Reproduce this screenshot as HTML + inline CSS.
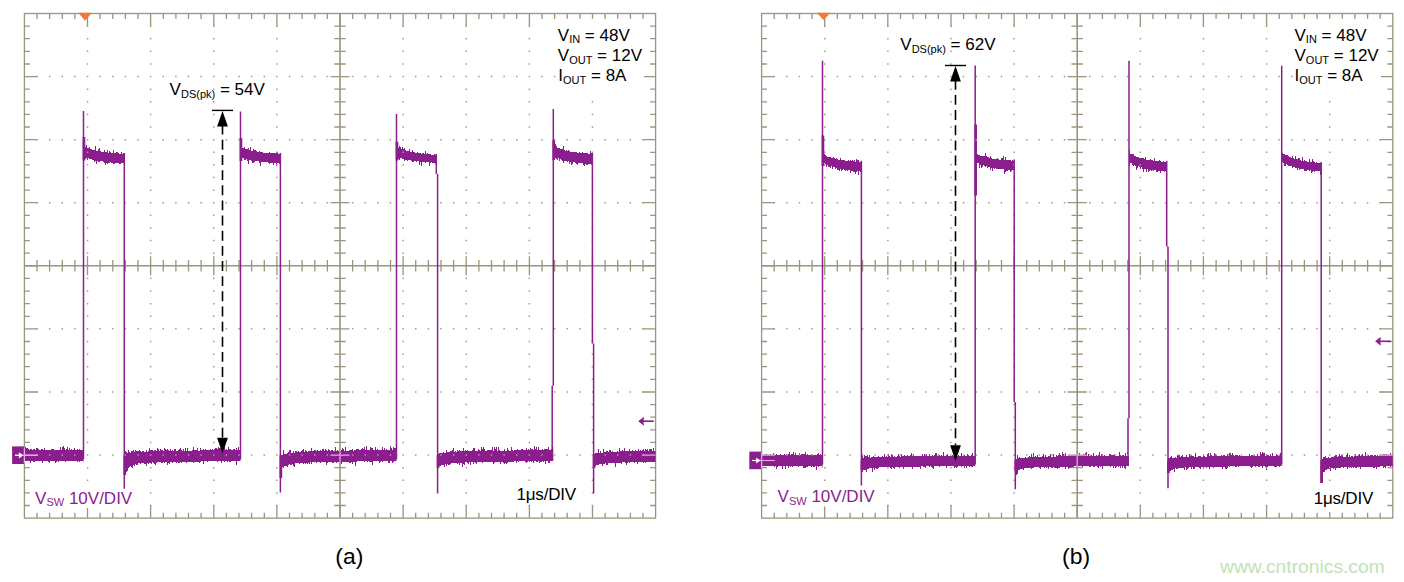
<!DOCTYPE html>
<html><head><meta charset="utf-8"><style>
html,body{margin:0;padding:0;background:#fff;}
svg{display:block;font-family:"Liberation Sans",sans-serif;}
</style></head><body>
<svg width="1404" height="582" viewBox="0 0 1404 582">
<rect x="24.4" y="13.5" width="631.2" height="504.6" fill="none" stroke="#9a957c" stroke-width="1.3"/>
<path d="M37.0 13.5v5.4M37.0 518.1v-5.4M49.6 13.5v5.4M49.6 518.1v-5.4M62.3 13.5v5.4M62.3 518.1v-5.4M74.9 13.5v5.4M74.9 518.1v-5.4M87.5 13.5v13.2M87.5 518.1v-13.2M100.1 13.5v5.4M100.1 518.1v-5.4M112.8 13.5v5.4M112.8 518.1v-5.4M125.4 13.5v5.4M125.4 518.1v-5.4M138.0 13.5v5.4M138.0 518.1v-5.4M150.6 13.5v13.2M150.6 518.1v-13.2M163.3 13.5v5.4M163.3 518.1v-5.4M175.9 13.5v5.4M175.9 518.1v-5.4M188.5 13.5v5.4M188.5 518.1v-5.4M201.1 13.5v5.4M201.1 518.1v-5.4M213.8 13.5v13.2M213.8 518.1v-13.2M226.4 13.5v5.4M226.4 518.1v-5.4M239.0 13.5v5.4M239.0 518.1v-5.4M251.6 13.5v5.4M251.6 518.1v-5.4M264.3 13.5v5.4M264.3 518.1v-5.4M276.9 13.5v13.2M276.9 518.1v-13.2M289.5 13.5v5.4M289.5 518.1v-5.4M302.1 13.5v5.4M302.1 518.1v-5.4M314.8 13.5v5.4M314.8 518.1v-5.4M327.4 13.5v5.4M327.4 518.1v-5.4M340.0 13.5v13.2M340.0 518.1v-13.2M352.6 13.5v5.4M352.6 518.1v-5.4M365.2 13.5v5.4M365.2 518.1v-5.4M377.9 13.5v5.4M377.9 518.1v-5.4M390.5 13.5v5.4M390.5 518.1v-5.4M403.1 13.5v13.2M403.1 518.1v-13.2M415.7 13.5v5.4M415.7 518.1v-5.4M428.4 13.5v5.4M428.4 518.1v-5.4M441.0 13.5v5.4M441.0 518.1v-5.4M453.6 13.5v5.4M453.6 518.1v-5.4M466.2 13.5v13.2M466.2 518.1v-13.2M478.9 13.5v5.4M478.9 518.1v-5.4M491.5 13.5v5.4M491.5 518.1v-5.4M504.1 13.5v5.4M504.1 518.1v-5.4M516.7 13.5v5.4M516.7 518.1v-5.4M529.4 13.5v13.2M529.4 518.1v-13.2M542.0 13.5v5.4M542.0 518.1v-5.4M554.6 13.5v5.4M554.6 518.1v-5.4M567.2 13.5v5.4M567.2 518.1v-5.4M579.9 13.5v5.4M579.9 518.1v-5.4M592.5 13.5v13.2M592.5 518.1v-13.2M605.1 13.5v5.4M605.1 518.1v-5.4M617.7 13.5v5.4M617.7 518.1v-5.4M630.4 13.5v5.4M630.4 518.1v-5.4M643.0 13.5v5.4M643.0 518.1v-5.4M24.4 26.1h5.4M655.6 26.1h-5.4M24.4 38.7h5.4M655.6 38.7h-5.4M24.4 51.3h5.4M655.6 51.3h-5.4M24.4 64.0h5.4M655.6 64.0h-5.4M24.4 76.6h13.2M655.6 76.6h-13.2M24.4 89.2h5.4M655.6 89.2h-5.4M24.4 101.8h5.4M655.6 101.8h-5.4M24.4 114.4h5.4M655.6 114.4h-5.4M24.4 127.0h5.4M655.6 127.0h-5.4M24.4 139.7h13.2M655.6 139.7h-13.2M24.4 152.3h5.4M655.6 152.3h-5.4M24.4 164.9h5.4M655.6 164.9h-5.4M24.4 177.5h5.4M655.6 177.5h-5.4M24.4 190.1h5.4M655.6 190.1h-5.4M24.4 202.7h13.2M655.6 202.7h-13.2M24.4 215.4h5.4M655.6 215.4h-5.4M24.4 228.0h5.4M655.6 228.0h-5.4M24.4 240.6h5.4M655.6 240.6h-5.4M24.4 253.2h5.4M655.6 253.2h-5.4M24.4 265.8h13.2M655.6 265.8h-13.2M24.4 278.4h5.4M655.6 278.4h-5.4M24.4 291.1h5.4M655.6 291.1h-5.4M24.4 303.7h5.4M655.6 303.7h-5.4M24.4 316.3h5.4M655.6 316.3h-5.4M24.4 328.9h13.2M655.6 328.9h-13.2M24.4 341.5h5.4M655.6 341.5h-5.4M24.4 354.1h5.4M655.6 354.1h-5.4M24.4 366.7h5.4M655.6 366.7h-5.4M24.4 379.4h5.4M655.6 379.4h-5.4M24.4 392.0h13.2M655.6 392.0h-13.2M24.4 404.6h5.4M655.6 404.6h-5.4M24.4 417.2h5.4M655.6 417.2h-5.4M24.4 429.8h5.4M655.6 429.8h-5.4M24.4 442.4h5.4M655.6 442.4h-5.4M24.4 455.1h13.2M655.6 455.1h-13.2M24.4 467.7h5.4M655.6 467.7h-5.4M24.4 480.3h5.4M655.6 480.3h-5.4M24.4 492.9h5.4M655.6 492.9h-5.4M24.4 505.5h5.4M655.6 505.5h-5.4M37.0 260.1v11.4M49.6 260.1v11.4M62.3 260.1v11.4M74.9 260.1v11.4M87.5 256.3v19.0M100.1 260.1v11.4M112.8 260.1v11.4M125.4 260.1v11.4M138.0 260.1v11.4M150.6 256.3v19.0M163.3 260.1v11.4M175.9 260.1v11.4M188.5 260.1v11.4M201.1 260.1v11.4M213.8 256.3v19.0M226.4 260.1v11.4M239.0 260.1v11.4M251.6 260.1v11.4M264.3 260.1v11.4M276.9 256.3v19.0M289.5 260.1v11.4M302.1 260.1v11.4M314.8 260.1v11.4M327.4 260.1v11.4M352.6 260.1v11.4M365.2 260.1v11.4M377.9 260.1v11.4M390.5 260.1v11.4M403.1 256.3v19.0M415.7 260.1v11.4M428.4 260.1v11.4M441.0 260.1v11.4M453.6 260.1v11.4M466.2 256.3v19.0M478.9 260.1v11.4M491.5 260.1v11.4M504.1 260.1v11.4M516.7 260.1v11.4M529.4 256.3v19.0M542.0 260.1v11.4M554.6 260.1v11.4M567.2 260.1v11.4M579.9 260.1v11.4M592.5 256.3v19.0M605.1 260.1v11.4M617.7 260.1v11.4M630.4 260.1v11.4M643.0 260.1v11.4M334.3 26.1h11.4M334.3 38.7h11.4M334.3 51.3h11.4M334.3 64.0h11.4M330.5 76.6h19.0M334.3 89.2h11.4M334.3 101.8h11.4M334.3 114.4h11.4M334.3 127.0h11.4M330.5 139.7h19.0M334.3 152.3h11.4M334.3 164.9h11.4M334.3 177.5h11.4M334.3 190.1h11.4M330.5 202.7h19.0M334.3 215.4h11.4M334.3 228.0h11.4M334.3 240.6h11.4M334.3 253.2h11.4M334.3 278.4h11.4M334.3 291.1h11.4M334.3 303.7h11.4M334.3 316.3h11.4M330.5 328.9h19.0M334.3 341.5h11.4M334.3 354.1h11.4M334.3 366.7h11.4M334.3 379.4h11.4M330.5 392.0h19.0M334.3 404.6h11.4M334.3 417.2h11.4M334.3 429.8h11.4M334.3 442.4h11.4M330.5 455.1h19.0M334.3 467.7h11.4M334.3 480.3h11.4M334.3 492.9h11.4M334.3 505.5h11.4" stroke="#9a957c" stroke-width="1.3" fill="none"/>
<path d="M340.0 13.5V518.1M24.4 265.8H655.6" stroke="#9a957c" stroke-width="1.6" fill="none"/>
<path d="M86.8 25.4h1.5v1.5h-1.5zM86.8 38.0h1.5v1.5h-1.5zM86.8 50.6h1.5v1.5h-1.5zM86.8 63.2h1.5v1.5h-1.5zM86.8 75.8h1.5v1.5h-1.5zM86.8 88.4h1.5v1.5h-1.5zM86.8 101.1h1.5v1.5h-1.5zM86.8 113.7h1.5v1.5h-1.5zM86.8 126.3h1.5v1.5h-1.5zM86.8 138.9h1.5v1.5h-1.5zM86.8 151.5h1.5v1.5h-1.5zM86.8 164.1h1.5v1.5h-1.5zM86.8 176.8h1.5v1.5h-1.5zM86.8 189.4h1.5v1.5h-1.5zM86.8 202.0h1.5v1.5h-1.5zM86.8 214.6h1.5v1.5h-1.5zM86.8 227.2h1.5v1.5h-1.5zM86.8 239.8h1.5v1.5h-1.5zM86.8 252.5h1.5v1.5h-1.5zM86.8 277.7h1.5v1.5h-1.5zM86.8 290.3h1.5v1.5h-1.5zM86.8 302.9h1.5v1.5h-1.5zM86.8 315.5h1.5v1.5h-1.5zM86.8 328.1h1.5v1.5h-1.5zM86.8 340.8h1.5v1.5h-1.5zM86.8 353.4h1.5v1.5h-1.5zM86.8 366.0h1.5v1.5h-1.5zM86.8 378.6h1.5v1.5h-1.5zM86.8 391.2h1.5v1.5h-1.5zM86.8 403.8h1.5v1.5h-1.5zM86.8 416.5h1.5v1.5h-1.5zM86.8 429.1h1.5v1.5h-1.5zM86.8 441.7h1.5v1.5h-1.5zM86.8 454.3h1.5v1.5h-1.5zM86.8 466.9h1.5v1.5h-1.5zM86.8 479.5h1.5v1.5h-1.5zM86.8 492.2h1.5v1.5h-1.5zM86.8 504.8h1.5v1.5h-1.5zM149.9 25.4h1.5v1.5h-1.5zM149.9 38.0h1.5v1.5h-1.5zM149.9 50.6h1.5v1.5h-1.5zM149.9 63.2h1.5v1.5h-1.5zM149.9 75.8h1.5v1.5h-1.5zM149.9 88.4h1.5v1.5h-1.5zM149.9 101.1h1.5v1.5h-1.5zM149.9 113.7h1.5v1.5h-1.5zM149.9 126.3h1.5v1.5h-1.5zM149.9 138.9h1.5v1.5h-1.5zM149.9 151.5h1.5v1.5h-1.5zM149.9 164.1h1.5v1.5h-1.5zM149.9 176.8h1.5v1.5h-1.5zM149.9 189.4h1.5v1.5h-1.5zM149.9 202.0h1.5v1.5h-1.5zM149.9 214.6h1.5v1.5h-1.5zM149.9 227.2h1.5v1.5h-1.5zM149.9 239.8h1.5v1.5h-1.5zM149.9 252.5h1.5v1.5h-1.5zM149.9 277.7h1.5v1.5h-1.5zM149.9 290.3h1.5v1.5h-1.5zM149.9 302.9h1.5v1.5h-1.5zM149.9 315.5h1.5v1.5h-1.5zM149.9 328.1h1.5v1.5h-1.5zM149.9 340.8h1.5v1.5h-1.5zM149.9 353.4h1.5v1.5h-1.5zM149.9 366.0h1.5v1.5h-1.5zM149.9 378.6h1.5v1.5h-1.5zM149.9 391.2h1.5v1.5h-1.5zM149.9 403.8h1.5v1.5h-1.5zM149.9 416.5h1.5v1.5h-1.5zM149.9 429.1h1.5v1.5h-1.5zM149.9 441.7h1.5v1.5h-1.5zM149.9 454.3h1.5v1.5h-1.5zM149.9 466.9h1.5v1.5h-1.5zM149.9 479.5h1.5v1.5h-1.5zM149.9 492.2h1.5v1.5h-1.5zM149.9 504.8h1.5v1.5h-1.5zM213.0 25.4h1.5v1.5h-1.5zM213.0 38.0h1.5v1.5h-1.5zM213.0 50.6h1.5v1.5h-1.5zM213.0 63.2h1.5v1.5h-1.5zM213.0 75.8h1.5v1.5h-1.5zM213.0 88.4h1.5v1.5h-1.5zM213.0 101.1h1.5v1.5h-1.5zM213.0 113.7h1.5v1.5h-1.5zM213.0 126.3h1.5v1.5h-1.5zM213.0 138.9h1.5v1.5h-1.5zM213.0 151.5h1.5v1.5h-1.5zM213.0 164.1h1.5v1.5h-1.5zM213.0 176.8h1.5v1.5h-1.5zM213.0 189.4h1.5v1.5h-1.5zM213.0 202.0h1.5v1.5h-1.5zM213.0 214.6h1.5v1.5h-1.5zM213.0 227.2h1.5v1.5h-1.5zM213.0 239.8h1.5v1.5h-1.5zM213.0 252.5h1.5v1.5h-1.5zM213.0 277.7h1.5v1.5h-1.5zM213.0 290.3h1.5v1.5h-1.5zM213.0 302.9h1.5v1.5h-1.5zM213.0 315.5h1.5v1.5h-1.5zM213.0 328.1h1.5v1.5h-1.5zM213.0 340.8h1.5v1.5h-1.5zM213.0 353.4h1.5v1.5h-1.5zM213.0 366.0h1.5v1.5h-1.5zM213.0 378.6h1.5v1.5h-1.5zM213.0 391.2h1.5v1.5h-1.5zM213.0 403.8h1.5v1.5h-1.5zM213.0 416.5h1.5v1.5h-1.5zM213.0 429.1h1.5v1.5h-1.5zM213.0 441.7h1.5v1.5h-1.5zM213.0 454.3h1.5v1.5h-1.5zM213.0 466.9h1.5v1.5h-1.5zM213.0 479.5h1.5v1.5h-1.5zM213.0 492.2h1.5v1.5h-1.5zM213.0 504.8h1.5v1.5h-1.5zM276.1 25.4h1.5v1.5h-1.5zM276.1 38.0h1.5v1.5h-1.5zM276.1 50.6h1.5v1.5h-1.5zM276.1 63.2h1.5v1.5h-1.5zM276.1 75.8h1.5v1.5h-1.5zM276.1 88.4h1.5v1.5h-1.5zM276.1 101.1h1.5v1.5h-1.5zM276.1 113.7h1.5v1.5h-1.5zM276.1 126.3h1.5v1.5h-1.5zM276.1 138.9h1.5v1.5h-1.5zM276.1 151.5h1.5v1.5h-1.5zM276.1 164.1h1.5v1.5h-1.5zM276.1 176.8h1.5v1.5h-1.5zM276.1 189.4h1.5v1.5h-1.5zM276.1 202.0h1.5v1.5h-1.5zM276.1 214.6h1.5v1.5h-1.5zM276.1 227.2h1.5v1.5h-1.5zM276.1 239.8h1.5v1.5h-1.5zM276.1 252.5h1.5v1.5h-1.5zM276.1 277.7h1.5v1.5h-1.5zM276.1 290.3h1.5v1.5h-1.5zM276.1 302.9h1.5v1.5h-1.5zM276.1 315.5h1.5v1.5h-1.5zM276.1 328.1h1.5v1.5h-1.5zM276.1 340.8h1.5v1.5h-1.5zM276.1 353.4h1.5v1.5h-1.5zM276.1 366.0h1.5v1.5h-1.5zM276.1 378.6h1.5v1.5h-1.5zM276.1 391.2h1.5v1.5h-1.5zM276.1 403.8h1.5v1.5h-1.5zM276.1 416.5h1.5v1.5h-1.5zM276.1 429.1h1.5v1.5h-1.5zM276.1 441.7h1.5v1.5h-1.5zM276.1 454.3h1.5v1.5h-1.5zM276.1 466.9h1.5v1.5h-1.5zM276.1 479.5h1.5v1.5h-1.5zM276.1 492.2h1.5v1.5h-1.5zM276.1 504.8h1.5v1.5h-1.5zM402.4 25.4h1.5v1.5h-1.5zM402.4 38.0h1.5v1.5h-1.5zM402.4 50.6h1.5v1.5h-1.5zM402.4 63.2h1.5v1.5h-1.5zM402.4 75.8h1.5v1.5h-1.5zM402.4 88.4h1.5v1.5h-1.5zM402.4 101.1h1.5v1.5h-1.5zM402.4 113.7h1.5v1.5h-1.5zM402.4 126.3h1.5v1.5h-1.5zM402.4 138.9h1.5v1.5h-1.5zM402.4 151.5h1.5v1.5h-1.5zM402.4 164.1h1.5v1.5h-1.5zM402.4 176.8h1.5v1.5h-1.5zM402.4 189.4h1.5v1.5h-1.5zM402.4 202.0h1.5v1.5h-1.5zM402.4 214.6h1.5v1.5h-1.5zM402.4 227.2h1.5v1.5h-1.5zM402.4 239.8h1.5v1.5h-1.5zM402.4 252.5h1.5v1.5h-1.5zM402.4 277.7h1.5v1.5h-1.5zM402.4 290.3h1.5v1.5h-1.5zM402.4 302.9h1.5v1.5h-1.5zM402.4 315.5h1.5v1.5h-1.5zM402.4 328.1h1.5v1.5h-1.5zM402.4 340.8h1.5v1.5h-1.5zM402.4 353.4h1.5v1.5h-1.5zM402.4 366.0h1.5v1.5h-1.5zM402.4 378.6h1.5v1.5h-1.5zM402.4 391.2h1.5v1.5h-1.5zM402.4 403.8h1.5v1.5h-1.5zM402.4 416.5h1.5v1.5h-1.5zM402.4 429.1h1.5v1.5h-1.5zM402.4 441.7h1.5v1.5h-1.5zM402.4 454.3h1.5v1.5h-1.5zM402.4 466.9h1.5v1.5h-1.5zM402.4 479.5h1.5v1.5h-1.5zM402.4 492.2h1.5v1.5h-1.5zM402.4 504.8h1.5v1.5h-1.5zM465.5 25.4h1.5v1.5h-1.5zM465.5 38.0h1.5v1.5h-1.5zM465.5 50.6h1.5v1.5h-1.5zM465.5 63.2h1.5v1.5h-1.5zM465.5 75.8h1.5v1.5h-1.5zM465.5 88.4h1.5v1.5h-1.5zM465.5 101.1h1.5v1.5h-1.5zM465.5 113.7h1.5v1.5h-1.5zM465.5 126.3h1.5v1.5h-1.5zM465.5 138.9h1.5v1.5h-1.5zM465.5 151.5h1.5v1.5h-1.5zM465.5 164.1h1.5v1.5h-1.5zM465.5 176.8h1.5v1.5h-1.5zM465.5 189.4h1.5v1.5h-1.5zM465.5 202.0h1.5v1.5h-1.5zM465.5 214.6h1.5v1.5h-1.5zM465.5 227.2h1.5v1.5h-1.5zM465.5 239.8h1.5v1.5h-1.5zM465.5 252.5h1.5v1.5h-1.5zM465.5 277.7h1.5v1.5h-1.5zM465.5 290.3h1.5v1.5h-1.5zM465.5 302.9h1.5v1.5h-1.5zM465.5 315.5h1.5v1.5h-1.5zM465.5 328.1h1.5v1.5h-1.5zM465.5 340.8h1.5v1.5h-1.5zM465.5 353.4h1.5v1.5h-1.5zM465.5 366.0h1.5v1.5h-1.5zM465.5 378.6h1.5v1.5h-1.5zM465.5 391.2h1.5v1.5h-1.5zM465.5 403.8h1.5v1.5h-1.5zM465.5 416.5h1.5v1.5h-1.5zM465.5 429.1h1.5v1.5h-1.5zM465.5 441.7h1.5v1.5h-1.5zM465.5 454.3h1.5v1.5h-1.5zM465.5 466.9h1.5v1.5h-1.5zM465.5 479.5h1.5v1.5h-1.5zM465.5 492.2h1.5v1.5h-1.5zM465.5 504.8h1.5v1.5h-1.5zM528.6 25.4h1.5v1.5h-1.5zM528.6 38.0h1.5v1.5h-1.5zM528.6 50.6h1.5v1.5h-1.5zM528.6 63.2h1.5v1.5h-1.5zM528.6 75.8h1.5v1.5h-1.5zM528.6 88.4h1.5v1.5h-1.5zM528.6 101.1h1.5v1.5h-1.5zM528.6 113.7h1.5v1.5h-1.5zM528.6 126.3h1.5v1.5h-1.5zM528.6 138.9h1.5v1.5h-1.5zM528.6 151.5h1.5v1.5h-1.5zM528.6 164.1h1.5v1.5h-1.5zM528.6 176.8h1.5v1.5h-1.5zM528.6 189.4h1.5v1.5h-1.5zM528.6 202.0h1.5v1.5h-1.5zM528.6 214.6h1.5v1.5h-1.5zM528.6 227.2h1.5v1.5h-1.5zM528.6 239.8h1.5v1.5h-1.5zM528.6 252.5h1.5v1.5h-1.5zM528.6 277.7h1.5v1.5h-1.5zM528.6 290.3h1.5v1.5h-1.5zM528.6 302.9h1.5v1.5h-1.5zM528.6 315.5h1.5v1.5h-1.5zM528.6 328.1h1.5v1.5h-1.5zM528.6 340.8h1.5v1.5h-1.5zM528.6 353.4h1.5v1.5h-1.5zM528.6 366.0h1.5v1.5h-1.5zM528.6 378.6h1.5v1.5h-1.5zM528.6 391.2h1.5v1.5h-1.5zM528.6 403.8h1.5v1.5h-1.5zM528.6 416.5h1.5v1.5h-1.5zM528.6 429.1h1.5v1.5h-1.5zM528.6 441.7h1.5v1.5h-1.5zM528.6 454.3h1.5v1.5h-1.5zM528.6 466.9h1.5v1.5h-1.5zM528.6 479.5h1.5v1.5h-1.5zM528.6 492.2h1.5v1.5h-1.5zM528.6 504.8h1.5v1.5h-1.5zM591.7 25.4h1.5v1.5h-1.5zM591.7 38.0h1.5v1.5h-1.5zM591.7 50.6h1.5v1.5h-1.5zM591.7 63.2h1.5v1.5h-1.5zM591.7 75.8h1.5v1.5h-1.5zM591.7 88.4h1.5v1.5h-1.5zM591.7 101.1h1.5v1.5h-1.5zM591.7 113.7h1.5v1.5h-1.5zM591.7 126.3h1.5v1.5h-1.5zM591.7 138.9h1.5v1.5h-1.5zM591.7 151.5h1.5v1.5h-1.5zM591.7 164.1h1.5v1.5h-1.5zM591.7 176.8h1.5v1.5h-1.5zM591.7 189.4h1.5v1.5h-1.5zM591.7 202.0h1.5v1.5h-1.5zM591.7 214.6h1.5v1.5h-1.5zM591.7 227.2h1.5v1.5h-1.5zM591.7 239.8h1.5v1.5h-1.5zM591.7 252.5h1.5v1.5h-1.5zM591.7 277.7h1.5v1.5h-1.5zM591.7 290.3h1.5v1.5h-1.5zM591.7 302.9h1.5v1.5h-1.5zM591.7 315.5h1.5v1.5h-1.5zM591.7 328.1h1.5v1.5h-1.5zM591.7 340.8h1.5v1.5h-1.5zM591.7 353.4h1.5v1.5h-1.5zM591.7 366.0h1.5v1.5h-1.5zM591.7 378.6h1.5v1.5h-1.5zM591.7 391.2h1.5v1.5h-1.5zM591.7 403.8h1.5v1.5h-1.5zM591.7 416.5h1.5v1.5h-1.5zM591.7 429.1h1.5v1.5h-1.5zM591.7 441.7h1.5v1.5h-1.5zM591.7 454.3h1.5v1.5h-1.5zM591.7 466.9h1.5v1.5h-1.5zM591.7 479.5h1.5v1.5h-1.5zM591.7 492.2h1.5v1.5h-1.5zM591.7 504.8h1.5v1.5h-1.5zM36.3 75.8h1.5v1.5h-1.5zM48.9 75.8h1.5v1.5h-1.5zM61.5 75.8h1.5v1.5h-1.5zM74.1 75.8h1.5v1.5h-1.5zM99.4 75.8h1.5v1.5h-1.5zM112.0 75.8h1.5v1.5h-1.5zM124.6 75.8h1.5v1.5h-1.5zM137.3 75.8h1.5v1.5h-1.5zM162.5 75.8h1.5v1.5h-1.5zM175.1 75.8h1.5v1.5h-1.5zM187.8 75.8h1.5v1.5h-1.5zM200.4 75.8h1.5v1.5h-1.5zM225.6 75.8h1.5v1.5h-1.5zM238.3 75.8h1.5v1.5h-1.5zM250.9 75.8h1.5v1.5h-1.5zM263.5 75.8h1.5v1.5h-1.5zM288.8 75.8h1.5v1.5h-1.5zM301.4 75.8h1.5v1.5h-1.5zM314.0 75.8h1.5v1.5h-1.5zM326.6 75.8h1.5v1.5h-1.5zM351.9 75.8h1.5v1.5h-1.5zM364.5 75.8h1.5v1.5h-1.5zM377.1 75.8h1.5v1.5h-1.5zM389.7 75.8h1.5v1.5h-1.5zM415.0 75.8h1.5v1.5h-1.5zM427.6 75.8h1.5v1.5h-1.5zM440.2 75.8h1.5v1.5h-1.5zM452.9 75.8h1.5v1.5h-1.5zM478.1 75.8h1.5v1.5h-1.5zM490.7 75.8h1.5v1.5h-1.5zM503.4 75.8h1.5v1.5h-1.5zM516.0 75.8h1.5v1.5h-1.5zM541.2 75.8h1.5v1.5h-1.5zM553.9 75.8h1.5v1.5h-1.5zM566.5 75.8h1.5v1.5h-1.5zM579.1 75.8h1.5v1.5h-1.5zM604.4 75.8h1.5v1.5h-1.5zM617.0 75.8h1.5v1.5h-1.5zM629.6 75.8h1.5v1.5h-1.5zM642.2 75.8h1.5v1.5h-1.5zM36.3 138.9h1.5v1.5h-1.5zM48.9 138.9h1.5v1.5h-1.5zM61.5 138.9h1.5v1.5h-1.5zM74.1 138.9h1.5v1.5h-1.5zM99.4 138.9h1.5v1.5h-1.5zM112.0 138.9h1.5v1.5h-1.5zM124.6 138.9h1.5v1.5h-1.5zM137.3 138.9h1.5v1.5h-1.5zM162.5 138.9h1.5v1.5h-1.5zM175.1 138.9h1.5v1.5h-1.5zM187.8 138.9h1.5v1.5h-1.5zM200.4 138.9h1.5v1.5h-1.5zM225.6 138.9h1.5v1.5h-1.5zM238.3 138.9h1.5v1.5h-1.5zM250.9 138.9h1.5v1.5h-1.5zM263.5 138.9h1.5v1.5h-1.5zM288.8 138.9h1.5v1.5h-1.5zM301.4 138.9h1.5v1.5h-1.5zM314.0 138.9h1.5v1.5h-1.5zM326.6 138.9h1.5v1.5h-1.5zM351.9 138.9h1.5v1.5h-1.5zM364.5 138.9h1.5v1.5h-1.5zM377.1 138.9h1.5v1.5h-1.5zM389.7 138.9h1.5v1.5h-1.5zM415.0 138.9h1.5v1.5h-1.5zM427.6 138.9h1.5v1.5h-1.5zM440.2 138.9h1.5v1.5h-1.5zM452.9 138.9h1.5v1.5h-1.5zM478.1 138.9h1.5v1.5h-1.5zM490.7 138.9h1.5v1.5h-1.5zM503.4 138.9h1.5v1.5h-1.5zM516.0 138.9h1.5v1.5h-1.5zM541.2 138.9h1.5v1.5h-1.5zM553.9 138.9h1.5v1.5h-1.5zM566.5 138.9h1.5v1.5h-1.5zM579.1 138.9h1.5v1.5h-1.5zM604.4 138.9h1.5v1.5h-1.5zM617.0 138.9h1.5v1.5h-1.5zM629.6 138.9h1.5v1.5h-1.5zM642.2 138.9h1.5v1.5h-1.5zM36.3 202.0h1.5v1.5h-1.5zM48.9 202.0h1.5v1.5h-1.5zM61.5 202.0h1.5v1.5h-1.5zM74.1 202.0h1.5v1.5h-1.5zM99.4 202.0h1.5v1.5h-1.5zM112.0 202.0h1.5v1.5h-1.5zM124.6 202.0h1.5v1.5h-1.5zM137.3 202.0h1.5v1.5h-1.5zM162.5 202.0h1.5v1.5h-1.5zM175.1 202.0h1.5v1.5h-1.5zM187.8 202.0h1.5v1.5h-1.5zM200.4 202.0h1.5v1.5h-1.5zM225.6 202.0h1.5v1.5h-1.5zM238.3 202.0h1.5v1.5h-1.5zM250.9 202.0h1.5v1.5h-1.5zM263.5 202.0h1.5v1.5h-1.5zM288.8 202.0h1.5v1.5h-1.5zM301.4 202.0h1.5v1.5h-1.5zM314.0 202.0h1.5v1.5h-1.5zM326.6 202.0h1.5v1.5h-1.5zM351.9 202.0h1.5v1.5h-1.5zM364.5 202.0h1.5v1.5h-1.5zM377.1 202.0h1.5v1.5h-1.5zM389.7 202.0h1.5v1.5h-1.5zM415.0 202.0h1.5v1.5h-1.5zM427.6 202.0h1.5v1.5h-1.5zM440.2 202.0h1.5v1.5h-1.5zM452.9 202.0h1.5v1.5h-1.5zM478.1 202.0h1.5v1.5h-1.5zM490.7 202.0h1.5v1.5h-1.5zM503.4 202.0h1.5v1.5h-1.5zM516.0 202.0h1.5v1.5h-1.5zM541.2 202.0h1.5v1.5h-1.5zM553.9 202.0h1.5v1.5h-1.5zM566.5 202.0h1.5v1.5h-1.5zM579.1 202.0h1.5v1.5h-1.5zM604.4 202.0h1.5v1.5h-1.5zM617.0 202.0h1.5v1.5h-1.5zM629.6 202.0h1.5v1.5h-1.5zM642.2 202.0h1.5v1.5h-1.5zM36.3 328.1h1.5v1.5h-1.5zM48.9 328.1h1.5v1.5h-1.5zM61.5 328.1h1.5v1.5h-1.5zM74.1 328.1h1.5v1.5h-1.5zM99.4 328.1h1.5v1.5h-1.5zM112.0 328.1h1.5v1.5h-1.5zM124.6 328.1h1.5v1.5h-1.5zM137.3 328.1h1.5v1.5h-1.5zM162.5 328.1h1.5v1.5h-1.5zM175.1 328.1h1.5v1.5h-1.5zM187.8 328.1h1.5v1.5h-1.5zM200.4 328.1h1.5v1.5h-1.5zM225.6 328.1h1.5v1.5h-1.5zM238.3 328.1h1.5v1.5h-1.5zM250.9 328.1h1.5v1.5h-1.5zM263.5 328.1h1.5v1.5h-1.5zM288.8 328.1h1.5v1.5h-1.5zM301.4 328.1h1.5v1.5h-1.5zM314.0 328.1h1.5v1.5h-1.5zM326.6 328.1h1.5v1.5h-1.5zM351.9 328.1h1.5v1.5h-1.5zM364.5 328.1h1.5v1.5h-1.5zM377.1 328.1h1.5v1.5h-1.5zM389.7 328.1h1.5v1.5h-1.5zM415.0 328.1h1.5v1.5h-1.5zM427.6 328.1h1.5v1.5h-1.5zM440.2 328.1h1.5v1.5h-1.5zM452.9 328.1h1.5v1.5h-1.5zM478.1 328.1h1.5v1.5h-1.5zM490.7 328.1h1.5v1.5h-1.5zM503.4 328.1h1.5v1.5h-1.5zM516.0 328.1h1.5v1.5h-1.5zM541.2 328.1h1.5v1.5h-1.5zM553.9 328.1h1.5v1.5h-1.5zM566.5 328.1h1.5v1.5h-1.5zM579.1 328.1h1.5v1.5h-1.5zM604.4 328.1h1.5v1.5h-1.5zM617.0 328.1h1.5v1.5h-1.5zM629.6 328.1h1.5v1.5h-1.5zM642.2 328.1h1.5v1.5h-1.5zM36.3 391.2h1.5v1.5h-1.5zM48.9 391.2h1.5v1.5h-1.5zM61.5 391.2h1.5v1.5h-1.5zM74.1 391.2h1.5v1.5h-1.5zM99.4 391.2h1.5v1.5h-1.5zM112.0 391.2h1.5v1.5h-1.5zM124.6 391.2h1.5v1.5h-1.5zM137.3 391.2h1.5v1.5h-1.5zM162.5 391.2h1.5v1.5h-1.5zM175.1 391.2h1.5v1.5h-1.5zM187.8 391.2h1.5v1.5h-1.5zM200.4 391.2h1.5v1.5h-1.5zM225.6 391.2h1.5v1.5h-1.5zM238.3 391.2h1.5v1.5h-1.5zM250.9 391.2h1.5v1.5h-1.5zM263.5 391.2h1.5v1.5h-1.5zM288.8 391.2h1.5v1.5h-1.5zM301.4 391.2h1.5v1.5h-1.5zM314.0 391.2h1.5v1.5h-1.5zM326.6 391.2h1.5v1.5h-1.5zM351.9 391.2h1.5v1.5h-1.5zM364.5 391.2h1.5v1.5h-1.5zM377.1 391.2h1.5v1.5h-1.5zM389.7 391.2h1.5v1.5h-1.5zM415.0 391.2h1.5v1.5h-1.5zM427.6 391.2h1.5v1.5h-1.5zM440.2 391.2h1.5v1.5h-1.5zM452.9 391.2h1.5v1.5h-1.5zM478.1 391.2h1.5v1.5h-1.5zM490.7 391.2h1.5v1.5h-1.5zM503.4 391.2h1.5v1.5h-1.5zM516.0 391.2h1.5v1.5h-1.5zM541.2 391.2h1.5v1.5h-1.5zM553.9 391.2h1.5v1.5h-1.5zM566.5 391.2h1.5v1.5h-1.5zM579.1 391.2h1.5v1.5h-1.5zM604.4 391.2h1.5v1.5h-1.5zM617.0 391.2h1.5v1.5h-1.5zM629.6 391.2h1.5v1.5h-1.5zM642.2 391.2h1.5v1.5h-1.5zM36.3 454.3h1.5v1.5h-1.5zM48.9 454.3h1.5v1.5h-1.5zM61.5 454.3h1.5v1.5h-1.5zM74.1 454.3h1.5v1.5h-1.5zM99.4 454.3h1.5v1.5h-1.5zM112.0 454.3h1.5v1.5h-1.5zM124.6 454.3h1.5v1.5h-1.5zM137.3 454.3h1.5v1.5h-1.5zM162.5 454.3h1.5v1.5h-1.5zM175.1 454.3h1.5v1.5h-1.5zM187.8 454.3h1.5v1.5h-1.5zM200.4 454.3h1.5v1.5h-1.5zM225.6 454.3h1.5v1.5h-1.5zM238.3 454.3h1.5v1.5h-1.5zM250.9 454.3h1.5v1.5h-1.5zM263.5 454.3h1.5v1.5h-1.5zM288.8 454.3h1.5v1.5h-1.5zM301.4 454.3h1.5v1.5h-1.5zM314.0 454.3h1.5v1.5h-1.5zM326.6 454.3h1.5v1.5h-1.5zM351.9 454.3h1.5v1.5h-1.5zM364.5 454.3h1.5v1.5h-1.5zM377.1 454.3h1.5v1.5h-1.5zM389.7 454.3h1.5v1.5h-1.5zM415.0 454.3h1.5v1.5h-1.5zM427.6 454.3h1.5v1.5h-1.5zM440.2 454.3h1.5v1.5h-1.5zM452.9 454.3h1.5v1.5h-1.5zM478.1 454.3h1.5v1.5h-1.5zM490.7 454.3h1.5v1.5h-1.5zM503.4 454.3h1.5v1.5h-1.5zM516.0 454.3h1.5v1.5h-1.5zM541.2 454.3h1.5v1.5h-1.5zM553.9 454.3h1.5v1.5h-1.5zM566.5 454.3h1.5v1.5h-1.5zM579.1 454.3h1.5v1.5h-1.5zM604.4 454.3h1.5v1.5h-1.5zM617.0 454.3h1.5v1.5h-1.5zM629.6 454.3h1.5v1.5h-1.5zM642.2 454.3h1.5v1.5h-1.5z" fill="#a39e80"/>
<rect x="761.6" y="13.5" width="631.2" height="504.6" fill="none" stroke="#9a957c" stroke-width="1.3"/>
<path d="M774.2 13.5v5.4M774.2 518.1v-5.4M786.8 13.5v5.4M786.8 518.1v-5.4M799.5 13.5v5.4M799.5 518.1v-5.4M812.1 13.5v5.4M812.1 518.1v-5.4M824.7 13.5v13.2M824.7 518.1v-13.2M837.3 13.5v5.4M837.3 518.1v-5.4M850.0 13.5v5.4M850.0 518.1v-5.4M862.6 13.5v5.4M862.6 518.1v-5.4M875.2 13.5v5.4M875.2 518.1v-5.4M887.8 13.5v13.2M887.8 518.1v-13.2M900.5 13.5v5.4M900.5 518.1v-5.4M913.1 13.5v5.4M913.1 518.1v-5.4M925.7 13.5v5.4M925.7 518.1v-5.4M938.3 13.5v5.4M938.3 518.1v-5.4M951.0 13.5v13.2M951.0 518.1v-13.2M963.6 13.5v5.4M963.6 518.1v-5.4M976.2 13.5v5.4M976.2 518.1v-5.4M988.8 13.5v5.4M988.8 518.1v-5.4M1001.5 13.5v5.4M1001.5 518.1v-5.4M1014.1 13.5v13.2M1014.1 518.1v-13.2M1026.7 13.5v5.4M1026.7 518.1v-5.4M1039.3 13.5v5.4M1039.3 518.1v-5.4M1052.0 13.5v5.4M1052.0 518.1v-5.4M1064.6 13.5v5.4M1064.6 518.1v-5.4M1077.2 13.5v13.2M1077.2 518.1v-13.2M1089.8 13.5v5.4M1089.8 518.1v-5.4M1102.4 13.5v5.4M1102.4 518.1v-5.4M1115.1 13.5v5.4M1115.1 518.1v-5.4M1127.7 13.5v5.4M1127.7 518.1v-5.4M1140.3 13.5v13.2M1140.3 518.1v-13.2M1152.9 13.5v5.4M1152.9 518.1v-5.4M1165.6 13.5v5.4M1165.6 518.1v-5.4M1178.2 13.5v5.4M1178.2 518.1v-5.4M1190.8 13.5v5.4M1190.8 518.1v-5.4M1203.4 13.5v13.2M1203.4 518.1v-13.2M1216.1 13.5v5.4M1216.1 518.1v-5.4M1228.7 13.5v5.4M1228.7 518.1v-5.4M1241.3 13.5v5.4M1241.3 518.1v-5.4M1253.9 13.5v5.4M1253.9 518.1v-5.4M1266.6 13.5v13.2M1266.6 518.1v-13.2M1279.2 13.5v5.4M1279.2 518.1v-5.4M1291.8 13.5v5.4M1291.8 518.1v-5.4M1304.4 13.5v5.4M1304.4 518.1v-5.4M1317.1 13.5v5.4M1317.1 518.1v-5.4M1329.7 13.5v13.2M1329.7 518.1v-13.2M1342.3 13.5v5.4M1342.3 518.1v-5.4M1354.9 13.5v5.4M1354.9 518.1v-5.4M1367.6 13.5v5.4M1367.6 518.1v-5.4M1380.2 13.5v5.4M1380.2 518.1v-5.4M761.6 26.1h5.4M1392.8 26.1h-5.4M761.6 38.7h5.4M1392.8 38.7h-5.4M761.6 51.3h5.4M1392.8 51.3h-5.4M761.6 64.0h5.4M1392.8 64.0h-5.4M761.6 76.6h13.2M1392.8 76.6h-13.2M761.6 89.2h5.4M1392.8 89.2h-5.4M761.6 101.8h5.4M1392.8 101.8h-5.4M761.6 114.4h5.4M1392.8 114.4h-5.4M761.6 127.0h5.4M1392.8 127.0h-5.4M761.6 139.7h13.2M1392.8 139.7h-13.2M761.6 152.3h5.4M1392.8 152.3h-5.4M761.6 164.9h5.4M1392.8 164.9h-5.4M761.6 177.5h5.4M1392.8 177.5h-5.4M761.6 190.1h5.4M1392.8 190.1h-5.4M761.6 202.7h13.2M1392.8 202.7h-13.2M761.6 215.4h5.4M1392.8 215.4h-5.4M761.6 228.0h5.4M1392.8 228.0h-5.4M761.6 240.6h5.4M1392.8 240.6h-5.4M761.6 253.2h5.4M1392.8 253.2h-5.4M761.6 265.8h13.2M1392.8 265.8h-13.2M761.6 278.4h5.4M1392.8 278.4h-5.4M761.6 291.1h5.4M1392.8 291.1h-5.4M761.6 303.7h5.4M1392.8 303.7h-5.4M761.6 316.3h5.4M1392.8 316.3h-5.4M761.6 328.9h13.2M1392.8 328.9h-13.2M761.6 341.5h5.4M1392.8 341.5h-5.4M761.6 354.1h5.4M1392.8 354.1h-5.4M761.6 366.7h5.4M1392.8 366.7h-5.4M761.6 379.4h5.4M1392.8 379.4h-5.4M761.6 392.0h13.2M1392.8 392.0h-13.2M761.6 404.6h5.4M1392.8 404.6h-5.4M761.6 417.2h5.4M1392.8 417.2h-5.4M761.6 429.8h5.4M1392.8 429.8h-5.4M761.6 442.4h5.4M1392.8 442.4h-5.4M761.6 455.1h13.2M1392.8 455.1h-13.2M761.6 467.7h5.4M1392.8 467.7h-5.4M761.6 480.3h5.4M1392.8 480.3h-5.4M761.6 492.9h5.4M1392.8 492.9h-5.4M761.6 505.5h5.4M1392.8 505.5h-5.4M774.2 260.1v11.4M786.8 260.1v11.4M799.5 260.1v11.4M812.1 260.1v11.4M824.7 256.3v19.0M837.3 260.1v11.4M850.0 260.1v11.4M862.6 260.1v11.4M875.2 260.1v11.4M887.8 256.3v19.0M900.5 260.1v11.4M913.1 260.1v11.4M925.7 260.1v11.4M938.3 260.1v11.4M951.0 256.3v19.0M963.6 260.1v11.4M976.2 260.1v11.4M988.8 260.1v11.4M1001.5 260.1v11.4M1014.1 256.3v19.0M1026.7 260.1v11.4M1039.3 260.1v11.4M1052.0 260.1v11.4M1064.6 260.1v11.4M1089.8 260.1v11.4M1102.4 260.1v11.4M1115.1 260.1v11.4M1127.7 260.1v11.4M1140.3 256.3v19.0M1152.9 260.1v11.4M1165.6 260.1v11.4M1178.2 260.1v11.4M1190.8 260.1v11.4M1203.4 256.3v19.0M1216.1 260.1v11.4M1228.7 260.1v11.4M1241.3 260.1v11.4M1253.9 260.1v11.4M1266.6 256.3v19.0M1279.2 260.1v11.4M1291.8 260.1v11.4M1304.4 260.1v11.4M1317.1 260.1v11.4M1329.7 256.3v19.0M1342.3 260.1v11.4M1354.9 260.1v11.4M1367.6 260.1v11.4M1380.2 260.1v11.4M1071.5 26.1h11.4M1071.5 38.7h11.4M1071.5 51.3h11.4M1071.5 64.0h11.4M1067.7 76.6h19.0M1071.5 89.2h11.4M1071.5 101.8h11.4M1071.5 114.4h11.4M1071.5 127.0h11.4M1067.7 139.7h19.0M1071.5 152.3h11.4M1071.5 164.9h11.4M1071.5 177.5h11.4M1071.5 190.1h11.4M1067.7 202.7h19.0M1071.5 215.4h11.4M1071.5 228.0h11.4M1071.5 240.6h11.4M1071.5 253.2h11.4M1071.5 278.4h11.4M1071.5 291.1h11.4M1071.5 303.7h11.4M1071.5 316.3h11.4M1067.7 328.9h19.0M1071.5 341.5h11.4M1071.5 354.1h11.4M1071.5 366.7h11.4M1071.5 379.4h11.4M1067.7 392.0h19.0M1071.5 404.6h11.4M1071.5 417.2h11.4M1071.5 429.8h11.4M1071.5 442.4h11.4M1067.7 455.1h19.0M1071.5 467.7h11.4M1071.5 480.3h11.4M1071.5 492.9h11.4M1071.5 505.5h11.4" stroke="#9a957c" stroke-width="1.3" fill="none"/>
<path d="M1077.2 13.5V518.1M761.6 265.8H1392.8" stroke="#9a957c" stroke-width="1.6" fill="none"/>
<path d="M824.0 25.4h1.5v1.5h-1.5zM824.0 38.0h1.5v1.5h-1.5zM824.0 50.6h1.5v1.5h-1.5zM824.0 63.2h1.5v1.5h-1.5zM824.0 75.8h1.5v1.5h-1.5zM824.0 88.4h1.5v1.5h-1.5zM824.0 101.1h1.5v1.5h-1.5zM824.0 113.7h1.5v1.5h-1.5zM824.0 126.3h1.5v1.5h-1.5zM824.0 138.9h1.5v1.5h-1.5zM824.0 151.5h1.5v1.5h-1.5zM824.0 164.1h1.5v1.5h-1.5zM824.0 176.8h1.5v1.5h-1.5zM824.0 189.4h1.5v1.5h-1.5zM824.0 202.0h1.5v1.5h-1.5zM824.0 214.6h1.5v1.5h-1.5zM824.0 227.2h1.5v1.5h-1.5zM824.0 239.8h1.5v1.5h-1.5zM824.0 252.5h1.5v1.5h-1.5zM824.0 277.7h1.5v1.5h-1.5zM824.0 290.3h1.5v1.5h-1.5zM824.0 302.9h1.5v1.5h-1.5zM824.0 315.5h1.5v1.5h-1.5zM824.0 328.1h1.5v1.5h-1.5zM824.0 340.8h1.5v1.5h-1.5zM824.0 353.4h1.5v1.5h-1.5zM824.0 366.0h1.5v1.5h-1.5zM824.0 378.6h1.5v1.5h-1.5zM824.0 391.2h1.5v1.5h-1.5zM824.0 403.8h1.5v1.5h-1.5zM824.0 416.5h1.5v1.5h-1.5zM824.0 429.1h1.5v1.5h-1.5zM824.0 441.7h1.5v1.5h-1.5zM824.0 454.3h1.5v1.5h-1.5zM824.0 466.9h1.5v1.5h-1.5zM824.0 479.5h1.5v1.5h-1.5zM824.0 492.2h1.5v1.5h-1.5zM824.0 504.8h1.5v1.5h-1.5zM887.1 25.4h1.5v1.5h-1.5zM887.1 38.0h1.5v1.5h-1.5zM887.1 50.6h1.5v1.5h-1.5zM887.1 63.2h1.5v1.5h-1.5zM887.1 75.8h1.5v1.5h-1.5zM887.1 88.4h1.5v1.5h-1.5zM887.1 101.1h1.5v1.5h-1.5zM887.1 113.7h1.5v1.5h-1.5zM887.1 126.3h1.5v1.5h-1.5zM887.1 138.9h1.5v1.5h-1.5zM887.1 151.5h1.5v1.5h-1.5zM887.1 164.1h1.5v1.5h-1.5zM887.1 176.8h1.5v1.5h-1.5zM887.1 189.4h1.5v1.5h-1.5zM887.1 202.0h1.5v1.5h-1.5zM887.1 214.6h1.5v1.5h-1.5zM887.1 227.2h1.5v1.5h-1.5zM887.1 239.8h1.5v1.5h-1.5zM887.1 252.5h1.5v1.5h-1.5zM887.1 277.7h1.5v1.5h-1.5zM887.1 290.3h1.5v1.5h-1.5zM887.1 302.9h1.5v1.5h-1.5zM887.1 315.5h1.5v1.5h-1.5zM887.1 328.1h1.5v1.5h-1.5zM887.1 340.8h1.5v1.5h-1.5zM887.1 353.4h1.5v1.5h-1.5zM887.1 366.0h1.5v1.5h-1.5zM887.1 378.6h1.5v1.5h-1.5zM887.1 391.2h1.5v1.5h-1.5zM887.1 403.8h1.5v1.5h-1.5zM887.1 416.5h1.5v1.5h-1.5zM887.1 429.1h1.5v1.5h-1.5zM887.1 441.7h1.5v1.5h-1.5zM887.1 454.3h1.5v1.5h-1.5zM887.1 466.9h1.5v1.5h-1.5zM887.1 479.5h1.5v1.5h-1.5zM887.1 492.2h1.5v1.5h-1.5zM887.1 504.8h1.5v1.5h-1.5zM950.2 25.4h1.5v1.5h-1.5zM950.2 38.0h1.5v1.5h-1.5zM950.2 50.6h1.5v1.5h-1.5zM950.2 63.2h1.5v1.5h-1.5zM950.2 75.8h1.5v1.5h-1.5zM950.2 88.4h1.5v1.5h-1.5zM950.2 101.1h1.5v1.5h-1.5zM950.2 113.7h1.5v1.5h-1.5zM950.2 126.3h1.5v1.5h-1.5zM950.2 138.9h1.5v1.5h-1.5zM950.2 151.5h1.5v1.5h-1.5zM950.2 164.1h1.5v1.5h-1.5zM950.2 176.8h1.5v1.5h-1.5zM950.2 189.4h1.5v1.5h-1.5zM950.2 202.0h1.5v1.5h-1.5zM950.2 214.6h1.5v1.5h-1.5zM950.2 227.2h1.5v1.5h-1.5zM950.2 239.8h1.5v1.5h-1.5zM950.2 252.5h1.5v1.5h-1.5zM950.2 277.7h1.5v1.5h-1.5zM950.2 290.3h1.5v1.5h-1.5zM950.2 302.9h1.5v1.5h-1.5zM950.2 315.5h1.5v1.5h-1.5zM950.2 328.1h1.5v1.5h-1.5zM950.2 340.8h1.5v1.5h-1.5zM950.2 353.4h1.5v1.5h-1.5zM950.2 366.0h1.5v1.5h-1.5zM950.2 378.6h1.5v1.5h-1.5zM950.2 391.2h1.5v1.5h-1.5zM950.2 403.8h1.5v1.5h-1.5zM950.2 416.5h1.5v1.5h-1.5zM950.2 429.1h1.5v1.5h-1.5zM950.2 441.7h1.5v1.5h-1.5zM950.2 454.3h1.5v1.5h-1.5zM950.2 466.9h1.5v1.5h-1.5zM950.2 479.5h1.5v1.5h-1.5zM950.2 492.2h1.5v1.5h-1.5zM950.2 504.8h1.5v1.5h-1.5zM1013.3 25.4h1.5v1.5h-1.5zM1013.3 38.0h1.5v1.5h-1.5zM1013.3 50.6h1.5v1.5h-1.5zM1013.3 63.2h1.5v1.5h-1.5zM1013.3 75.8h1.5v1.5h-1.5zM1013.3 88.4h1.5v1.5h-1.5zM1013.3 101.1h1.5v1.5h-1.5zM1013.3 113.7h1.5v1.5h-1.5zM1013.3 126.3h1.5v1.5h-1.5zM1013.3 138.9h1.5v1.5h-1.5zM1013.3 151.5h1.5v1.5h-1.5zM1013.3 164.1h1.5v1.5h-1.5zM1013.3 176.8h1.5v1.5h-1.5zM1013.3 189.4h1.5v1.5h-1.5zM1013.3 202.0h1.5v1.5h-1.5zM1013.3 214.6h1.5v1.5h-1.5zM1013.3 227.2h1.5v1.5h-1.5zM1013.3 239.8h1.5v1.5h-1.5zM1013.3 252.5h1.5v1.5h-1.5zM1013.3 277.7h1.5v1.5h-1.5zM1013.3 290.3h1.5v1.5h-1.5zM1013.3 302.9h1.5v1.5h-1.5zM1013.3 315.5h1.5v1.5h-1.5zM1013.3 328.1h1.5v1.5h-1.5zM1013.3 340.8h1.5v1.5h-1.5zM1013.3 353.4h1.5v1.5h-1.5zM1013.3 366.0h1.5v1.5h-1.5zM1013.3 378.6h1.5v1.5h-1.5zM1013.3 391.2h1.5v1.5h-1.5zM1013.3 403.8h1.5v1.5h-1.5zM1013.3 416.5h1.5v1.5h-1.5zM1013.3 429.1h1.5v1.5h-1.5zM1013.3 441.7h1.5v1.5h-1.5zM1013.3 454.3h1.5v1.5h-1.5zM1013.3 466.9h1.5v1.5h-1.5zM1013.3 479.5h1.5v1.5h-1.5zM1013.3 492.2h1.5v1.5h-1.5zM1013.3 504.8h1.5v1.5h-1.5zM1139.6 25.4h1.5v1.5h-1.5zM1139.6 38.0h1.5v1.5h-1.5zM1139.6 50.6h1.5v1.5h-1.5zM1139.6 63.2h1.5v1.5h-1.5zM1139.6 75.8h1.5v1.5h-1.5zM1139.6 88.4h1.5v1.5h-1.5zM1139.6 101.1h1.5v1.5h-1.5zM1139.6 113.7h1.5v1.5h-1.5zM1139.6 126.3h1.5v1.5h-1.5zM1139.6 138.9h1.5v1.5h-1.5zM1139.6 151.5h1.5v1.5h-1.5zM1139.6 164.1h1.5v1.5h-1.5zM1139.6 176.8h1.5v1.5h-1.5zM1139.6 189.4h1.5v1.5h-1.5zM1139.6 202.0h1.5v1.5h-1.5zM1139.6 214.6h1.5v1.5h-1.5zM1139.6 227.2h1.5v1.5h-1.5zM1139.6 239.8h1.5v1.5h-1.5zM1139.6 252.5h1.5v1.5h-1.5zM1139.6 277.7h1.5v1.5h-1.5zM1139.6 290.3h1.5v1.5h-1.5zM1139.6 302.9h1.5v1.5h-1.5zM1139.6 315.5h1.5v1.5h-1.5zM1139.6 328.1h1.5v1.5h-1.5zM1139.6 340.8h1.5v1.5h-1.5zM1139.6 353.4h1.5v1.5h-1.5zM1139.6 366.0h1.5v1.5h-1.5zM1139.6 378.6h1.5v1.5h-1.5zM1139.6 391.2h1.5v1.5h-1.5zM1139.6 403.8h1.5v1.5h-1.5zM1139.6 416.5h1.5v1.5h-1.5zM1139.6 429.1h1.5v1.5h-1.5zM1139.6 441.7h1.5v1.5h-1.5zM1139.6 454.3h1.5v1.5h-1.5zM1139.6 466.9h1.5v1.5h-1.5zM1139.6 479.5h1.5v1.5h-1.5zM1139.6 492.2h1.5v1.5h-1.5zM1139.6 504.8h1.5v1.5h-1.5zM1202.7 25.4h1.5v1.5h-1.5zM1202.7 38.0h1.5v1.5h-1.5zM1202.7 50.6h1.5v1.5h-1.5zM1202.7 63.2h1.5v1.5h-1.5zM1202.7 75.8h1.5v1.5h-1.5zM1202.7 88.4h1.5v1.5h-1.5zM1202.7 101.1h1.5v1.5h-1.5zM1202.7 113.7h1.5v1.5h-1.5zM1202.7 126.3h1.5v1.5h-1.5zM1202.7 138.9h1.5v1.5h-1.5zM1202.7 151.5h1.5v1.5h-1.5zM1202.7 164.1h1.5v1.5h-1.5zM1202.7 176.8h1.5v1.5h-1.5zM1202.7 189.4h1.5v1.5h-1.5zM1202.7 202.0h1.5v1.5h-1.5zM1202.7 214.6h1.5v1.5h-1.5zM1202.7 227.2h1.5v1.5h-1.5zM1202.7 239.8h1.5v1.5h-1.5zM1202.7 252.5h1.5v1.5h-1.5zM1202.7 277.7h1.5v1.5h-1.5zM1202.7 290.3h1.5v1.5h-1.5zM1202.7 302.9h1.5v1.5h-1.5zM1202.7 315.5h1.5v1.5h-1.5zM1202.7 328.1h1.5v1.5h-1.5zM1202.7 340.8h1.5v1.5h-1.5zM1202.7 353.4h1.5v1.5h-1.5zM1202.7 366.0h1.5v1.5h-1.5zM1202.7 378.6h1.5v1.5h-1.5zM1202.7 391.2h1.5v1.5h-1.5zM1202.7 403.8h1.5v1.5h-1.5zM1202.7 416.5h1.5v1.5h-1.5zM1202.7 429.1h1.5v1.5h-1.5zM1202.7 441.7h1.5v1.5h-1.5zM1202.7 454.3h1.5v1.5h-1.5zM1202.7 466.9h1.5v1.5h-1.5zM1202.7 479.5h1.5v1.5h-1.5zM1202.7 492.2h1.5v1.5h-1.5zM1202.7 504.8h1.5v1.5h-1.5zM1265.8 25.4h1.5v1.5h-1.5zM1265.8 38.0h1.5v1.5h-1.5zM1265.8 50.6h1.5v1.5h-1.5zM1265.8 63.2h1.5v1.5h-1.5zM1265.8 75.8h1.5v1.5h-1.5zM1265.8 88.4h1.5v1.5h-1.5zM1265.8 101.1h1.5v1.5h-1.5zM1265.8 113.7h1.5v1.5h-1.5zM1265.8 126.3h1.5v1.5h-1.5zM1265.8 138.9h1.5v1.5h-1.5zM1265.8 151.5h1.5v1.5h-1.5zM1265.8 164.1h1.5v1.5h-1.5zM1265.8 176.8h1.5v1.5h-1.5zM1265.8 189.4h1.5v1.5h-1.5zM1265.8 202.0h1.5v1.5h-1.5zM1265.8 214.6h1.5v1.5h-1.5zM1265.8 227.2h1.5v1.5h-1.5zM1265.8 239.8h1.5v1.5h-1.5zM1265.8 252.5h1.5v1.5h-1.5zM1265.8 277.7h1.5v1.5h-1.5zM1265.8 290.3h1.5v1.5h-1.5zM1265.8 302.9h1.5v1.5h-1.5zM1265.8 315.5h1.5v1.5h-1.5zM1265.8 328.1h1.5v1.5h-1.5zM1265.8 340.8h1.5v1.5h-1.5zM1265.8 353.4h1.5v1.5h-1.5zM1265.8 366.0h1.5v1.5h-1.5zM1265.8 378.6h1.5v1.5h-1.5zM1265.8 391.2h1.5v1.5h-1.5zM1265.8 403.8h1.5v1.5h-1.5zM1265.8 416.5h1.5v1.5h-1.5zM1265.8 429.1h1.5v1.5h-1.5zM1265.8 441.7h1.5v1.5h-1.5zM1265.8 454.3h1.5v1.5h-1.5zM1265.8 466.9h1.5v1.5h-1.5zM1265.8 479.5h1.5v1.5h-1.5zM1265.8 492.2h1.5v1.5h-1.5zM1265.8 504.8h1.5v1.5h-1.5zM1328.9 25.4h1.5v1.5h-1.5zM1328.9 38.0h1.5v1.5h-1.5zM1328.9 50.6h1.5v1.5h-1.5zM1328.9 63.2h1.5v1.5h-1.5zM1328.9 75.8h1.5v1.5h-1.5zM1328.9 88.4h1.5v1.5h-1.5zM1328.9 101.1h1.5v1.5h-1.5zM1328.9 113.7h1.5v1.5h-1.5zM1328.9 126.3h1.5v1.5h-1.5zM1328.9 138.9h1.5v1.5h-1.5zM1328.9 151.5h1.5v1.5h-1.5zM1328.9 164.1h1.5v1.5h-1.5zM1328.9 176.8h1.5v1.5h-1.5zM1328.9 189.4h1.5v1.5h-1.5zM1328.9 202.0h1.5v1.5h-1.5zM1328.9 214.6h1.5v1.5h-1.5zM1328.9 227.2h1.5v1.5h-1.5zM1328.9 239.8h1.5v1.5h-1.5zM1328.9 252.5h1.5v1.5h-1.5zM1328.9 277.7h1.5v1.5h-1.5zM1328.9 290.3h1.5v1.5h-1.5zM1328.9 302.9h1.5v1.5h-1.5zM1328.9 315.5h1.5v1.5h-1.5zM1328.9 328.1h1.5v1.5h-1.5zM1328.9 340.8h1.5v1.5h-1.5zM1328.9 353.4h1.5v1.5h-1.5zM1328.9 366.0h1.5v1.5h-1.5zM1328.9 378.6h1.5v1.5h-1.5zM1328.9 391.2h1.5v1.5h-1.5zM1328.9 403.8h1.5v1.5h-1.5zM1328.9 416.5h1.5v1.5h-1.5zM1328.9 429.1h1.5v1.5h-1.5zM1328.9 441.7h1.5v1.5h-1.5zM1328.9 454.3h1.5v1.5h-1.5zM1328.9 466.9h1.5v1.5h-1.5zM1328.9 479.5h1.5v1.5h-1.5zM1328.9 492.2h1.5v1.5h-1.5zM1328.9 504.8h1.5v1.5h-1.5zM773.5 75.8h1.5v1.5h-1.5zM786.1 75.8h1.5v1.5h-1.5zM798.7 75.8h1.5v1.5h-1.5zM811.3 75.8h1.5v1.5h-1.5zM836.6 75.8h1.5v1.5h-1.5zM849.2 75.8h1.5v1.5h-1.5zM861.8 75.8h1.5v1.5h-1.5zM874.5 75.8h1.5v1.5h-1.5zM899.7 75.8h1.5v1.5h-1.5zM912.3 75.8h1.5v1.5h-1.5zM925.0 75.8h1.5v1.5h-1.5zM937.6 75.8h1.5v1.5h-1.5zM962.8 75.8h1.5v1.5h-1.5zM975.5 75.8h1.5v1.5h-1.5zM988.1 75.8h1.5v1.5h-1.5zM1000.7 75.8h1.5v1.5h-1.5zM1026.0 75.8h1.5v1.5h-1.5zM1038.6 75.8h1.5v1.5h-1.5zM1051.2 75.8h1.5v1.5h-1.5zM1063.8 75.8h1.5v1.5h-1.5zM1089.1 75.8h1.5v1.5h-1.5zM1101.7 75.8h1.5v1.5h-1.5zM1114.3 75.8h1.5v1.5h-1.5zM1126.9 75.8h1.5v1.5h-1.5zM1152.2 75.8h1.5v1.5h-1.5zM1164.8 75.8h1.5v1.5h-1.5zM1177.4 75.8h1.5v1.5h-1.5zM1190.1 75.8h1.5v1.5h-1.5zM1215.3 75.8h1.5v1.5h-1.5zM1227.9 75.8h1.5v1.5h-1.5zM1240.6 75.8h1.5v1.5h-1.5zM1253.2 75.8h1.5v1.5h-1.5zM1278.4 75.8h1.5v1.5h-1.5zM1291.1 75.8h1.5v1.5h-1.5zM1303.7 75.8h1.5v1.5h-1.5zM1316.3 75.8h1.5v1.5h-1.5zM1341.6 75.8h1.5v1.5h-1.5zM1354.2 75.8h1.5v1.5h-1.5zM1366.8 75.8h1.5v1.5h-1.5zM1379.4 75.8h1.5v1.5h-1.5zM773.5 138.9h1.5v1.5h-1.5zM786.1 138.9h1.5v1.5h-1.5zM798.7 138.9h1.5v1.5h-1.5zM811.3 138.9h1.5v1.5h-1.5zM836.6 138.9h1.5v1.5h-1.5zM849.2 138.9h1.5v1.5h-1.5zM861.8 138.9h1.5v1.5h-1.5zM874.5 138.9h1.5v1.5h-1.5zM899.7 138.9h1.5v1.5h-1.5zM912.3 138.9h1.5v1.5h-1.5zM925.0 138.9h1.5v1.5h-1.5zM937.6 138.9h1.5v1.5h-1.5zM962.8 138.9h1.5v1.5h-1.5zM975.5 138.9h1.5v1.5h-1.5zM988.1 138.9h1.5v1.5h-1.5zM1000.7 138.9h1.5v1.5h-1.5zM1026.0 138.9h1.5v1.5h-1.5zM1038.6 138.9h1.5v1.5h-1.5zM1051.2 138.9h1.5v1.5h-1.5zM1063.8 138.9h1.5v1.5h-1.5zM1089.1 138.9h1.5v1.5h-1.5zM1101.7 138.9h1.5v1.5h-1.5zM1114.3 138.9h1.5v1.5h-1.5zM1126.9 138.9h1.5v1.5h-1.5zM1152.2 138.9h1.5v1.5h-1.5zM1164.8 138.9h1.5v1.5h-1.5zM1177.4 138.9h1.5v1.5h-1.5zM1190.1 138.9h1.5v1.5h-1.5zM1215.3 138.9h1.5v1.5h-1.5zM1227.9 138.9h1.5v1.5h-1.5zM1240.6 138.9h1.5v1.5h-1.5zM1253.2 138.9h1.5v1.5h-1.5zM1278.4 138.9h1.5v1.5h-1.5zM1291.1 138.9h1.5v1.5h-1.5zM1303.7 138.9h1.5v1.5h-1.5zM1316.3 138.9h1.5v1.5h-1.5zM1341.6 138.9h1.5v1.5h-1.5zM1354.2 138.9h1.5v1.5h-1.5zM1366.8 138.9h1.5v1.5h-1.5zM1379.4 138.9h1.5v1.5h-1.5zM773.5 202.0h1.5v1.5h-1.5zM786.1 202.0h1.5v1.5h-1.5zM798.7 202.0h1.5v1.5h-1.5zM811.3 202.0h1.5v1.5h-1.5zM836.6 202.0h1.5v1.5h-1.5zM849.2 202.0h1.5v1.5h-1.5zM861.8 202.0h1.5v1.5h-1.5zM874.5 202.0h1.5v1.5h-1.5zM899.7 202.0h1.5v1.5h-1.5zM912.3 202.0h1.5v1.5h-1.5zM925.0 202.0h1.5v1.5h-1.5zM937.6 202.0h1.5v1.5h-1.5zM962.8 202.0h1.5v1.5h-1.5zM975.5 202.0h1.5v1.5h-1.5zM988.1 202.0h1.5v1.5h-1.5zM1000.7 202.0h1.5v1.5h-1.5zM1026.0 202.0h1.5v1.5h-1.5zM1038.6 202.0h1.5v1.5h-1.5zM1051.2 202.0h1.5v1.5h-1.5zM1063.8 202.0h1.5v1.5h-1.5zM1089.1 202.0h1.5v1.5h-1.5zM1101.7 202.0h1.5v1.5h-1.5zM1114.3 202.0h1.5v1.5h-1.5zM1126.9 202.0h1.5v1.5h-1.5zM1152.2 202.0h1.5v1.5h-1.5zM1164.8 202.0h1.5v1.5h-1.5zM1177.4 202.0h1.5v1.5h-1.5zM1190.1 202.0h1.5v1.5h-1.5zM1215.3 202.0h1.5v1.5h-1.5zM1227.9 202.0h1.5v1.5h-1.5zM1240.6 202.0h1.5v1.5h-1.5zM1253.2 202.0h1.5v1.5h-1.5zM1278.4 202.0h1.5v1.5h-1.5zM1291.1 202.0h1.5v1.5h-1.5zM1303.7 202.0h1.5v1.5h-1.5zM1316.3 202.0h1.5v1.5h-1.5zM1341.6 202.0h1.5v1.5h-1.5zM1354.2 202.0h1.5v1.5h-1.5zM1366.8 202.0h1.5v1.5h-1.5zM1379.4 202.0h1.5v1.5h-1.5zM773.5 328.1h1.5v1.5h-1.5zM786.1 328.1h1.5v1.5h-1.5zM798.7 328.1h1.5v1.5h-1.5zM811.3 328.1h1.5v1.5h-1.5zM836.6 328.1h1.5v1.5h-1.5zM849.2 328.1h1.5v1.5h-1.5zM861.8 328.1h1.5v1.5h-1.5zM874.5 328.1h1.5v1.5h-1.5zM899.7 328.1h1.5v1.5h-1.5zM912.3 328.1h1.5v1.5h-1.5zM925.0 328.1h1.5v1.5h-1.5zM937.6 328.1h1.5v1.5h-1.5zM962.8 328.1h1.5v1.5h-1.5zM975.5 328.1h1.5v1.5h-1.5zM988.1 328.1h1.5v1.5h-1.5zM1000.7 328.1h1.5v1.5h-1.5zM1026.0 328.1h1.5v1.5h-1.5zM1038.6 328.1h1.5v1.5h-1.5zM1051.2 328.1h1.5v1.5h-1.5zM1063.8 328.1h1.5v1.5h-1.5zM1089.1 328.1h1.5v1.5h-1.5zM1101.7 328.1h1.5v1.5h-1.5zM1114.3 328.1h1.5v1.5h-1.5zM1126.9 328.1h1.5v1.5h-1.5zM1152.2 328.1h1.5v1.5h-1.5zM1164.8 328.1h1.5v1.5h-1.5zM1177.4 328.1h1.5v1.5h-1.5zM1190.1 328.1h1.5v1.5h-1.5zM1215.3 328.1h1.5v1.5h-1.5zM1227.9 328.1h1.5v1.5h-1.5zM1240.6 328.1h1.5v1.5h-1.5zM1253.2 328.1h1.5v1.5h-1.5zM1278.4 328.1h1.5v1.5h-1.5zM1291.1 328.1h1.5v1.5h-1.5zM1303.7 328.1h1.5v1.5h-1.5zM1316.3 328.1h1.5v1.5h-1.5zM1341.6 328.1h1.5v1.5h-1.5zM1354.2 328.1h1.5v1.5h-1.5zM1366.8 328.1h1.5v1.5h-1.5zM1379.4 328.1h1.5v1.5h-1.5zM773.5 391.2h1.5v1.5h-1.5zM786.1 391.2h1.5v1.5h-1.5zM798.7 391.2h1.5v1.5h-1.5zM811.3 391.2h1.5v1.5h-1.5zM836.6 391.2h1.5v1.5h-1.5zM849.2 391.2h1.5v1.5h-1.5zM861.8 391.2h1.5v1.5h-1.5zM874.5 391.2h1.5v1.5h-1.5zM899.7 391.2h1.5v1.5h-1.5zM912.3 391.2h1.5v1.5h-1.5zM925.0 391.2h1.5v1.5h-1.5zM937.6 391.2h1.5v1.5h-1.5zM962.8 391.2h1.5v1.5h-1.5zM975.5 391.2h1.5v1.5h-1.5zM988.1 391.2h1.5v1.5h-1.5zM1000.7 391.2h1.5v1.5h-1.5zM1026.0 391.2h1.5v1.5h-1.5zM1038.6 391.2h1.5v1.5h-1.5zM1051.2 391.2h1.5v1.5h-1.5zM1063.8 391.2h1.5v1.5h-1.5zM1089.1 391.2h1.5v1.5h-1.5zM1101.7 391.2h1.5v1.5h-1.5zM1114.3 391.2h1.5v1.5h-1.5zM1126.9 391.2h1.5v1.5h-1.5zM1152.2 391.2h1.5v1.5h-1.5zM1164.8 391.2h1.5v1.5h-1.5zM1177.4 391.2h1.5v1.5h-1.5zM1190.1 391.2h1.5v1.5h-1.5zM1215.3 391.2h1.5v1.5h-1.5zM1227.9 391.2h1.5v1.5h-1.5zM1240.6 391.2h1.5v1.5h-1.5zM1253.2 391.2h1.5v1.5h-1.5zM1278.4 391.2h1.5v1.5h-1.5zM1291.1 391.2h1.5v1.5h-1.5zM1303.7 391.2h1.5v1.5h-1.5zM1316.3 391.2h1.5v1.5h-1.5zM1341.6 391.2h1.5v1.5h-1.5zM1354.2 391.2h1.5v1.5h-1.5zM1366.8 391.2h1.5v1.5h-1.5zM1379.4 391.2h1.5v1.5h-1.5zM773.5 454.3h1.5v1.5h-1.5zM786.1 454.3h1.5v1.5h-1.5zM798.7 454.3h1.5v1.5h-1.5zM811.3 454.3h1.5v1.5h-1.5zM836.6 454.3h1.5v1.5h-1.5zM849.2 454.3h1.5v1.5h-1.5zM861.8 454.3h1.5v1.5h-1.5zM874.5 454.3h1.5v1.5h-1.5zM899.7 454.3h1.5v1.5h-1.5zM912.3 454.3h1.5v1.5h-1.5zM925.0 454.3h1.5v1.5h-1.5zM937.6 454.3h1.5v1.5h-1.5zM962.8 454.3h1.5v1.5h-1.5zM975.5 454.3h1.5v1.5h-1.5zM988.1 454.3h1.5v1.5h-1.5zM1000.7 454.3h1.5v1.5h-1.5zM1026.0 454.3h1.5v1.5h-1.5zM1038.6 454.3h1.5v1.5h-1.5zM1051.2 454.3h1.5v1.5h-1.5zM1063.8 454.3h1.5v1.5h-1.5zM1089.1 454.3h1.5v1.5h-1.5zM1101.7 454.3h1.5v1.5h-1.5zM1114.3 454.3h1.5v1.5h-1.5zM1126.9 454.3h1.5v1.5h-1.5zM1152.2 454.3h1.5v1.5h-1.5zM1164.8 454.3h1.5v1.5h-1.5zM1177.4 454.3h1.5v1.5h-1.5zM1190.1 454.3h1.5v1.5h-1.5zM1215.3 454.3h1.5v1.5h-1.5zM1227.9 454.3h1.5v1.5h-1.5zM1240.6 454.3h1.5v1.5h-1.5zM1253.2 454.3h1.5v1.5h-1.5zM1278.4 454.3h1.5v1.5h-1.5zM1291.1 454.3h1.5v1.5h-1.5zM1303.7 454.3h1.5v1.5h-1.5zM1316.3 454.3h1.5v1.5h-1.5zM1341.6 454.3h1.5v1.5h-1.5zM1354.2 454.3h1.5v1.5h-1.5zM1366.8 454.3h1.5v1.5h-1.5zM1379.4 454.3h1.5v1.5h-1.5z" fill="#a39e80"/>
<defs><clipPath id="ca"><path d="M24.4 450.0V450H25.0V447H26.0V448H27.0V448H28.0V449H29.0V450H30.0V449H31.0V449H32.0V450H33.0V449H34.0V449H35.0V450H36.0V448H37.0V448H38.0V449H39.0V450H40.0V450H41.0V449H42.0V449H43.0V450H44.0V448H45.0V450H46.0V450H47.0V450H48.0V450H49.0V450H50.0V450H51.0V449H52.0V449H53.0V449H54.0V450H55.0V450H56.0V450H57.0V450H58.0V450H59.0V450H60.0V447H61.0V450H62.0V447H63.0V446H64.0V448H65.0V450H66.0V449H67.0V447H68.0V450H69.0V448H70.0V450H71.0V449H72.0V450H73.0V450H74.0V448H75.0V450H76.0V450H77.0V449H78.0V450H79.0V449H80.0V450H81.0V450H82.0V450H83.0V450H83.5V462H83.0V461H82.0V461H81.0V461H80.0V462H79.0V461H78.0V462H77.0V461H76.0V461H75.0V461H74.0V461H73.0V461H72.0V461H71.0V461H70.0V461H69.0V461H68.0V461H67.0V461H66.0V462H65.0V461H64.0V461H63.0V461H62.0V461H61.0V461H60.0V461H59.0V462H58.0V461H57.0V462H56.0V463H55.0V461H54.0V461H53.0V461H52.0V461H51.0V461H50.0V463H49.0V462H48.0V461H47.0V461H46.0V461H45.0V461H44.0V461H43.0V463H42.0V461H41.0V461H40.0V461H39.0V461H38.0V461H37.0V461H36.0V461H35.0V462H34.0V462H33.0V461H32.0V461H31.0V463H30.0V461H29.0V461H28.0V461H27.0V461H26.0V461H25.0V461H24.4ZM82.6 136.9h2.7V160.5h-2.7zM83.5 146.0V146H84.0V145H85.0V147H86.0V145H87.0V148H88.0V148H89.0V147H90.0V149H91.0V149H92.0V150H93.0V150H94.0V150H95.0V146H96.0V151H97.0V151H98.0V149H99.0V148H100.0V151H101.0V152H102.0V152H103.0V152H104.0V150H105.0V152H106.0V152H107.0V150H108.0V153H109.0V151H110.0V152H111.0V153H112.0V153H113.0V150H114.0V153H115.0V153H116.0V152H117.0V152H118.0V153H119.0V154H120.0V154H121.0V152H122.0V154H123.0V153H124.0V154H124.3V165H124.0V163H123.0V163H122.0V163H121.0V164H120.0V164H119.0V163H118.0V163H117.0V163H116.0V163H115.0V164H114.0V164H113.0V163H112.0V163H111.0V162H110.0V163H109.0V163H108.0V164H107.0V163H106.0V165H105.0V163H104.0V162H103.0V161H102.0V161H101.0V161H100.0V162H99.0V162H98.0V161H97.0V164H96.0V161H95.0V162H94.0V160H93.0V160H92.0V159H91.0V159H90.0V159H89.0V158H88.0V160H87.0V158H86.0V159H85.0V157H84.0V157H83.5ZM123.4 455.3h2.7V475.0h-2.7zM124.3 452.0V452H125.0V451H126.0V452H127.0V453H128.0V450H129.0V452H130.0V453H131.0V451H132.0V451H133.0V450H134.0V452H135.0V450H136.0V451H137.0V451H138.0V451H139.0V450H140.0V451H141.0V452H142.0V451H143.0V451H144.0V452H145.0V452H146.0V450H147.0V452H148.0V451H149.0V448H150.0V450H151.0V450H152.0V450H153.0V451H154.0V450H155.0V450H156.0V451H157.0V448H158.0V449H159.0V451H160.0V449H161.0V450H162.0V450H163.0V451H164.0V448H165.0V449H166.0V450H167.0V449H168.0V450H169.0V451H170.0V449H171.0V451H172.0V450H173.0V451H174.0V449H175.0V449H176.0V451H177.0V451H178.0V450H179.0V449H180.0V448H181.0V450H182.0V451H183.0V449H184.0V451H185.0V448H186.0V451H187.0V448H188.0V451H189.0V451H190.0V451H191.0V451H192.0V450H193.0V447H194.0V450H195.0V450H196.0V450H197.0V448H198.0V451H199.0V451H200.0V448H201.0V450H202.0V450H203.0V449H204.0V450H205.0V449H206.0V450H207.0V450H208.0V450H209.0V450H210.0V449H211.0V450H212.0V449H213.0V450H214.0V449H215.0V448H216.0V448H217.0V449H218.0V447H219.0V448H220.0V448H221.0V450H222.0V450H223.0V450H224.0V446H225.0V450H226.0V449H227.0V450H228.0V447H229.0V449H230.0V449H231.0V450H232.0V450H233.0V449H234.0V449H235.0V450H236.0V448H237.0V450H238.0V447H239.0V450H240.0V450H240.5V461H240.0V461H239.0V461H238.0V461H237.0V465H236.0V461H235.0V461H234.0V461H233.0V461H232.0V461H231.0V462H230.0V462H229.0V461H228.0V462H227.0V461H226.0V461H225.0V462H224.0V461H223.0V461H222.0V463H221.0V461H220.0V461H219.0V461H218.0V462H217.0V461H216.0V461H215.0V461H214.0V461H213.0V461H212.0V461H211.0V461H210.0V461H209.0V461H208.0V462H207.0V461H206.0V461H205.0V461H204.0V464H203.0V461H202.0V461H201.0V462H200.0V463H199.0V462H198.0V462H197.0V462H196.0V462H195.0V462H194.0V463H193.0V462H192.0V462H191.0V462H190.0V462H189.0V462H188.0V462H187.0V463H186.0V462H185.0V462H184.0V462H183.0V462H182.0V463H181.0V462H180.0V463H179.0V463H178.0V462H177.0V463H176.0V462H175.0V462H174.0V462H173.0V463H172.0V462H171.0V462H170.0V464H169.0V463H168.0V465H167.0V462H166.0V462H165.0V463H164.0V462H163.0V463H162.0V463H161.0V462H160.0V462H159.0V462H158.0V462H157.0V463H156.0V465H155.0V464H154.0V463H153.0V462H152.0V464H151.0V463H150.0V463H149.0V464H148.0V463H147.0V466H146.0V464H145.0V464H144.0V463H143.0V463H142.0V463H141.0V464H140.0V463H139.0V463H138.0V465H137.0V465H136.0V464H135.0V466H134.0V465H133.0V468H132.0V467H131.0V466H130.0V467H129.0V468H128.0V471H127.0V472H126.0V474H125.0V476H124.3ZM239.6 138.0h2.7V161.0h-2.7zM240.5 147.0V147H241.0V147H242.0V148H243.0V148H244.0V147H245.0V149H246.0V149H247.0V149H248.0V148H249.0V150H250.0V147H251.0V151H252.0V151H253.0V149H254.0V150H255.0V150H256.0V151H257.0V152H258.0V152H259.0V151H260.0V152H261.0V152H262.0V152H263.0V153H264.0V153H265.0V153H266.0V153H267.0V153H268.0V153H269.0V152H270.0V153H271.0V153H272.0V153H273.0V153H274.0V153H275.0V153H276.0V153H277.0V152H278.0V154H279.0V154H280.0V154H280.4V166H280.0V164H279.0V163H278.0V163H277.0V166H276.0V163H275.0V163H274.0V165H273.0V163H272.0V163H271.0V163H270.0V164H269.0V163H268.0V162H267.0V162H266.0V162H265.0V162H264.0V162H263.0V162H262.0V162H261.0V166H260.0V163H259.0V161H258.0V161H257.0V161H256.0V161H255.0V162H254.0V163H253.0V163H252.0V161H251.0V160H250.0V160H249.0V164H248.0V161H247.0V159H246.0V160H245.0V160H244.0V158H243.0V158H242.0V158H241.0V157H240.5ZM279.5 455.3h2.7V478.0h-2.7zM280.4 455.0V455H281.0V455H282.0V455H283.0V450H284.0V454H285.0V454H286.0V454H287.0V453H288.0V452H289.0V450H290.0V450H291.0V453H292.0V453H293.0V451H294.0V453H295.0V451H296.0V451H297.0V452H298.0V451H299.0V452H300.0V452H301.0V451H302.0V450H303.0V449H304.0V452H305.0V450H306.0V451H307.0V452H308.0V451H309.0V451H310.0V451H311.0V448H312.0V451H313.0V451H314.0V450H315.0V450H316.0V451H317.0V450H318.0V451H319.0V451H320.0V450H321.0V451H322.0V449H323.0V449H324.0V451H325.0V449H326.0V450H327.0V451H328.0V449H329.0V450H330.0V451H331.0V450H332.0V450H333.0V451H334.0V451H335.0V447H336.0V451H337.0V450H338.0V451H339.0V450H340.0V451H341.0V450H342.0V448H343.0V449H344.0V451H345.0V447H346.0V451H347.0V451H348.0V451H349.0V450H350.0V450H351.0V450H352.0V449H353.0V451H354.0V450H355.0V450H356.0V449H357.0V449H358.0V449H359.0V450H360.0V450H361.0V449H362.0V448H363.0V449H364.0V447H365.0V450H366.0V446H367.0V450H368.0V450H369.0V450H370.0V447H371.0V448H372.0V448H373.0V450H374.0V450H375.0V447H376.0V450H377.0V449H378.0V450H379.0V450H380.0V450H381.0V450H382.0V447H383.0V450H384.0V448H385.0V450H386.0V449H387.0V450H388.0V450H389.0V450H390.0V446H391.0V448H392.0V450H393.0V447H394.0V448H395.0V448H396.0V450H396.5V461H396.0V461H395.0V461H394.0V462H393.0V463H392.0V461H391.0V461H390.0V463H389.0V463H388.0V461H387.0V461H386.0V461H385.0V461H384.0V461H383.0V462H382.0V461H381.0V462H380.0V463H379.0V461H378.0V461H377.0V461H376.0V461H375.0V461H374.0V461H373.0V465H372.0V462H371.0V462H370.0V462H369.0V461H368.0V462H367.0V461H366.0V461H365.0V462H364.0V461H363.0V461H362.0V461H361.0V461H360.0V461H359.0V461H358.0V461H357.0V462H356.0V466H355.0V462H354.0V462H353.0V464H352.0V462H351.0V463H350.0V463H349.0V462H348.0V462H347.0V462H346.0V462H345.0V462H344.0V462H343.0V462H342.0V464H341.0V463H340.0V462H339.0V462H338.0V462H337.0V463H336.0V462H335.0V462H334.0V463H333.0V463H332.0V462H331.0V462H330.0V462H329.0V462H328.0V463H327.0V465H326.0V462H325.0V462H324.0V462H323.0V462H322.0V462H321.0V463H320.0V462H319.0V462H318.0V462H317.0V463H316.0V462H315.0V462H314.0V462H313.0V462H312.0V464H311.0V462H310.0V464H309.0V463H308.0V464H307.0V463H306.0V464H305.0V463H304.0V464H303.0V463H302.0V463H301.0V463H300.0V464H299.0V463H298.0V463H297.0V463H296.0V463H295.0V467H294.0V466H293.0V464H292.0V465H291.0V465H290.0V464H289.0V465H288.0V467H287.0V466H286.0V466H285.0V466H284.0V468H283.0V467H282.0V468H281.0V469H280.4ZM395.6 141.8h2.7V160.6h-2.7zM396.5 146.0V146H397.0V146H398.0V148H399.0V146H400.0V147H401.0V149H402.0V147H403.0V149H404.0V148H405.0V150H406.0V151H407.0V151H408.0V151H409.0V149H410.0V152H411.0V152H412.0V150H413.0V152H414.0V152H415.0V153H416.0V153H417.0V152H418.0V153H419.0V153H420.0V153H421.0V154H422.0V153H423.0V153H424.0V154H425.0V151H426.0V154H427.0V153H428.0V154H429.0V154H430.0V154H431.0V155H432.0V155H433.0V155H434.0V154H435.0V155H436.0V155H436.3V167H436.0V164H435.0V163H434.0V163H433.0V163H432.0V162H431.0V163H430.0V166H429.0V162H428.0V162H427.0V162H426.0V163H425.0V162H424.0V162H423.0V162H422.0V166H421.0V162H420.0V165H419.0V161H418.0V161H417.0V162H416.0V161H415.0V161H414.0V162H413.0V162H412.0V161H411.0V160H410.0V160H409.0V160H408.0V161H407.0V160H406.0V160H405.0V161H404.0V159H403.0V159H402.0V158H401.0V158H400.0V160H399.0V159H398.0V158H397.0V161H396.5ZM436.7 455.3h2.7V468.0h-2.7zM437.6 454.0V454H438.0V454H439.0V453H440.0V453H441.0V453H442.0V453H443.0V452H444.0V453H445.0V453H446.0V450H447.0V452H448.0V452H449.0V452H450.0V451H451.0V451H452.0V450H453.0V448H454.0V452H455.0V451H456.0V452H457.0V450H458.0V451H459.0V450H460.0V451H461.0V451H462.0V451H463.0V448H464.0V451H465.0V450H466.0V451H467.0V450H468.0V451H469.0V451H470.0V451H471.0V451H472.0V450H473.0V448H474.0V448H475.0V451H476.0V451H477.0V451H478.0V449H479.0V450H480.0V451H481.0V447H482.0V449H483.0V447H484.0V449H485.0V451H486.0V451H487.0V450H488.0V450H489.0V450H490.0V450H491.0V450H492.0V447H493.0V451H494.0V447H495.0V449H496.0V447H497.0V451H498.0V447H499.0V450H500.0V451H501.0V451H502.0V451H503.0V451H504.0V449H505.0V451H506.0V451H507.0V448H508.0V450H509.0V451H510.0V451H511.0V447H512.0V450H513.0V451H514.0V450H515.0V450H516.0V450H517.0V449H518.0V450H519.0V450H520.0V450H521.0V449H522.0V449H523.0V450H524.0V450H525.0V450H526.0V448H527.0V450H528.0V449H529.0V450H530.0V448H531.0V449H532.0V449H533.0V450H534.0V446H535.0V449H536.0V447H537.0V450H538.0V447H539.0V450H540.0V450H541.0V450H542.0V449H543.0V450H544.0V449H545.0V449H546.0V449H547.0V449H548.0V447H549.0V450H550.0V450H551.0V449H552.0V449H553.0V447H553.3V461H553.0V461H552.0V461H551.0V461H550.0V463H549.0V463H548.0V461H547.0V461H546.0V464H545.0V461H544.0V462H543.0V461H542.0V462H541.0V462H540.0V463H539.0V461H538.0V462H537.0V462H536.0V461H535.0V461H534.0V463H533.0V461H532.0V462H531.0V461H530.0V462H529.0V461H528.0V462H527.0V463H526.0V462H525.0V461H524.0V461H523.0V461H522.0V461H521.0V461H520.0V461H519.0V462H518.0V461H517.0V463H516.0V461H515.0V461H514.0V462H513.0V462H512.0V462H511.0V462H510.0V462H509.0V462H508.0V463H507.0V464H506.0V463H505.0V464H504.0V463H503.0V462H502.0V462H501.0V464H500.0V462H499.0V462H498.0V462H497.0V462H496.0V462H495.0V463H494.0V464H493.0V462H492.0V462H491.0V462H490.0V462H489.0V462H488.0V462H487.0V462H486.0V462H485.0V462H484.0V462H483.0V463H482.0V462H481.0V462H480.0V462H479.0V462H478.0V462H477.0V464H476.0V463H475.0V462H474.0V464H473.0V462H472.0V462H471.0V465H470.0V462H469.0V464H468.0V463H467.0V462H466.0V462H465.0V465H464.0V464H463.0V467H462.0V463H461.0V463H460.0V465H459.0V463H458.0V464H457.0V463H456.0V463H455.0V463H454.0V463H453.0V463H452.0V463H451.0V464H450.0V465H449.0V465H448.0V464H447.0V466H446.0V464H445.0V467H444.0V465H443.0V465H442.0V465H441.0V466H440.0V466H439.0V467H438.0V468H437.6ZM552.4 140.0h2.7V160.0h-2.7zM553.3 146.0V146H554.0V147H555.0V144H556.0V146H557.0V148H558.0V148H559.0V148H560.0V149H561.0V149H562.0V149H563.0V146H564.0V150H565.0V151H566.0V150H567.0V151H568.0V150H569.0V151H570.0V152H571.0V152H572.0V152H573.0V152H574.0V152H575.0V152H576.0V152H577.0V153H578.0V153H579.0V152H580.0V153H581.0V153H582.0V152H583.0V153H584.0V153H585.0V153H586.0V153H587.0V153H588.0V154H589.0V154H590.0V151H591.0V153H592.0V154H592.4V165H592.0V165H591.0V164H590.0V164H589.0V164H588.0V165H587.0V165H586.0V164H585.0V166H584.0V165H583.0V163H582.0V163H581.0V163H580.0V163H579.0V163H578.0V165H577.0V164H576.0V163H575.0V162H574.0V162H573.0V164H572.0V165H571.0V162H570.0V164H569.0V161H568.0V162H567.0V161H566.0V161H565.0V161H564.0V163H563.0V161H562.0V160H561.0V159H560.0V161H559.0V158H558.0V160H557.0V159H556.0V158H555.0V159H554.0V156H553.3ZM592.7 455.3h2.7V468.0h-2.7zM593.6 453.0V453H594.0V454H595.0V453H596.0V453H597.0V453H598.0V449H599.0V453H600.0V451H601.0V453H602.0V453H603.0V449H604.0V452H605.0V452H606.0V451H607.0V451H608.0V452H609.0V450H610.0V450H611.0V452H612.0V451H613.0V452H614.0V452H615.0V452H616.0V452H617.0V451H618.0V452H619.0V448H620.0V451H621.0V451H622.0V450H623.0V451H624.0V448H625.0V451H626.0V451H627.0V451H628.0V451H629.0V449H630.0V451H631.0V451H632.0V450H633.0V451H634.0V451H635.0V450H636.0V451H637.0V451H638.0V449H639.0V451H640.0V450H641.0V451H642.0V450H643.0V449H644.0V451H645.0V449H646.0V450H647.0V449H648.0V451H649.0V449H650.0V449H651.0V449H652.0V451H653.0V448H654.0V451H655.0V451H655.6V462H655.0V462H654.0V462H653.0V462H652.0V462H651.0V462H650.0V462H649.0V462H648.0V462H647.0V462H646.0V463H645.0V462H644.0V463H643.0V462H642.0V462H641.0V462H640.0V462H639.0V462H638.0V464H637.0V462H636.0V462H635.0V463H634.0V462H633.0V462H632.0V462H631.0V462H630.0V463H629.0V462H628.0V463H627.0V465H626.0V463H625.0V462H624.0V462H623.0V462H622.0V464H621.0V463H620.0V463H619.0V463H618.0V463H617.0V463H616.0V467H615.0V463H614.0V463H613.0V463H612.0V463H611.0V463H610.0V463H609.0V463H608.0V465H607.0V465H606.0V463H605.0V464H604.0V464H603.0V466H602.0V464H601.0V464H600.0V464H599.0V465H598.0V465H597.0V465H596.0V466H595.0V468H594.0V470H593.6Z"/></clipPath><clipPath id="cb"><path d="M761.6 455.0V455H762.0V455H763.0V455H764.0V455H765.0V454H766.0V454H767.0V455H768.0V455H769.0V455H770.0V454H771.0V455H772.0V455H773.0V453H774.0V455H775.0V455H776.0V454H777.0V455H778.0V455H779.0V455H780.0V454H781.0V455H782.0V455H783.0V455H784.0V454H785.0V455H786.0V454H787.0V455H788.0V454H789.0V452H790.0V455H791.0V454H792.0V454H793.0V452H794.0V455H795.0V453H796.0V455H797.0V455H798.0V455H799.0V453H800.0V455H801.0V454H802.0V454H803.0V454H804.0V454H805.0V452H806.0V455H807.0V454H808.0V455H809.0V455H810.0V455H811.0V454H812.0V455H813.0V455H814.0V455H815.0V455H816.0V455H817.0V454H818.0V453H819.0V455H820.0V454H821.0V455H822.0V454H822.5V468H822.0V466H821.0V466H820.0V466H819.0V467H818.0V466H817.0V470H816.0V466H815.0V467H814.0V467H813.0V466H812.0V467H811.0V466H810.0V466H809.0V466H808.0V467H807.0V467H806.0V468H805.0V468H804.0V468H803.0V466H802.0V466H801.0V466H800.0V466H799.0V467H798.0V466H797.0V466H796.0V466H795.0V466H794.0V466H793.0V467H792.0V466H791.0V467H790.0V466H789.0V468H788.0V466H787.0V466H786.0V469H785.0V466H784.0V466H783.0V469H782.0V466H781.0V466H780.0V466H779.0V466H778.0V467H777.0V469H776.0V466H775.0V467H774.0V466H773.0V466H772.0V466H771.0V466H770.0V466H769.0V466H768.0V466H767.0V466H766.0V466H765.0V466H764.0V466H763.0V466H762.0V467H761.6ZM821.6 135.4h2.7V166.0h-2.7zM822.5 152.0V152H823.0V155H824.0V154H825.0V155H826.0V156H827.0V157H828.0V157H829.0V157H830.0V157H831.0V158H832.0V158H833.0V157H834.0V158H835.0V159H836.0V158H837.0V159H838.0V160H839.0V160H840.0V158H841.0V160H842.0V160H843.0V160H844.0V160H845.0V161H846.0V161H847.0V161H848.0V160H849.0V161H850.0V160H851.0V161H852.0V160H853.0V161H854.0V160H855.0V162H856.0V159H857.0V160H858.0V160H859.0V162H860.0V162H861.0V162H861.4V171H861.0V172H860.0V171H859.0V175H858.0V171H857.0V172H856.0V174H855.0V172H854.0V172H853.0V171H852.0V171H851.0V173H850.0V170H849.0V170H848.0V171H847.0V170H846.0V171H845.0V170H844.0V169H843.0V170H842.0V171H841.0V169H840.0V171H839.0V170H838.0V170H837.0V168H836.0V169H835.0V167H834.0V167H833.0V169H832.0V166H831.0V168H830.0V167H829.0V167H828.0V165H827.0V167H826.0V164H825.0V163H824.0V162H823.0V162H822.5ZM860.5 460.6h2.7V470.0h-2.7zM861.4 458.0V458H862.0V455H863.0V458H864.0V455H865.0V456H866.0V456H867.0V455H868.0V457H869.0V455H870.0V458H871.0V457H872.0V457H873.0V456H874.0V457H875.0V457H876.0V457H877.0V457H878.0V456H879.0V457H880.0V457H881.0V457H882.0V456H883.0V457H884.0V454H885.0V457H886.0V456H887.0V457H888.0V454H889.0V456H890.0V457H891.0V454H892.0V455H893.0V457H894.0V456H895.0V457H896.0V457H897.0V456H898.0V454H899.0V456H900.0V457H901.0V454H902.0V456H903.0V456H904.0V455H905.0V456H906.0V456H907.0V455H908.0V456H909.0V456H910.0V455H911.0V453H912.0V456H913.0V454H914.0V456H915.0V456H916.0V456H917.0V456H918.0V456H919.0V456H920.0V456H921.0V456H922.0V454H923.0V456H924.0V454H925.0V455H926.0V454H927.0V456H928.0V456H929.0V454H930.0V456H931.0V456H932.0V455H933.0V456H934.0V455H935.0V453H936.0V453H937.0V456H938.0V455H939.0V455H940.0V456H941.0V455H942.0V456H943.0V452H944.0V456H945.0V456H946.0V455H947.0V454H948.0V456H949.0V456H950.0V456H951.0V456H952.0V455H953.0V456H954.0V456H955.0V453H956.0V456H957.0V456H958.0V455H959.0V456H960.0V456H961.0V453H962.0V456H963.0V456H964.0V455H965.0V456H966.0V456H967.0V454H968.0V455H969.0V456H970.0V456H971.0V455H972.0V453H973.0V456H974.0V456H975.0V456H975.2V467H975.0V466H974.0V466H973.0V467H972.0V467H971.0V466H970.0V467H969.0V466H968.0V466H967.0V468H966.0V466H965.0V468H964.0V466H963.0V466H962.0V467H961.0V466H960.0V466H959.0V466H958.0V467H957.0V468H956.0V467H955.0V468H954.0V466H953.0V466H952.0V466H951.0V466H950.0V466H949.0V466H948.0V466H947.0V468H946.0V466H945.0V466H944.0V466H943.0V466H942.0V466H941.0V466H940.0V467H939.0V466H938.0V466H937.0V466H936.0V466H935.0V466H934.0V469H933.0V468H932.0V467H931.0V466H930.0V467H929.0V466H928.0V466H927.0V466H926.0V468H925.0V467H924.0V467H923.0V466H922.0V466H921.0V469H920.0V467H919.0V467H918.0V467H917.0V467H916.0V467H915.0V467H914.0V467H913.0V469H912.0V467H911.0V467H910.0V467H909.0V467H908.0V467H907.0V467H906.0V467H905.0V467H904.0V469H903.0V467H902.0V467H901.0V467H900.0V468H899.0V467H898.0V467H897.0V467H896.0V467H895.0V469H894.0V468H893.0V467H892.0V469H891.0V468H890.0V467H889.0V467H888.0V467H887.0V467H886.0V467H885.0V467H884.0V467H883.0V467H882.0V467H881.0V467H880.0V467H879.0V468H878.0V469H877.0V469H876.0V468H875.0V470H874.0V468H873.0V472H872.0V468H871.0V468H870.0V468H869.0V469H868.0V469H867.0V472H866.0V470H865.0V470H864.0V470H863.0V472H862.0V471H861.4ZM974.3 124.6h2.7V195.5h-2.7zM975.2 154.0V154H976.0V154H977.0V154H978.0V155H979.0V155H980.0V156H981.0V156H982.0V156H983.0V156H984.0V156H985.0V153H986.0V156H987.0V157H988.0V157H989.0V158H990.0V156H991.0V158H992.0V159H993.0V159H994.0V159H995.0V159H996.0V159H997.0V158H998.0V159H999.0V160H1000.0V160H1001.0V158H1002.0V158H1003.0V156H1004.0V160H1005.0V157H1006.0V160H1007.0V160H1008.0V160H1009.0V160H1010.0V160H1011.0V161H1012.0V160H1013.0V161H1014.0V161H1014.2V171H1014.0V170H1013.0V170H1012.0V171H1011.0V172H1010.0V170H1009.0V170H1008.0V171H1007.0V171H1006.0V172H1005.0V174H1004.0V169H1003.0V169H1002.0V169H1001.0V169H1000.0V169H999.0V169H998.0V169H997.0V169H996.0V168H995.0V169H994.0V168H993.0V171H992.0V168H991.0V170H990.0V167H989.0V167H988.0V168H987.0V166H986.0V167H985.0V166H984.0V165H983.0V167H982.0V168H981.0V165H980.0V168H979.0V163H978.0V163H977.0V163H976.0V162H975.2ZM1014.4 460.6h2.7V471.0h-2.7zM1015.3 459.0V459H1016.0V459H1017.0V455H1018.0V458H1019.0V457H1020.0V458H1021.0V458H1022.0V458H1023.0V458H1024.0V458H1025.0V457H1026.0V458H1027.0V458H1028.0V457H1029.0V456H1030.0V457H1031.0V454H1032.0V457H1033.0V453H1034.0V457H1035.0V456H1036.0V457H1037.0V455H1038.0V457H1039.0V457H1040.0V457H1041.0V457H1042.0V456H1043.0V454H1044.0V457H1045.0V455H1046.0V457H1047.0V457H1048.0V456H1049.0V456H1050.0V454H1051.0V457H1052.0V457H1053.0V454H1054.0V457H1055.0V457H1056.0V455H1057.0V456H1058.0V455H1059.0V453H1060.0V455H1061.0V456H1062.0V452H1063.0V454H1064.0V456H1065.0V453H1066.0V456H1067.0V456H1068.0V455H1069.0V456H1070.0V456H1071.0V456H1072.0V456H1073.0V456H1074.0V456H1075.0V455H1076.0V456H1077.0V454H1078.0V455H1079.0V453H1080.0V456H1081.0V456H1082.0V456H1083.0V454H1084.0V456H1085.0V453H1086.0V452H1087.0V456H1088.0V454H1089.0V456H1090.0V456H1091.0V455H1092.0V456H1093.0V453H1094.0V456H1095.0V456H1096.0V455H1097.0V456H1098.0V455H1099.0V452H1100.0V456H1101.0V454H1102.0V454H1103.0V456H1104.0V455H1105.0V456H1106.0V456H1107.0V456H1108.0V456H1109.0V454H1110.0V454H1111.0V455H1112.0V455H1113.0V455H1114.0V454H1115.0V456H1116.0V456H1117.0V456H1118.0V456H1119.0V452H1120.0V455H1121.0V456H1122.0V455H1123.0V455H1124.0V456H1125.0V453H1126.0V456H1127.0V452H1128.0V456H1129.0V466H1128.0V466H1127.0V466H1126.0V469H1125.0V468H1124.0V466H1123.0V468H1122.0V466H1121.0V468H1120.0V466H1119.0V467H1118.0V466H1117.0V467H1116.0V468H1115.0V466H1114.0V468H1113.0V466H1112.0V466H1111.0V467H1110.0V466H1109.0V466H1108.0V466H1107.0V466H1106.0V466H1105.0V466H1104.0V466H1103.0V469H1102.0V466H1101.0V467H1100.0V466H1099.0V468H1098.0V467H1097.0V466H1096.0V466H1095.0V467H1094.0V467H1093.0V466H1092.0V466H1091.0V467H1090.0V467H1089.0V466H1088.0V466H1087.0V466H1086.0V466H1085.0V466H1084.0V466H1083.0V468H1082.0V466H1081.0V466H1080.0V466H1079.0V466H1078.0V466H1077.0V466H1076.0V466H1075.0V466H1074.0V467H1073.0V467H1072.0V468H1071.0V468H1070.0V468H1069.0V469H1068.0V467H1067.0V467H1066.0V469H1065.0V467H1064.0V467H1063.0V467H1062.0V467H1061.0V467H1060.0V468H1059.0V468H1058.0V469H1057.0V468H1056.0V468H1055.0V468H1054.0V467H1053.0V468H1052.0V468H1051.0V467H1050.0V467H1049.0V469H1048.0V467H1047.0V468H1046.0V467H1045.0V468H1044.0V467H1043.0V467H1042.0V467H1041.0V469H1040.0V468H1039.0V467H1038.0V467H1037.0V467H1036.0V467H1035.0V467H1034.0V468H1033.0V468H1032.0V469H1031.0V468H1030.0V468H1029.0V468H1028.0V468H1027.0V468H1026.0V468H1025.0V468H1024.0V470H1023.0V469H1022.0V469H1021.0V469H1020.0V470H1019.0V470H1018.0V474H1017.0V475H1016.0V474H1015.3ZM1129.0 150.0V150H1130.0V154H1131.0V154H1132.0V154H1133.0V154H1134.0V156H1135.0V156H1136.0V157H1137.0V157H1138.0V157H1139.0V158H1140.0V158H1141.0V158H1142.0V158H1143.0V158H1144.0V159H1145.0V157H1146.0V160H1147.0V160H1148.0V160H1149.0V160H1150.0V159H1151.0V160H1152.0V160H1153.0V161H1154.0V158H1155.0V161H1156.0V161H1157.0V161H1158.0V161H1159.0V160H1160.0V161H1161.0V162H1162.0V162H1163.0V161H1164.0V162H1165.0V162H1166.0V162H1166.7V173H1166.0V171H1165.0V172H1164.0V171H1163.0V171H1162.0V171H1161.0V173H1160.0V171H1159.0V171H1158.0V172H1157.0V172H1156.0V170H1155.0V170H1154.0V171H1153.0V170H1152.0V171H1151.0V170H1150.0V171H1149.0V172H1148.0V169H1147.0V172H1146.0V169H1145.0V169H1144.0V172H1143.0V169H1142.0V167H1141.0V169H1140.0V167H1139.0V166H1138.0V168H1137.0V170H1136.0V166H1135.0V165H1134.0V166H1133.0V165H1132.0V163H1131.0V163H1130.0V166H1129.0ZM1167.1 460.6h2.7V473.0h-2.7zM1168.0 458.0V458H1169.0V458H1170.0V457H1171.0V456H1172.0V458H1173.0V458H1174.0V458H1175.0V457H1176.0V458H1177.0V455H1178.0V455H1179.0V455H1180.0V457H1181.0V456H1182.0V455H1183.0V457H1184.0V457H1185.0V457H1186.0V455H1187.0V457H1188.0V457H1189.0V454H1190.0V456H1191.0V455H1192.0V456H1193.0V456H1194.0V457H1195.0V453H1196.0V457H1197.0V457H1198.0V456H1199.0V456H1200.0V456H1201.0V457H1202.0V457H1203.0V455H1204.0V456H1205.0V457H1206.0V457H1207.0V454H1208.0V453H1209.0V456H1210.0V453H1211.0V455H1212.0V456H1213.0V456H1214.0V453H1215.0V454H1216.0V455H1217.0V456H1218.0V456H1219.0V456H1220.0V456H1221.0V455H1222.0V456H1223.0V455H1224.0V455H1225.0V456H1226.0V456H1227.0V454H1228.0V456H1229.0V453H1230.0V453H1231.0V455H1232.0V453H1233.0V455H1234.0V456H1235.0V455H1236.0V455H1237.0V455H1238.0V456H1239.0V455H1240.0V456H1241.0V456H1242.0V456H1243.0V456H1244.0V456H1245.0V456H1246.0V456H1247.0V456H1248.0V456H1249.0V454H1250.0V456H1251.0V455H1252.0V455H1253.0V456H1254.0V455H1255.0V456H1256.0V456H1257.0V454H1258.0V456H1259.0V456H1260.0V452H1261.0V454H1262.0V452H1263.0V453H1264.0V453H1265.0V456H1266.0V454H1267.0V455H1268.0V455H1269.0V456H1270.0V454H1271.0V456H1272.0V453H1273.0V456H1274.0V456H1275.0V456H1276.0V454H1277.0V455H1278.0V456H1279.0V455H1280.0V453H1281.0V456H1281.7V466H1281.0V466H1280.0V467H1279.0V466H1278.0V466H1277.0V467H1276.0V467H1275.0V467H1274.0V466H1273.0V466H1272.0V466H1271.0V466H1270.0V466H1269.0V466H1268.0V467H1267.0V470H1266.0V467H1265.0V466H1264.0V466H1263.0V468H1262.0V466H1261.0V466H1260.0V467H1259.0V467H1258.0V466H1257.0V466H1256.0V467H1255.0V466H1254.0V466H1253.0V467H1252.0V468H1251.0V467H1250.0V466H1249.0V466H1248.0V466H1247.0V466H1246.0V466H1245.0V466H1244.0V466H1243.0V466H1242.0V466H1241.0V466H1240.0V466H1239.0V467H1238.0V466H1237.0V467H1236.0V467H1235.0V466H1234.0V466H1233.0V466H1232.0V466H1231.0V466H1230.0V467H1229.0V466H1228.0V468H1227.0V469H1226.0V469H1225.0V467H1224.0V467H1223.0V469H1222.0V467H1221.0V467H1220.0V467H1219.0V467H1218.0V467H1217.0V467H1216.0V467H1215.0V467H1214.0V468H1213.0V467H1212.0V467H1211.0V467H1210.0V469H1209.0V467H1208.0V467H1207.0V468H1206.0V467H1205.0V467H1204.0V469H1203.0V467H1202.0V467H1201.0V469H1200.0V468H1199.0V467H1198.0V467H1197.0V467H1196.0V467H1195.0V469H1194.0V469H1193.0V467H1192.0V469H1191.0V467H1190.0V467H1189.0V468H1188.0V469H1187.0V470H1186.0V467H1185.0V470H1184.0V468H1183.0V468H1182.0V468H1181.0V468H1180.0V468H1179.0V468H1178.0V469H1177.0V469H1176.0V468H1175.0V472H1174.0V469H1173.0V470H1172.0V470H1171.0V471H1170.0V471H1169.0V471H1168.0ZM1281.7 153.0V153H1282.0V153H1283.0V154H1284.0V154H1285.0V155H1286.0V155H1287.0V155H1288.0V156H1289.0V157H1290.0V157H1291.0V158H1292.0V156H1293.0V158H1294.0V159H1295.0V156H1296.0V159H1297.0V159H1298.0V158H1299.0V158H1300.0V160H1301.0V161H1302.0V157H1303.0V161H1304.0V160H1305.0V161H1306.0V161H1307.0V162H1308.0V162H1309.0V159H1310.0V162H1311.0V162H1312.0V159H1313.0V161H1314.0V162H1315.0V163H1316.0V162H1317.0V163H1318.0V163H1319.0V163H1320.0V163H1321.0V163H1321.2V172H1321.0V175H1320.0V171H1319.0V171H1318.0V171H1317.0V171H1316.0V171H1315.0V172H1314.0V171H1313.0V172H1312.0V173H1311.0V170H1310.0V171H1309.0V170H1308.0V170H1307.0V171H1306.0V171H1305.0V171H1304.0V169H1303.0V169H1302.0V169H1301.0V169H1300.0V170H1299.0V168H1298.0V170H1297.0V168H1296.0V168H1295.0V167H1294.0V167H1293.0V168H1292.0V166H1291.0V166H1290.0V166H1289.0V166H1288.0V165H1287.0V164H1286.0V166H1285.0V166H1284.0V163H1283.0V162H1282.0V163H1281.7ZM1320.3 460.6h2.7V483.0h-2.7zM1321.2 459.0V459H1322.0V459H1323.0V457H1324.0V457H1325.0V456H1326.0V458H1327.0V458H1328.0V457H1329.0V458H1330.0V458H1331.0V457H1332.0V457H1333.0V457H1334.0V456H1335.0V455H1336.0V455H1337.0V457H1338.0V456H1339.0V454H1340.0V456H1341.0V455H1342.0V454H1343.0V457H1344.0V457H1345.0V457H1346.0V455H1347.0V453H1348.0V457H1349.0V455H1350.0V457H1351.0V456H1352.0V456H1353.0V457H1354.0V456H1355.0V454H1356.0V456H1357.0V456H1358.0V455H1359.0V454H1360.0V456H1361.0V455H1362.0V454H1363.0V456H1364.0V456H1365.0V452H1366.0V456H1367.0V456H1368.0V455H1369.0V456H1370.0V455H1371.0V455H1372.0V455H1373.0V456H1374.0V455H1375.0V455H1376.0V456H1377.0V455H1378.0V456H1379.0V456H1380.0V455H1381.0V456H1382.0V456H1383.0V454H1384.0V454H1385.0V456H1386.0V454H1387.0V455H1388.0V455H1389.0V456H1390.0V453H1391.0V456H1392.0V455H1392.8V467H1392.0V466H1391.0V468H1390.0V466H1389.0V466H1388.0V466H1387.0V466H1386.0V468H1385.0V467H1384.0V468H1383.0V466H1382.0V466H1381.0V466H1380.0V467H1379.0V467H1378.0V467H1377.0V469H1376.0V467H1375.0V468H1374.0V468H1373.0V467H1372.0V467H1371.0V467H1370.0V467H1369.0V467H1368.0V467H1367.0V467H1366.0V467H1365.0V467H1364.0V467H1363.0V467H1362.0V467H1361.0V469H1360.0V467H1359.0V467H1358.0V467H1357.0V468H1356.0V468H1355.0V467H1354.0V468H1353.0V467H1352.0V468H1351.0V467H1350.0V468H1349.0V467H1348.0V469H1347.0V467H1346.0V467H1345.0V467H1344.0V468H1343.0V467H1342.0V467H1341.0V468H1340.0V468H1339.0V468H1338.0V468H1337.0V468H1336.0V470H1335.0V468H1334.0V469H1333.0V468H1332.0V468H1331.0V471H1330.0V469H1329.0V469H1328.0V469H1327.0V470H1326.0V470H1325.0V472H1324.0V472H1323.0V472H1322.0V476H1321.2Z"/></clipPath></defs>
<path d="M24.4 450.0V450H25.0V447H26.0V448H27.0V448H28.0V449H29.0V450H30.0V449H31.0V449H32.0V450H33.0V449H34.0V449H35.0V450H36.0V448H37.0V448H38.0V449H39.0V450H40.0V450H41.0V449H42.0V449H43.0V450H44.0V448H45.0V450H46.0V450H47.0V450H48.0V450H49.0V450H50.0V450H51.0V449H52.0V449H53.0V449H54.0V450H55.0V450H56.0V450H57.0V450H58.0V450H59.0V450H60.0V447H61.0V450H62.0V447H63.0V446H64.0V448H65.0V450H66.0V449H67.0V447H68.0V450H69.0V448H70.0V450H71.0V449H72.0V450H73.0V450H74.0V448H75.0V450H76.0V450H77.0V449H78.0V450H79.0V449H80.0V450H81.0V450H82.0V450H83.0V450H83.5V462H83.0V461H82.0V461H81.0V461H80.0V462H79.0V461H78.0V462H77.0V461H76.0V461H75.0V461H74.0V461H73.0V461H72.0V461H71.0V461H70.0V461H69.0V461H68.0V461H67.0V461H66.0V462H65.0V461H64.0V461H63.0V461H62.0V461H61.0V461H60.0V461H59.0V462H58.0V461H57.0V462H56.0V463H55.0V461H54.0V461H53.0V461H52.0V461H51.0V461H50.0V463H49.0V462H48.0V461H47.0V461H46.0V461H45.0V461H44.0V461H43.0V463H42.0V461H41.0V461H40.0V461H39.0V461H38.0V461H37.0V461H36.0V461H35.0V462H34.0V462H33.0V461H32.0V461H31.0V463H30.0V461H29.0V461H28.0V461H27.0V461H26.0V461H25.0V461H24.4ZM82.6 136.9h2.7V160.5h-2.7zM83.5 146.0V146H84.0V145H85.0V147H86.0V145H87.0V148H88.0V148H89.0V147H90.0V149H91.0V149H92.0V150H93.0V150H94.0V150H95.0V146H96.0V151H97.0V151H98.0V149H99.0V148H100.0V151H101.0V152H102.0V152H103.0V152H104.0V150H105.0V152H106.0V152H107.0V150H108.0V153H109.0V151H110.0V152H111.0V153H112.0V153H113.0V150H114.0V153H115.0V153H116.0V152H117.0V152H118.0V153H119.0V154H120.0V154H121.0V152H122.0V154H123.0V153H124.0V154H124.3V165H124.0V163H123.0V163H122.0V163H121.0V164H120.0V164H119.0V163H118.0V163H117.0V163H116.0V163H115.0V164H114.0V164H113.0V163H112.0V163H111.0V162H110.0V163H109.0V163H108.0V164H107.0V163H106.0V165H105.0V163H104.0V162H103.0V161H102.0V161H101.0V161H100.0V162H99.0V162H98.0V161H97.0V164H96.0V161H95.0V162H94.0V160H93.0V160H92.0V159H91.0V159H90.0V159H89.0V158H88.0V160H87.0V158H86.0V159H85.0V157H84.0V157H83.5ZM123.4 455.3h2.7V475.0h-2.7zM124.3 452.0V452H125.0V451H126.0V452H127.0V453H128.0V450H129.0V452H130.0V453H131.0V451H132.0V451H133.0V450H134.0V452H135.0V450H136.0V451H137.0V451H138.0V451H139.0V450H140.0V451H141.0V452H142.0V451H143.0V451H144.0V452H145.0V452H146.0V450H147.0V452H148.0V451H149.0V448H150.0V450H151.0V450H152.0V450H153.0V451H154.0V450H155.0V450H156.0V451H157.0V448H158.0V449H159.0V451H160.0V449H161.0V450H162.0V450H163.0V451H164.0V448H165.0V449H166.0V450H167.0V449H168.0V450H169.0V451H170.0V449H171.0V451H172.0V450H173.0V451H174.0V449H175.0V449H176.0V451H177.0V451H178.0V450H179.0V449H180.0V448H181.0V450H182.0V451H183.0V449H184.0V451H185.0V448H186.0V451H187.0V448H188.0V451H189.0V451H190.0V451H191.0V451H192.0V450H193.0V447H194.0V450H195.0V450H196.0V450H197.0V448H198.0V451H199.0V451H200.0V448H201.0V450H202.0V450H203.0V449H204.0V450H205.0V449H206.0V450H207.0V450H208.0V450H209.0V450H210.0V449H211.0V450H212.0V449H213.0V450H214.0V449H215.0V448H216.0V448H217.0V449H218.0V447H219.0V448H220.0V448H221.0V450H222.0V450H223.0V450H224.0V446H225.0V450H226.0V449H227.0V450H228.0V447H229.0V449H230.0V449H231.0V450H232.0V450H233.0V449H234.0V449H235.0V450H236.0V448H237.0V450H238.0V447H239.0V450H240.0V450H240.5V461H240.0V461H239.0V461H238.0V461H237.0V465H236.0V461H235.0V461H234.0V461H233.0V461H232.0V461H231.0V462H230.0V462H229.0V461H228.0V462H227.0V461H226.0V461H225.0V462H224.0V461H223.0V461H222.0V463H221.0V461H220.0V461H219.0V461H218.0V462H217.0V461H216.0V461H215.0V461H214.0V461H213.0V461H212.0V461H211.0V461H210.0V461H209.0V461H208.0V462H207.0V461H206.0V461H205.0V461H204.0V464H203.0V461H202.0V461H201.0V462H200.0V463H199.0V462H198.0V462H197.0V462H196.0V462H195.0V462H194.0V463H193.0V462H192.0V462H191.0V462H190.0V462H189.0V462H188.0V462H187.0V463H186.0V462H185.0V462H184.0V462H183.0V462H182.0V463H181.0V462H180.0V463H179.0V463H178.0V462H177.0V463H176.0V462H175.0V462H174.0V462H173.0V463H172.0V462H171.0V462H170.0V464H169.0V463H168.0V465H167.0V462H166.0V462H165.0V463H164.0V462H163.0V463H162.0V463H161.0V462H160.0V462H159.0V462H158.0V462H157.0V463H156.0V465H155.0V464H154.0V463H153.0V462H152.0V464H151.0V463H150.0V463H149.0V464H148.0V463H147.0V466H146.0V464H145.0V464H144.0V463H143.0V463H142.0V463H141.0V464H140.0V463H139.0V463H138.0V465H137.0V465H136.0V464H135.0V466H134.0V465H133.0V468H132.0V467H131.0V466H130.0V467H129.0V468H128.0V471H127.0V472H126.0V474H125.0V476H124.3ZM239.6 138.0h2.7V161.0h-2.7zM240.5 147.0V147H241.0V147H242.0V148H243.0V148H244.0V147H245.0V149H246.0V149H247.0V149H248.0V148H249.0V150H250.0V147H251.0V151H252.0V151H253.0V149H254.0V150H255.0V150H256.0V151H257.0V152H258.0V152H259.0V151H260.0V152H261.0V152H262.0V152H263.0V153H264.0V153H265.0V153H266.0V153H267.0V153H268.0V153H269.0V152H270.0V153H271.0V153H272.0V153H273.0V153H274.0V153H275.0V153H276.0V153H277.0V152H278.0V154H279.0V154H280.0V154H280.4V166H280.0V164H279.0V163H278.0V163H277.0V166H276.0V163H275.0V163H274.0V165H273.0V163H272.0V163H271.0V163H270.0V164H269.0V163H268.0V162H267.0V162H266.0V162H265.0V162H264.0V162H263.0V162H262.0V162H261.0V166H260.0V163H259.0V161H258.0V161H257.0V161H256.0V161H255.0V162H254.0V163H253.0V163H252.0V161H251.0V160H250.0V160H249.0V164H248.0V161H247.0V159H246.0V160H245.0V160H244.0V158H243.0V158H242.0V158H241.0V157H240.5ZM279.5 455.3h2.7V478.0h-2.7zM280.4 455.0V455H281.0V455H282.0V455H283.0V450H284.0V454H285.0V454H286.0V454H287.0V453H288.0V452H289.0V450H290.0V450H291.0V453H292.0V453H293.0V451H294.0V453H295.0V451H296.0V451H297.0V452H298.0V451H299.0V452H300.0V452H301.0V451H302.0V450H303.0V449H304.0V452H305.0V450H306.0V451H307.0V452H308.0V451H309.0V451H310.0V451H311.0V448H312.0V451H313.0V451H314.0V450H315.0V450H316.0V451H317.0V450H318.0V451H319.0V451H320.0V450H321.0V451H322.0V449H323.0V449H324.0V451H325.0V449H326.0V450H327.0V451H328.0V449H329.0V450H330.0V451H331.0V450H332.0V450H333.0V451H334.0V451H335.0V447H336.0V451H337.0V450H338.0V451H339.0V450H340.0V451H341.0V450H342.0V448H343.0V449H344.0V451H345.0V447H346.0V451H347.0V451H348.0V451H349.0V450H350.0V450H351.0V450H352.0V449H353.0V451H354.0V450H355.0V450H356.0V449H357.0V449H358.0V449H359.0V450H360.0V450H361.0V449H362.0V448H363.0V449H364.0V447H365.0V450H366.0V446H367.0V450H368.0V450H369.0V450H370.0V447H371.0V448H372.0V448H373.0V450H374.0V450H375.0V447H376.0V450H377.0V449H378.0V450H379.0V450H380.0V450H381.0V450H382.0V447H383.0V450H384.0V448H385.0V450H386.0V449H387.0V450H388.0V450H389.0V450H390.0V446H391.0V448H392.0V450H393.0V447H394.0V448H395.0V448H396.0V450H396.5V461H396.0V461H395.0V461H394.0V462H393.0V463H392.0V461H391.0V461H390.0V463H389.0V463H388.0V461H387.0V461H386.0V461H385.0V461H384.0V461H383.0V462H382.0V461H381.0V462H380.0V463H379.0V461H378.0V461H377.0V461H376.0V461H375.0V461H374.0V461H373.0V465H372.0V462H371.0V462H370.0V462H369.0V461H368.0V462H367.0V461H366.0V461H365.0V462H364.0V461H363.0V461H362.0V461H361.0V461H360.0V461H359.0V461H358.0V461H357.0V462H356.0V466H355.0V462H354.0V462H353.0V464H352.0V462H351.0V463H350.0V463H349.0V462H348.0V462H347.0V462H346.0V462H345.0V462H344.0V462H343.0V462H342.0V464H341.0V463H340.0V462H339.0V462H338.0V462H337.0V463H336.0V462H335.0V462H334.0V463H333.0V463H332.0V462H331.0V462H330.0V462H329.0V462H328.0V463H327.0V465H326.0V462H325.0V462H324.0V462H323.0V462H322.0V462H321.0V463H320.0V462H319.0V462H318.0V462H317.0V463H316.0V462H315.0V462H314.0V462H313.0V462H312.0V464H311.0V462H310.0V464H309.0V463H308.0V464H307.0V463H306.0V464H305.0V463H304.0V464H303.0V463H302.0V463H301.0V463H300.0V464H299.0V463H298.0V463H297.0V463H296.0V463H295.0V467H294.0V466H293.0V464H292.0V465H291.0V465H290.0V464H289.0V465H288.0V467H287.0V466H286.0V466H285.0V466H284.0V468H283.0V467H282.0V468H281.0V469H280.4ZM395.6 141.8h2.7V160.6h-2.7zM396.5 146.0V146H397.0V146H398.0V148H399.0V146H400.0V147H401.0V149H402.0V147H403.0V149H404.0V148H405.0V150H406.0V151H407.0V151H408.0V151H409.0V149H410.0V152H411.0V152H412.0V150H413.0V152H414.0V152H415.0V153H416.0V153H417.0V152H418.0V153H419.0V153H420.0V153H421.0V154H422.0V153H423.0V153H424.0V154H425.0V151H426.0V154H427.0V153H428.0V154H429.0V154H430.0V154H431.0V155H432.0V155H433.0V155H434.0V154H435.0V155H436.0V155H436.3V167H436.0V164H435.0V163H434.0V163H433.0V163H432.0V162H431.0V163H430.0V166H429.0V162H428.0V162H427.0V162H426.0V163H425.0V162H424.0V162H423.0V162H422.0V166H421.0V162H420.0V165H419.0V161H418.0V161H417.0V162H416.0V161H415.0V161H414.0V162H413.0V162H412.0V161H411.0V160H410.0V160H409.0V160H408.0V161H407.0V160H406.0V160H405.0V161H404.0V159H403.0V159H402.0V158H401.0V158H400.0V160H399.0V159H398.0V158H397.0V161H396.5ZM436.7 455.3h2.7V468.0h-2.7zM437.6 454.0V454H438.0V454H439.0V453H440.0V453H441.0V453H442.0V453H443.0V452H444.0V453H445.0V453H446.0V450H447.0V452H448.0V452H449.0V452H450.0V451H451.0V451H452.0V450H453.0V448H454.0V452H455.0V451H456.0V452H457.0V450H458.0V451H459.0V450H460.0V451H461.0V451H462.0V451H463.0V448H464.0V451H465.0V450H466.0V451H467.0V450H468.0V451H469.0V451H470.0V451H471.0V451H472.0V450H473.0V448H474.0V448H475.0V451H476.0V451H477.0V451H478.0V449H479.0V450H480.0V451H481.0V447H482.0V449H483.0V447H484.0V449H485.0V451H486.0V451H487.0V450H488.0V450H489.0V450H490.0V450H491.0V450H492.0V447H493.0V451H494.0V447H495.0V449H496.0V447H497.0V451H498.0V447H499.0V450H500.0V451H501.0V451H502.0V451H503.0V451H504.0V449H505.0V451H506.0V451H507.0V448H508.0V450H509.0V451H510.0V451H511.0V447H512.0V450H513.0V451H514.0V450H515.0V450H516.0V450H517.0V449H518.0V450H519.0V450H520.0V450H521.0V449H522.0V449H523.0V450H524.0V450H525.0V450H526.0V448H527.0V450H528.0V449H529.0V450H530.0V448H531.0V449H532.0V449H533.0V450H534.0V446H535.0V449H536.0V447H537.0V450H538.0V447H539.0V450H540.0V450H541.0V450H542.0V449H543.0V450H544.0V449H545.0V449H546.0V449H547.0V449H548.0V447H549.0V450H550.0V450H551.0V449H552.0V449H553.0V447H553.3V461H553.0V461H552.0V461H551.0V461H550.0V463H549.0V463H548.0V461H547.0V461H546.0V464H545.0V461H544.0V462H543.0V461H542.0V462H541.0V462H540.0V463H539.0V461H538.0V462H537.0V462H536.0V461H535.0V461H534.0V463H533.0V461H532.0V462H531.0V461H530.0V462H529.0V461H528.0V462H527.0V463H526.0V462H525.0V461H524.0V461H523.0V461H522.0V461H521.0V461H520.0V461H519.0V462H518.0V461H517.0V463H516.0V461H515.0V461H514.0V462H513.0V462H512.0V462H511.0V462H510.0V462H509.0V462H508.0V463H507.0V464H506.0V463H505.0V464H504.0V463H503.0V462H502.0V462H501.0V464H500.0V462H499.0V462H498.0V462H497.0V462H496.0V462H495.0V463H494.0V464H493.0V462H492.0V462H491.0V462H490.0V462H489.0V462H488.0V462H487.0V462H486.0V462H485.0V462H484.0V462H483.0V463H482.0V462H481.0V462H480.0V462H479.0V462H478.0V462H477.0V464H476.0V463H475.0V462H474.0V464H473.0V462H472.0V462H471.0V465H470.0V462H469.0V464H468.0V463H467.0V462H466.0V462H465.0V465H464.0V464H463.0V467H462.0V463H461.0V463H460.0V465H459.0V463H458.0V464H457.0V463H456.0V463H455.0V463H454.0V463H453.0V463H452.0V463H451.0V464H450.0V465H449.0V465H448.0V464H447.0V466H446.0V464H445.0V467H444.0V465H443.0V465H442.0V465H441.0V466H440.0V466H439.0V467H438.0V468H437.6ZM552.4 140.0h2.7V160.0h-2.7zM553.3 146.0V146H554.0V147H555.0V144H556.0V146H557.0V148H558.0V148H559.0V148H560.0V149H561.0V149H562.0V149H563.0V146H564.0V150H565.0V151H566.0V150H567.0V151H568.0V150H569.0V151H570.0V152H571.0V152H572.0V152H573.0V152H574.0V152H575.0V152H576.0V152H577.0V153H578.0V153H579.0V152H580.0V153H581.0V153H582.0V152H583.0V153H584.0V153H585.0V153H586.0V153H587.0V153H588.0V154H589.0V154H590.0V151H591.0V153H592.0V154H592.4V165H592.0V165H591.0V164H590.0V164H589.0V164H588.0V165H587.0V165H586.0V164H585.0V166H584.0V165H583.0V163H582.0V163H581.0V163H580.0V163H579.0V163H578.0V165H577.0V164H576.0V163H575.0V162H574.0V162H573.0V164H572.0V165H571.0V162H570.0V164H569.0V161H568.0V162H567.0V161H566.0V161H565.0V161H564.0V163H563.0V161H562.0V160H561.0V159H560.0V161H559.0V158H558.0V160H557.0V159H556.0V158H555.0V159H554.0V156H553.3ZM592.7 455.3h2.7V468.0h-2.7zM593.6 453.0V453H594.0V454H595.0V453H596.0V453H597.0V453H598.0V449H599.0V453H600.0V451H601.0V453H602.0V453H603.0V449H604.0V452H605.0V452H606.0V451H607.0V451H608.0V452H609.0V450H610.0V450H611.0V452H612.0V451H613.0V452H614.0V452H615.0V452H616.0V452H617.0V451H618.0V452H619.0V448H620.0V451H621.0V451H622.0V450H623.0V451H624.0V448H625.0V451H626.0V451H627.0V451H628.0V451H629.0V449H630.0V451H631.0V451H632.0V450H633.0V451H634.0V451H635.0V450H636.0V451H637.0V451H638.0V449H639.0V451H640.0V450H641.0V451H642.0V450H643.0V449H644.0V451H645.0V449H646.0V450H647.0V449H648.0V451H649.0V449H650.0V449H651.0V449H652.0V451H653.0V448H654.0V451H655.0V451H655.6V462H655.0V462H654.0V462H653.0V462H652.0V462H651.0V462H650.0V462H649.0V462H648.0V462H647.0V462H646.0V463H645.0V462H644.0V463H643.0V462H642.0V462H641.0V462H640.0V462H639.0V462H638.0V464H637.0V462H636.0V462H635.0V463H634.0V462H633.0V462H632.0V462H631.0V462H630.0V463H629.0V462H628.0V463H627.0V465H626.0V463H625.0V462H624.0V462H623.0V462H622.0V464H621.0V463H620.0V463H619.0V463H618.0V463H617.0V463H616.0V467H615.0V463H614.0V463H613.0V463H612.0V463H611.0V463H610.0V463H609.0V463H608.0V465H607.0V465H606.0V463H605.0V464H604.0V464H603.0V466H602.0V464H601.0V464H600.0V464H599.0V465H598.0V465H597.0V465H596.0V466H595.0V468H594.0V470H593.6ZM761.6 455.0V455H762.0V455H763.0V455H764.0V455H765.0V454H766.0V454H767.0V455H768.0V455H769.0V455H770.0V454H771.0V455H772.0V455H773.0V453H774.0V455H775.0V455H776.0V454H777.0V455H778.0V455H779.0V455H780.0V454H781.0V455H782.0V455H783.0V455H784.0V454H785.0V455H786.0V454H787.0V455H788.0V454H789.0V452H790.0V455H791.0V454H792.0V454H793.0V452H794.0V455H795.0V453H796.0V455H797.0V455H798.0V455H799.0V453H800.0V455H801.0V454H802.0V454H803.0V454H804.0V454H805.0V452H806.0V455H807.0V454H808.0V455H809.0V455H810.0V455H811.0V454H812.0V455H813.0V455H814.0V455H815.0V455H816.0V455H817.0V454H818.0V453H819.0V455H820.0V454H821.0V455H822.0V454H822.5V468H822.0V466H821.0V466H820.0V466H819.0V467H818.0V466H817.0V470H816.0V466H815.0V467H814.0V467H813.0V466H812.0V467H811.0V466H810.0V466H809.0V466H808.0V467H807.0V467H806.0V468H805.0V468H804.0V468H803.0V466H802.0V466H801.0V466H800.0V466H799.0V467H798.0V466H797.0V466H796.0V466H795.0V466H794.0V466H793.0V467H792.0V466H791.0V467H790.0V466H789.0V468H788.0V466H787.0V466H786.0V469H785.0V466H784.0V466H783.0V469H782.0V466H781.0V466H780.0V466H779.0V466H778.0V467H777.0V469H776.0V466H775.0V467H774.0V466H773.0V466H772.0V466H771.0V466H770.0V466H769.0V466H768.0V466H767.0V466H766.0V466H765.0V466H764.0V466H763.0V466H762.0V467H761.6ZM821.6 135.4h2.7V166.0h-2.7zM822.5 152.0V152H823.0V155H824.0V154H825.0V155H826.0V156H827.0V157H828.0V157H829.0V157H830.0V157H831.0V158H832.0V158H833.0V157H834.0V158H835.0V159H836.0V158H837.0V159H838.0V160H839.0V160H840.0V158H841.0V160H842.0V160H843.0V160H844.0V160H845.0V161H846.0V161H847.0V161H848.0V160H849.0V161H850.0V160H851.0V161H852.0V160H853.0V161H854.0V160H855.0V162H856.0V159H857.0V160H858.0V160H859.0V162H860.0V162H861.0V162H861.4V171H861.0V172H860.0V171H859.0V175H858.0V171H857.0V172H856.0V174H855.0V172H854.0V172H853.0V171H852.0V171H851.0V173H850.0V170H849.0V170H848.0V171H847.0V170H846.0V171H845.0V170H844.0V169H843.0V170H842.0V171H841.0V169H840.0V171H839.0V170H838.0V170H837.0V168H836.0V169H835.0V167H834.0V167H833.0V169H832.0V166H831.0V168H830.0V167H829.0V167H828.0V165H827.0V167H826.0V164H825.0V163H824.0V162H823.0V162H822.5ZM860.5 460.6h2.7V470.0h-2.7zM861.4 458.0V458H862.0V455H863.0V458H864.0V455H865.0V456H866.0V456H867.0V455H868.0V457H869.0V455H870.0V458H871.0V457H872.0V457H873.0V456H874.0V457H875.0V457H876.0V457H877.0V457H878.0V456H879.0V457H880.0V457H881.0V457H882.0V456H883.0V457H884.0V454H885.0V457H886.0V456H887.0V457H888.0V454H889.0V456H890.0V457H891.0V454H892.0V455H893.0V457H894.0V456H895.0V457H896.0V457H897.0V456H898.0V454H899.0V456H900.0V457H901.0V454H902.0V456H903.0V456H904.0V455H905.0V456H906.0V456H907.0V455H908.0V456H909.0V456H910.0V455H911.0V453H912.0V456H913.0V454H914.0V456H915.0V456H916.0V456H917.0V456H918.0V456H919.0V456H920.0V456H921.0V456H922.0V454H923.0V456H924.0V454H925.0V455H926.0V454H927.0V456H928.0V456H929.0V454H930.0V456H931.0V456H932.0V455H933.0V456H934.0V455H935.0V453H936.0V453H937.0V456H938.0V455H939.0V455H940.0V456H941.0V455H942.0V456H943.0V452H944.0V456H945.0V456H946.0V455H947.0V454H948.0V456H949.0V456H950.0V456H951.0V456H952.0V455H953.0V456H954.0V456H955.0V453H956.0V456H957.0V456H958.0V455H959.0V456H960.0V456H961.0V453H962.0V456H963.0V456H964.0V455H965.0V456H966.0V456H967.0V454H968.0V455H969.0V456H970.0V456H971.0V455H972.0V453H973.0V456H974.0V456H975.0V456H975.2V467H975.0V466H974.0V466H973.0V467H972.0V467H971.0V466H970.0V467H969.0V466H968.0V466H967.0V468H966.0V466H965.0V468H964.0V466H963.0V466H962.0V467H961.0V466H960.0V466H959.0V466H958.0V467H957.0V468H956.0V467H955.0V468H954.0V466H953.0V466H952.0V466H951.0V466H950.0V466H949.0V466H948.0V466H947.0V468H946.0V466H945.0V466H944.0V466H943.0V466H942.0V466H941.0V466H940.0V467H939.0V466H938.0V466H937.0V466H936.0V466H935.0V466H934.0V469H933.0V468H932.0V467H931.0V466H930.0V467H929.0V466H928.0V466H927.0V466H926.0V468H925.0V467H924.0V467H923.0V466H922.0V466H921.0V469H920.0V467H919.0V467H918.0V467H917.0V467H916.0V467H915.0V467H914.0V467H913.0V469H912.0V467H911.0V467H910.0V467H909.0V467H908.0V467H907.0V467H906.0V467H905.0V467H904.0V469H903.0V467H902.0V467H901.0V467H900.0V468H899.0V467H898.0V467H897.0V467H896.0V467H895.0V469H894.0V468H893.0V467H892.0V469H891.0V468H890.0V467H889.0V467H888.0V467H887.0V467H886.0V467H885.0V467H884.0V467H883.0V467H882.0V467H881.0V467H880.0V467H879.0V468H878.0V469H877.0V469H876.0V468H875.0V470H874.0V468H873.0V472H872.0V468H871.0V468H870.0V468H869.0V469H868.0V469H867.0V472H866.0V470H865.0V470H864.0V470H863.0V472H862.0V471H861.4ZM974.3 124.6h2.7V195.5h-2.7zM975.2 154.0V154H976.0V154H977.0V154H978.0V155H979.0V155H980.0V156H981.0V156H982.0V156H983.0V156H984.0V156H985.0V153H986.0V156H987.0V157H988.0V157H989.0V158H990.0V156H991.0V158H992.0V159H993.0V159H994.0V159H995.0V159H996.0V159H997.0V158H998.0V159H999.0V160H1000.0V160H1001.0V158H1002.0V158H1003.0V156H1004.0V160H1005.0V157H1006.0V160H1007.0V160H1008.0V160H1009.0V160H1010.0V160H1011.0V161H1012.0V160H1013.0V161H1014.0V161H1014.2V171H1014.0V170H1013.0V170H1012.0V171H1011.0V172H1010.0V170H1009.0V170H1008.0V171H1007.0V171H1006.0V172H1005.0V174H1004.0V169H1003.0V169H1002.0V169H1001.0V169H1000.0V169H999.0V169H998.0V169H997.0V169H996.0V168H995.0V169H994.0V168H993.0V171H992.0V168H991.0V170H990.0V167H989.0V167H988.0V168H987.0V166H986.0V167H985.0V166H984.0V165H983.0V167H982.0V168H981.0V165H980.0V168H979.0V163H978.0V163H977.0V163H976.0V162H975.2ZM1014.4 460.6h2.7V471.0h-2.7zM1015.3 459.0V459H1016.0V459H1017.0V455H1018.0V458H1019.0V457H1020.0V458H1021.0V458H1022.0V458H1023.0V458H1024.0V458H1025.0V457H1026.0V458H1027.0V458H1028.0V457H1029.0V456H1030.0V457H1031.0V454H1032.0V457H1033.0V453H1034.0V457H1035.0V456H1036.0V457H1037.0V455H1038.0V457H1039.0V457H1040.0V457H1041.0V457H1042.0V456H1043.0V454H1044.0V457H1045.0V455H1046.0V457H1047.0V457H1048.0V456H1049.0V456H1050.0V454H1051.0V457H1052.0V457H1053.0V454H1054.0V457H1055.0V457H1056.0V455H1057.0V456H1058.0V455H1059.0V453H1060.0V455H1061.0V456H1062.0V452H1063.0V454H1064.0V456H1065.0V453H1066.0V456H1067.0V456H1068.0V455H1069.0V456H1070.0V456H1071.0V456H1072.0V456H1073.0V456H1074.0V456H1075.0V455H1076.0V456H1077.0V454H1078.0V455H1079.0V453H1080.0V456H1081.0V456H1082.0V456H1083.0V454H1084.0V456H1085.0V453H1086.0V452H1087.0V456H1088.0V454H1089.0V456H1090.0V456H1091.0V455H1092.0V456H1093.0V453H1094.0V456H1095.0V456H1096.0V455H1097.0V456H1098.0V455H1099.0V452H1100.0V456H1101.0V454H1102.0V454H1103.0V456H1104.0V455H1105.0V456H1106.0V456H1107.0V456H1108.0V456H1109.0V454H1110.0V454H1111.0V455H1112.0V455H1113.0V455H1114.0V454H1115.0V456H1116.0V456H1117.0V456H1118.0V456H1119.0V452H1120.0V455H1121.0V456H1122.0V455H1123.0V455H1124.0V456H1125.0V453H1126.0V456H1127.0V452H1128.0V456H1129.0V466H1128.0V466H1127.0V466H1126.0V469H1125.0V468H1124.0V466H1123.0V468H1122.0V466H1121.0V468H1120.0V466H1119.0V467H1118.0V466H1117.0V467H1116.0V468H1115.0V466H1114.0V468H1113.0V466H1112.0V466H1111.0V467H1110.0V466H1109.0V466H1108.0V466H1107.0V466H1106.0V466H1105.0V466H1104.0V466H1103.0V469H1102.0V466H1101.0V467H1100.0V466H1099.0V468H1098.0V467H1097.0V466H1096.0V466H1095.0V467H1094.0V467H1093.0V466H1092.0V466H1091.0V467H1090.0V467H1089.0V466H1088.0V466H1087.0V466H1086.0V466H1085.0V466H1084.0V466H1083.0V468H1082.0V466H1081.0V466H1080.0V466H1079.0V466H1078.0V466H1077.0V466H1076.0V466H1075.0V466H1074.0V467H1073.0V467H1072.0V468H1071.0V468H1070.0V468H1069.0V469H1068.0V467H1067.0V467H1066.0V469H1065.0V467H1064.0V467H1063.0V467H1062.0V467H1061.0V467H1060.0V468H1059.0V468H1058.0V469H1057.0V468H1056.0V468H1055.0V468H1054.0V467H1053.0V468H1052.0V468H1051.0V467H1050.0V467H1049.0V469H1048.0V467H1047.0V468H1046.0V467H1045.0V468H1044.0V467H1043.0V467H1042.0V467H1041.0V469H1040.0V468H1039.0V467H1038.0V467H1037.0V467H1036.0V467H1035.0V467H1034.0V468H1033.0V468H1032.0V469H1031.0V468H1030.0V468H1029.0V468H1028.0V468H1027.0V468H1026.0V468H1025.0V468H1024.0V470H1023.0V469H1022.0V469H1021.0V469H1020.0V470H1019.0V470H1018.0V474H1017.0V475H1016.0V474H1015.3ZM1129.0 150.0V150H1130.0V154H1131.0V154H1132.0V154H1133.0V154H1134.0V156H1135.0V156H1136.0V157H1137.0V157H1138.0V157H1139.0V158H1140.0V158H1141.0V158H1142.0V158H1143.0V158H1144.0V159H1145.0V157H1146.0V160H1147.0V160H1148.0V160H1149.0V160H1150.0V159H1151.0V160H1152.0V160H1153.0V161H1154.0V158H1155.0V161H1156.0V161H1157.0V161H1158.0V161H1159.0V160H1160.0V161H1161.0V162H1162.0V162H1163.0V161H1164.0V162H1165.0V162H1166.0V162H1166.7V173H1166.0V171H1165.0V172H1164.0V171H1163.0V171H1162.0V171H1161.0V173H1160.0V171H1159.0V171H1158.0V172H1157.0V172H1156.0V170H1155.0V170H1154.0V171H1153.0V170H1152.0V171H1151.0V170H1150.0V171H1149.0V172H1148.0V169H1147.0V172H1146.0V169H1145.0V169H1144.0V172H1143.0V169H1142.0V167H1141.0V169H1140.0V167H1139.0V166H1138.0V168H1137.0V170H1136.0V166H1135.0V165H1134.0V166H1133.0V165H1132.0V163H1131.0V163H1130.0V166H1129.0ZM1167.1 460.6h2.7V473.0h-2.7zM1168.0 458.0V458H1169.0V458H1170.0V457H1171.0V456H1172.0V458H1173.0V458H1174.0V458H1175.0V457H1176.0V458H1177.0V455H1178.0V455H1179.0V455H1180.0V457H1181.0V456H1182.0V455H1183.0V457H1184.0V457H1185.0V457H1186.0V455H1187.0V457H1188.0V457H1189.0V454H1190.0V456H1191.0V455H1192.0V456H1193.0V456H1194.0V457H1195.0V453H1196.0V457H1197.0V457H1198.0V456H1199.0V456H1200.0V456H1201.0V457H1202.0V457H1203.0V455H1204.0V456H1205.0V457H1206.0V457H1207.0V454H1208.0V453H1209.0V456H1210.0V453H1211.0V455H1212.0V456H1213.0V456H1214.0V453H1215.0V454H1216.0V455H1217.0V456H1218.0V456H1219.0V456H1220.0V456H1221.0V455H1222.0V456H1223.0V455H1224.0V455H1225.0V456H1226.0V456H1227.0V454H1228.0V456H1229.0V453H1230.0V453H1231.0V455H1232.0V453H1233.0V455H1234.0V456H1235.0V455H1236.0V455H1237.0V455H1238.0V456H1239.0V455H1240.0V456H1241.0V456H1242.0V456H1243.0V456H1244.0V456H1245.0V456H1246.0V456H1247.0V456H1248.0V456H1249.0V454H1250.0V456H1251.0V455H1252.0V455H1253.0V456H1254.0V455H1255.0V456H1256.0V456H1257.0V454H1258.0V456H1259.0V456H1260.0V452H1261.0V454H1262.0V452H1263.0V453H1264.0V453H1265.0V456H1266.0V454H1267.0V455H1268.0V455H1269.0V456H1270.0V454H1271.0V456H1272.0V453H1273.0V456H1274.0V456H1275.0V456H1276.0V454H1277.0V455H1278.0V456H1279.0V455H1280.0V453H1281.0V456H1281.7V466H1281.0V466H1280.0V467H1279.0V466H1278.0V466H1277.0V467H1276.0V467H1275.0V467H1274.0V466H1273.0V466H1272.0V466H1271.0V466H1270.0V466H1269.0V466H1268.0V467H1267.0V470H1266.0V467H1265.0V466H1264.0V466H1263.0V468H1262.0V466H1261.0V466H1260.0V467H1259.0V467H1258.0V466H1257.0V466H1256.0V467H1255.0V466H1254.0V466H1253.0V467H1252.0V468H1251.0V467H1250.0V466H1249.0V466H1248.0V466H1247.0V466H1246.0V466H1245.0V466H1244.0V466H1243.0V466H1242.0V466H1241.0V466H1240.0V466H1239.0V467H1238.0V466H1237.0V467H1236.0V467H1235.0V466H1234.0V466H1233.0V466H1232.0V466H1231.0V466H1230.0V467H1229.0V466H1228.0V468H1227.0V469H1226.0V469H1225.0V467H1224.0V467H1223.0V469H1222.0V467H1221.0V467H1220.0V467H1219.0V467H1218.0V467H1217.0V467H1216.0V467H1215.0V467H1214.0V468H1213.0V467H1212.0V467H1211.0V467H1210.0V469H1209.0V467H1208.0V467H1207.0V468H1206.0V467H1205.0V467H1204.0V469H1203.0V467H1202.0V467H1201.0V469H1200.0V468H1199.0V467H1198.0V467H1197.0V467H1196.0V467H1195.0V469H1194.0V469H1193.0V467H1192.0V469H1191.0V467H1190.0V467H1189.0V468H1188.0V469H1187.0V470H1186.0V467H1185.0V470H1184.0V468H1183.0V468H1182.0V468H1181.0V468H1180.0V468H1179.0V468H1178.0V469H1177.0V469H1176.0V468H1175.0V472H1174.0V469H1173.0V470H1172.0V470H1171.0V471H1170.0V471H1169.0V471H1168.0ZM1281.7 153.0V153H1282.0V153H1283.0V154H1284.0V154H1285.0V155H1286.0V155H1287.0V155H1288.0V156H1289.0V157H1290.0V157H1291.0V158H1292.0V156H1293.0V158H1294.0V159H1295.0V156H1296.0V159H1297.0V159H1298.0V158H1299.0V158H1300.0V160H1301.0V161H1302.0V157H1303.0V161H1304.0V160H1305.0V161H1306.0V161H1307.0V162H1308.0V162H1309.0V159H1310.0V162H1311.0V162H1312.0V159H1313.0V161H1314.0V162H1315.0V163H1316.0V162H1317.0V163H1318.0V163H1319.0V163H1320.0V163H1321.0V163H1321.2V172H1321.0V175H1320.0V171H1319.0V171H1318.0V171H1317.0V171H1316.0V171H1315.0V172H1314.0V171H1313.0V172H1312.0V173H1311.0V170H1310.0V171H1309.0V170H1308.0V170H1307.0V171H1306.0V171H1305.0V171H1304.0V169H1303.0V169H1302.0V169H1301.0V169H1300.0V170H1299.0V168H1298.0V170H1297.0V168H1296.0V168H1295.0V167H1294.0V167H1293.0V168H1292.0V166H1291.0V166H1290.0V166H1289.0V166H1288.0V165H1287.0V164H1286.0V166H1285.0V166H1284.0V163H1283.0V162H1282.0V163H1281.7ZM1320.3 460.6h2.7V483.0h-2.7zM1321.2 459.0V459H1322.0V459H1323.0V457H1324.0V457H1325.0V456H1326.0V458H1327.0V458H1328.0V457H1329.0V458H1330.0V458H1331.0V457H1332.0V457H1333.0V457H1334.0V456H1335.0V455H1336.0V455H1337.0V457H1338.0V456H1339.0V454H1340.0V456H1341.0V455H1342.0V454H1343.0V457H1344.0V457H1345.0V457H1346.0V455H1347.0V453H1348.0V457H1349.0V455H1350.0V457H1351.0V456H1352.0V456H1353.0V457H1354.0V456H1355.0V454H1356.0V456H1357.0V456H1358.0V455H1359.0V454H1360.0V456H1361.0V455H1362.0V454H1363.0V456H1364.0V456H1365.0V452H1366.0V456H1367.0V456H1368.0V455H1369.0V456H1370.0V455H1371.0V455H1372.0V455H1373.0V456H1374.0V455H1375.0V455H1376.0V456H1377.0V455H1378.0V456H1379.0V456H1380.0V455H1381.0V456H1382.0V456H1383.0V454H1384.0V454H1385.0V456H1386.0V454H1387.0V455H1388.0V455H1389.0V456H1390.0V453H1391.0V456H1392.0V455H1392.8V467H1392.0V466H1391.0V468H1390.0V466H1389.0V466H1388.0V466H1387.0V466H1386.0V468H1385.0V467H1384.0V468H1383.0V466H1382.0V466H1381.0V466H1380.0V467H1379.0V467H1378.0V467H1377.0V469H1376.0V467H1375.0V468H1374.0V468H1373.0V467H1372.0V467H1371.0V467H1370.0V467H1369.0V467H1368.0V467H1367.0V467H1366.0V467H1365.0V467H1364.0V467H1363.0V467H1362.0V467H1361.0V469H1360.0V467H1359.0V467H1358.0V467H1357.0V468H1356.0V468H1355.0V467H1354.0V468H1353.0V467H1352.0V468H1351.0V467H1350.0V468H1349.0V467H1348.0V469H1347.0V467H1346.0V467H1345.0V467H1344.0V468H1343.0V467H1342.0V467H1341.0V468H1340.0V468H1339.0V468H1338.0V468H1337.0V468H1336.0V470H1335.0V468H1334.0V469H1333.0V468H1332.0V468H1331.0V471H1330.0V469H1329.0V469H1328.0V469H1327.0V470H1326.0V470H1325.0V472H1324.0V472H1323.0V472H1322.0V476H1321.2Z" fill="#8b1e8d"/>
<path d="M83.5 459.3V111.0M124.3 153.0V488.7M240.5 459.3V111.5M280.4 153.0V492.6M396.5 459.3V114.0M436.3 154.0V174.0M437.6 174.0V493.6M552.2 459.3V385.8M553.3 385.8V109.0M592.4 153.0V343.4M593.6 343.4V493.4M822.5 464.6V60.8M861.4 160.7V485.4M975.2 464.6V65.6M1014.2 159.5V402.0M1015.3 402.0V489.3M1128.0 464.6V418.3M1129.0 418.3V60.8M1166.7 160.7V246.6M1168.0 246.6V488.3M1281.7 464.6V65.8M1321.2 162.0V483.0" stroke="#8b1e8d" stroke-width="1.5" fill="none"/>
<g clip-path="url(#ca)"><path d="M86.8 25.4h1.5v1.5h-1.5zM86.8 38.0h1.5v1.5h-1.5zM86.8 50.6h1.5v1.5h-1.5zM86.8 63.2h1.5v1.5h-1.5zM86.8 75.8h1.5v1.5h-1.5zM86.8 88.4h1.5v1.5h-1.5zM86.8 101.1h1.5v1.5h-1.5zM86.8 113.7h1.5v1.5h-1.5zM86.8 126.3h1.5v1.5h-1.5zM86.8 138.9h1.5v1.5h-1.5zM86.8 151.5h1.5v1.5h-1.5zM86.8 164.1h1.5v1.5h-1.5zM86.8 176.8h1.5v1.5h-1.5zM86.8 189.4h1.5v1.5h-1.5zM86.8 202.0h1.5v1.5h-1.5zM86.8 214.6h1.5v1.5h-1.5zM86.8 227.2h1.5v1.5h-1.5zM86.8 239.8h1.5v1.5h-1.5zM86.8 252.5h1.5v1.5h-1.5zM86.8 277.7h1.5v1.5h-1.5zM86.8 290.3h1.5v1.5h-1.5zM86.8 302.9h1.5v1.5h-1.5zM86.8 315.5h1.5v1.5h-1.5zM86.8 328.1h1.5v1.5h-1.5zM86.8 340.8h1.5v1.5h-1.5zM86.8 353.4h1.5v1.5h-1.5zM86.8 366.0h1.5v1.5h-1.5zM86.8 378.6h1.5v1.5h-1.5zM86.8 391.2h1.5v1.5h-1.5zM86.8 403.8h1.5v1.5h-1.5zM86.8 416.5h1.5v1.5h-1.5zM86.8 429.1h1.5v1.5h-1.5zM86.8 441.7h1.5v1.5h-1.5zM86.8 454.3h1.5v1.5h-1.5zM86.8 466.9h1.5v1.5h-1.5zM86.8 479.5h1.5v1.5h-1.5zM86.8 492.2h1.5v1.5h-1.5zM86.8 504.8h1.5v1.5h-1.5zM149.9 25.4h1.5v1.5h-1.5zM149.9 38.0h1.5v1.5h-1.5zM149.9 50.6h1.5v1.5h-1.5zM149.9 63.2h1.5v1.5h-1.5zM149.9 75.8h1.5v1.5h-1.5zM149.9 88.4h1.5v1.5h-1.5zM149.9 101.1h1.5v1.5h-1.5zM149.9 113.7h1.5v1.5h-1.5zM149.9 126.3h1.5v1.5h-1.5zM149.9 138.9h1.5v1.5h-1.5zM149.9 151.5h1.5v1.5h-1.5zM149.9 164.1h1.5v1.5h-1.5zM149.9 176.8h1.5v1.5h-1.5zM149.9 189.4h1.5v1.5h-1.5zM149.9 202.0h1.5v1.5h-1.5zM149.9 214.6h1.5v1.5h-1.5zM149.9 227.2h1.5v1.5h-1.5zM149.9 239.8h1.5v1.5h-1.5zM149.9 252.5h1.5v1.5h-1.5zM149.9 277.7h1.5v1.5h-1.5zM149.9 290.3h1.5v1.5h-1.5zM149.9 302.9h1.5v1.5h-1.5zM149.9 315.5h1.5v1.5h-1.5zM149.9 328.1h1.5v1.5h-1.5zM149.9 340.8h1.5v1.5h-1.5zM149.9 353.4h1.5v1.5h-1.5zM149.9 366.0h1.5v1.5h-1.5zM149.9 378.6h1.5v1.5h-1.5zM149.9 391.2h1.5v1.5h-1.5zM149.9 403.8h1.5v1.5h-1.5zM149.9 416.5h1.5v1.5h-1.5zM149.9 429.1h1.5v1.5h-1.5zM149.9 441.7h1.5v1.5h-1.5zM149.9 454.3h1.5v1.5h-1.5zM149.9 466.9h1.5v1.5h-1.5zM149.9 479.5h1.5v1.5h-1.5zM149.9 492.2h1.5v1.5h-1.5zM149.9 504.8h1.5v1.5h-1.5zM213.0 25.4h1.5v1.5h-1.5zM213.0 38.0h1.5v1.5h-1.5zM213.0 50.6h1.5v1.5h-1.5zM213.0 63.2h1.5v1.5h-1.5zM213.0 75.8h1.5v1.5h-1.5zM213.0 88.4h1.5v1.5h-1.5zM213.0 101.1h1.5v1.5h-1.5zM213.0 113.7h1.5v1.5h-1.5zM213.0 126.3h1.5v1.5h-1.5zM213.0 138.9h1.5v1.5h-1.5zM213.0 151.5h1.5v1.5h-1.5zM213.0 164.1h1.5v1.5h-1.5zM213.0 176.8h1.5v1.5h-1.5zM213.0 189.4h1.5v1.5h-1.5zM213.0 202.0h1.5v1.5h-1.5zM213.0 214.6h1.5v1.5h-1.5zM213.0 227.2h1.5v1.5h-1.5zM213.0 239.8h1.5v1.5h-1.5zM213.0 252.5h1.5v1.5h-1.5zM213.0 277.7h1.5v1.5h-1.5zM213.0 290.3h1.5v1.5h-1.5zM213.0 302.9h1.5v1.5h-1.5zM213.0 315.5h1.5v1.5h-1.5zM213.0 328.1h1.5v1.5h-1.5zM213.0 340.8h1.5v1.5h-1.5zM213.0 353.4h1.5v1.5h-1.5zM213.0 366.0h1.5v1.5h-1.5zM213.0 378.6h1.5v1.5h-1.5zM213.0 391.2h1.5v1.5h-1.5zM213.0 403.8h1.5v1.5h-1.5zM213.0 416.5h1.5v1.5h-1.5zM213.0 429.1h1.5v1.5h-1.5zM213.0 441.7h1.5v1.5h-1.5zM213.0 454.3h1.5v1.5h-1.5zM213.0 466.9h1.5v1.5h-1.5zM213.0 479.5h1.5v1.5h-1.5zM213.0 492.2h1.5v1.5h-1.5zM213.0 504.8h1.5v1.5h-1.5zM276.1 25.4h1.5v1.5h-1.5zM276.1 38.0h1.5v1.5h-1.5zM276.1 50.6h1.5v1.5h-1.5zM276.1 63.2h1.5v1.5h-1.5zM276.1 75.8h1.5v1.5h-1.5zM276.1 88.4h1.5v1.5h-1.5zM276.1 101.1h1.5v1.5h-1.5zM276.1 113.7h1.5v1.5h-1.5zM276.1 126.3h1.5v1.5h-1.5zM276.1 138.9h1.5v1.5h-1.5zM276.1 151.5h1.5v1.5h-1.5zM276.1 164.1h1.5v1.5h-1.5zM276.1 176.8h1.5v1.5h-1.5zM276.1 189.4h1.5v1.5h-1.5zM276.1 202.0h1.5v1.5h-1.5zM276.1 214.6h1.5v1.5h-1.5zM276.1 227.2h1.5v1.5h-1.5zM276.1 239.8h1.5v1.5h-1.5zM276.1 252.5h1.5v1.5h-1.5zM276.1 277.7h1.5v1.5h-1.5zM276.1 290.3h1.5v1.5h-1.5zM276.1 302.9h1.5v1.5h-1.5zM276.1 315.5h1.5v1.5h-1.5zM276.1 328.1h1.5v1.5h-1.5zM276.1 340.8h1.5v1.5h-1.5zM276.1 353.4h1.5v1.5h-1.5zM276.1 366.0h1.5v1.5h-1.5zM276.1 378.6h1.5v1.5h-1.5zM276.1 391.2h1.5v1.5h-1.5zM276.1 403.8h1.5v1.5h-1.5zM276.1 416.5h1.5v1.5h-1.5zM276.1 429.1h1.5v1.5h-1.5zM276.1 441.7h1.5v1.5h-1.5zM276.1 454.3h1.5v1.5h-1.5zM276.1 466.9h1.5v1.5h-1.5zM276.1 479.5h1.5v1.5h-1.5zM276.1 492.2h1.5v1.5h-1.5zM276.1 504.8h1.5v1.5h-1.5zM402.4 25.4h1.5v1.5h-1.5zM402.4 38.0h1.5v1.5h-1.5zM402.4 50.6h1.5v1.5h-1.5zM402.4 63.2h1.5v1.5h-1.5zM402.4 75.8h1.5v1.5h-1.5zM402.4 88.4h1.5v1.5h-1.5zM402.4 101.1h1.5v1.5h-1.5zM402.4 113.7h1.5v1.5h-1.5zM402.4 126.3h1.5v1.5h-1.5zM402.4 138.9h1.5v1.5h-1.5zM402.4 151.5h1.5v1.5h-1.5zM402.4 164.1h1.5v1.5h-1.5zM402.4 176.8h1.5v1.5h-1.5zM402.4 189.4h1.5v1.5h-1.5zM402.4 202.0h1.5v1.5h-1.5zM402.4 214.6h1.5v1.5h-1.5zM402.4 227.2h1.5v1.5h-1.5zM402.4 239.8h1.5v1.5h-1.5zM402.4 252.5h1.5v1.5h-1.5zM402.4 277.7h1.5v1.5h-1.5zM402.4 290.3h1.5v1.5h-1.5zM402.4 302.9h1.5v1.5h-1.5zM402.4 315.5h1.5v1.5h-1.5zM402.4 328.1h1.5v1.5h-1.5zM402.4 340.8h1.5v1.5h-1.5zM402.4 353.4h1.5v1.5h-1.5zM402.4 366.0h1.5v1.5h-1.5zM402.4 378.6h1.5v1.5h-1.5zM402.4 391.2h1.5v1.5h-1.5zM402.4 403.8h1.5v1.5h-1.5zM402.4 416.5h1.5v1.5h-1.5zM402.4 429.1h1.5v1.5h-1.5zM402.4 441.7h1.5v1.5h-1.5zM402.4 454.3h1.5v1.5h-1.5zM402.4 466.9h1.5v1.5h-1.5zM402.4 479.5h1.5v1.5h-1.5zM402.4 492.2h1.5v1.5h-1.5zM402.4 504.8h1.5v1.5h-1.5zM465.5 25.4h1.5v1.5h-1.5zM465.5 38.0h1.5v1.5h-1.5zM465.5 50.6h1.5v1.5h-1.5zM465.5 63.2h1.5v1.5h-1.5zM465.5 75.8h1.5v1.5h-1.5zM465.5 88.4h1.5v1.5h-1.5zM465.5 101.1h1.5v1.5h-1.5zM465.5 113.7h1.5v1.5h-1.5zM465.5 126.3h1.5v1.5h-1.5zM465.5 138.9h1.5v1.5h-1.5zM465.5 151.5h1.5v1.5h-1.5zM465.5 164.1h1.5v1.5h-1.5zM465.5 176.8h1.5v1.5h-1.5zM465.5 189.4h1.5v1.5h-1.5zM465.5 202.0h1.5v1.5h-1.5zM465.5 214.6h1.5v1.5h-1.5zM465.5 227.2h1.5v1.5h-1.5zM465.5 239.8h1.5v1.5h-1.5zM465.5 252.5h1.5v1.5h-1.5zM465.5 277.7h1.5v1.5h-1.5zM465.5 290.3h1.5v1.5h-1.5zM465.5 302.9h1.5v1.5h-1.5zM465.5 315.5h1.5v1.5h-1.5zM465.5 328.1h1.5v1.5h-1.5zM465.5 340.8h1.5v1.5h-1.5zM465.5 353.4h1.5v1.5h-1.5zM465.5 366.0h1.5v1.5h-1.5zM465.5 378.6h1.5v1.5h-1.5zM465.5 391.2h1.5v1.5h-1.5zM465.5 403.8h1.5v1.5h-1.5zM465.5 416.5h1.5v1.5h-1.5zM465.5 429.1h1.5v1.5h-1.5zM465.5 441.7h1.5v1.5h-1.5zM465.5 454.3h1.5v1.5h-1.5zM465.5 466.9h1.5v1.5h-1.5zM465.5 479.5h1.5v1.5h-1.5zM465.5 492.2h1.5v1.5h-1.5zM465.5 504.8h1.5v1.5h-1.5zM528.6 25.4h1.5v1.5h-1.5zM528.6 38.0h1.5v1.5h-1.5zM528.6 50.6h1.5v1.5h-1.5zM528.6 63.2h1.5v1.5h-1.5zM528.6 75.8h1.5v1.5h-1.5zM528.6 88.4h1.5v1.5h-1.5zM528.6 101.1h1.5v1.5h-1.5zM528.6 113.7h1.5v1.5h-1.5zM528.6 126.3h1.5v1.5h-1.5zM528.6 138.9h1.5v1.5h-1.5zM528.6 151.5h1.5v1.5h-1.5zM528.6 164.1h1.5v1.5h-1.5zM528.6 176.8h1.5v1.5h-1.5zM528.6 189.4h1.5v1.5h-1.5zM528.6 202.0h1.5v1.5h-1.5zM528.6 214.6h1.5v1.5h-1.5zM528.6 227.2h1.5v1.5h-1.5zM528.6 239.8h1.5v1.5h-1.5zM528.6 252.5h1.5v1.5h-1.5zM528.6 277.7h1.5v1.5h-1.5zM528.6 290.3h1.5v1.5h-1.5zM528.6 302.9h1.5v1.5h-1.5zM528.6 315.5h1.5v1.5h-1.5zM528.6 328.1h1.5v1.5h-1.5zM528.6 340.8h1.5v1.5h-1.5zM528.6 353.4h1.5v1.5h-1.5zM528.6 366.0h1.5v1.5h-1.5zM528.6 378.6h1.5v1.5h-1.5zM528.6 391.2h1.5v1.5h-1.5zM528.6 403.8h1.5v1.5h-1.5zM528.6 416.5h1.5v1.5h-1.5zM528.6 429.1h1.5v1.5h-1.5zM528.6 441.7h1.5v1.5h-1.5zM528.6 454.3h1.5v1.5h-1.5zM528.6 466.9h1.5v1.5h-1.5zM528.6 479.5h1.5v1.5h-1.5zM528.6 492.2h1.5v1.5h-1.5zM528.6 504.8h1.5v1.5h-1.5zM591.7 25.4h1.5v1.5h-1.5zM591.7 38.0h1.5v1.5h-1.5zM591.7 50.6h1.5v1.5h-1.5zM591.7 63.2h1.5v1.5h-1.5zM591.7 75.8h1.5v1.5h-1.5zM591.7 88.4h1.5v1.5h-1.5zM591.7 101.1h1.5v1.5h-1.5zM591.7 113.7h1.5v1.5h-1.5zM591.7 126.3h1.5v1.5h-1.5zM591.7 138.9h1.5v1.5h-1.5zM591.7 151.5h1.5v1.5h-1.5zM591.7 164.1h1.5v1.5h-1.5zM591.7 176.8h1.5v1.5h-1.5zM591.7 189.4h1.5v1.5h-1.5zM591.7 202.0h1.5v1.5h-1.5zM591.7 214.6h1.5v1.5h-1.5zM591.7 227.2h1.5v1.5h-1.5zM591.7 239.8h1.5v1.5h-1.5zM591.7 252.5h1.5v1.5h-1.5zM591.7 277.7h1.5v1.5h-1.5zM591.7 290.3h1.5v1.5h-1.5zM591.7 302.9h1.5v1.5h-1.5zM591.7 315.5h1.5v1.5h-1.5zM591.7 328.1h1.5v1.5h-1.5zM591.7 340.8h1.5v1.5h-1.5zM591.7 353.4h1.5v1.5h-1.5zM591.7 366.0h1.5v1.5h-1.5zM591.7 378.6h1.5v1.5h-1.5zM591.7 391.2h1.5v1.5h-1.5zM591.7 403.8h1.5v1.5h-1.5zM591.7 416.5h1.5v1.5h-1.5zM591.7 429.1h1.5v1.5h-1.5zM591.7 441.7h1.5v1.5h-1.5zM591.7 454.3h1.5v1.5h-1.5zM591.7 466.9h1.5v1.5h-1.5zM591.7 479.5h1.5v1.5h-1.5zM591.7 492.2h1.5v1.5h-1.5zM591.7 504.8h1.5v1.5h-1.5zM36.3 75.8h1.5v1.5h-1.5zM48.9 75.8h1.5v1.5h-1.5zM61.5 75.8h1.5v1.5h-1.5zM74.1 75.8h1.5v1.5h-1.5zM99.4 75.8h1.5v1.5h-1.5zM112.0 75.8h1.5v1.5h-1.5zM124.6 75.8h1.5v1.5h-1.5zM137.3 75.8h1.5v1.5h-1.5zM162.5 75.8h1.5v1.5h-1.5zM175.1 75.8h1.5v1.5h-1.5zM187.8 75.8h1.5v1.5h-1.5zM200.4 75.8h1.5v1.5h-1.5zM225.6 75.8h1.5v1.5h-1.5zM238.3 75.8h1.5v1.5h-1.5zM250.9 75.8h1.5v1.5h-1.5zM263.5 75.8h1.5v1.5h-1.5zM288.8 75.8h1.5v1.5h-1.5zM301.4 75.8h1.5v1.5h-1.5zM314.0 75.8h1.5v1.5h-1.5zM326.6 75.8h1.5v1.5h-1.5zM351.9 75.8h1.5v1.5h-1.5zM364.5 75.8h1.5v1.5h-1.5zM377.1 75.8h1.5v1.5h-1.5zM389.7 75.8h1.5v1.5h-1.5zM415.0 75.8h1.5v1.5h-1.5zM427.6 75.8h1.5v1.5h-1.5zM440.2 75.8h1.5v1.5h-1.5zM452.9 75.8h1.5v1.5h-1.5zM478.1 75.8h1.5v1.5h-1.5zM490.7 75.8h1.5v1.5h-1.5zM503.4 75.8h1.5v1.5h-1.5zM516.0 75.8h1.5v1.5h-1.5zM541.2 75.8h1.5v1.5h-1.5zM553.9 75.8h1.5v1.5h-1.5zM566.5 75.8h1.5v1.5h-1.5zM579.1 75.8h1.5v1.5h-1.5zM604.4 75.8h1.5v1.5h-1.5zM617.0 75.8h1.5v1.5h-1.5zM629.6 75.8h1.5v1.5h-1.5zM642.2 75.8h1.5v1.5h-1.5zM36.3 138.9h1.5v1.5h-1.5zM48.9 138.9h1.5v1.5h-1.5zM61.5 138.9h1.5v1.5h-1.5zM74.1 138.9h1.5v1.5h-1.5zM99.4 138.9h1.5v1.5h-1.5zM112.0 138.9h1.5v1.5h-1.5zM124.6 138.9h1.5v1.5h-1.5zM137.3 138.9h1.5v1.5h-1.5zM162.5 138.9h1.5v1.5h-1.5zM175.1 138.9h1.5v1.5h-1.5zM187.8 138.9h1.5v1.5h-1.5zM200.4 138.9h1.5v1.5h-1.5zM225.6 138.9h1.5v1.5h-1.5zM238.3 138.9h1.5v1.5h-1.5zM250.9 138.9h1.5v1.5h-1.5zM263.5 138.9h1.5v1.5h-1.5zM288.8 138.9h1.5v1.5h-1.5zM301.4 138.9h1.5v1.5h-1.5zM314.0 138.9h1.5v1.5h-1.5zM326.6 138.9h1.5v1.5h-1.5zM351.9 138.9h1.5v1.5h-1.5zM364.5 138.9h1.5v1.5h-1.5zM377.1 138.9h1.5v1.5h-1.5zM389.7 138.9h1.5v1.5h-1.5zM415.0 138.9h1.5v1.5h-1.5zM427.6 138.9h1.5v1.5h-1.5zM440.2 138.9h1.5v1.5h-1.5zM452.9 138.9h1.5v1.5h-1.5zM478.1 138.9h1.5v1.5h-1.5zM490.7 138.9h1.5v1.5h-1.5zM503.4 138.9h1.5v1.5h-1.5zM516.0 138.9h1.5v1.5h-1.5zM541.2 138.9h1.5v1.5h-1.5zM553.9 138.9h1.5v1.5h-1.5zM566.5 138.9h1.5v1.5h-1.5zM579.1 138.9h1.5v1.5h-1.5zM604.4 138.9h1.5v1.5h-1.5zM617.0 138.9h1.5v1.5h-1.5zM629.6 138.9h1.5v1.5h-1.5zM642.2 138.9h1.5v1.5h-1.5zM36.3 202.0h1.5v1.5h-1.5zM48.9 202.0h1.5v1.5h-1.5zM61.5 202.0h1.5v1.5h-1.5zM74.1 202.0h1.5v1.5h-1.5zM99.4 202.0h1.5v1.5h-1.5zM112.0 202.0h1.5v1.5h-1.5zM124.6 202.0h1.5v1.5h-1.5zM137.3 202.0h1.5v1.5h-1.5zM162.5 202.0h1.5v1.5h-1.5zM175.1 202.0h1.5v1.5h-1.5zM187.8 202.0h1.5v1.5h-1.5zM200.4 202.0h1.5v1.5h-1.5zM225.6 202.0h1.5v1.5h-1.5zM238.3 202.0h1.5v1.5h-1.5zM250.9 202.0h1.5v1.5h-1.5zM263.5 202.0h1.5v1.5h-1.5zM288.8 202.0h1.5v1.5h-1.5zM301.4 202.0h1.5v1.5h-1.5zM314.0 202.0h1.5v1.5h-1.5zM326.6 202.0h1.5v1.5h-1.5zM351.9 202.0h1.5v1.5h-1.5zM364.5 202.0h1.5v1.5h-1.5zM377.1 202.0h1.5v1.5h-1.5zM389.7 202.0h1.5v1.5h-1.5zM415.0 202.0h1.5v1.5h-1.5zM427.6 202.0h1.5v1.5h-1.5zM440.2 202.0h1.5v1.5h-1.5zM452.9 202.0h1.5v1.5h-1.5zM478.1 202.0h1.5v1.5h-1.5zM490.7 202.0h1.5v1.5h-1.5zM503.4 202.0h1.5v1.5h-1.5zM516.0 202.0h1.5v1.5h-1.5zM541.2 202.0h1.5v1.5h-1.5zM553.9 202.0h1.5v1.5h-1.5zM566.5 202.0h1.5v1.5h-1.5zM579.1 202.0h1.5v1.5h-1.5zM604.4 202.0h1.5v1.5h-1.5zM617.0 202.0h1.5v1.5h-1.5zM629.6 202.0h1.5v1.5h-1.5zM642.2 202.0h1.5v1.5h-1.5zM36.3 328.1h1.5v1.5h-1.5zM48.9 328.1h1.5v1.5h-1.5zM61.5 328.1h1.5v1.5h-1.5zM74.1 328.1h1.5v1.5h-1.5zM99.4 328.1h1.5v1.5h-1.5zM112.0 328.1h1.5v1.5h-1.5zM124.6 328.1h1.5v1.5h-1.5zM137.3 328.1h1.5v1.5h-1.5zM162.5 328.1h1.5v1.5h-1.5zM175.1 328.1h1.5v1.5h-1.5zM187.8 328.1h1.5v1.5h-1.5zM200.4 328.1h1.5v1.5h-1.5zM225.6 328.1h1.5v1.5h-1.5zM238.3 328.1h1.5v1.5h-1.5zM250.9 328.1h1.5v1.5h-1.5zM263.5 328.1h1.5v1.5h-1.5zM288.8 328.1h1.5v1.5h-1.5zM301.4 328.1h1.5v1.5h-1.5zM314.0 328.1h1.5v1.5h-1.5zM326.6 328.1h1.5v1.5h-1.5zM351.9 328.1h1.5v1.5h-1.5zM364.5 328.1h1.5v1.5h-1.5zM377.1 328.1h1.5v1.5h-1.5zM389.7 328.1h1.5v1.5h-1.5zM415.0 328.1h1.5v1.5h-1.5zM427.6 328.1h1.5v1.5h-1.5zM440.2 328.1h1.5v1.5h-1.5zM452.9 328.1h1.5v1.5h-1.5zM478.1 328.1h1.5v1.5h-1.5zM490.7 328.1h1.5v1.5h-1.5zM503.4 328.1h1.5v1.5h-1.5zM516.0 328.1h1.5v1.5h-1.5zM541.2 328.1h1.5v1.5h-1.5zM553.9 328.1h1.5v1.5h-1.5zM566.5 328.1h1.5v1.5h-1.5zM579.1 328.1h1.5v1.5h-1.5zM604.4 328.1h1.5v1.5h-1.5zM617.0 328.1h1.5v1.5h-1.5zM629.6 328.1h1.5v1.5h-1.5zM642.2 328.1h1.5v1.5h-1.5zM36.3 391.2h1.5v1.5h-1.5zM48.9 391.2h1.5v1.5h-1.5zM61.5 391.2h1.5v1.5h-1.5zM74.1 391.2h1.5v1.5h-1.5zM99.4 391.2h1.5v1.5h-1.5zM112.0 391.2h1.5v1.5h-1.5zM124.6 391.2h1.5v1.5h-1.5zM137.3 391.2h1.5v1.5h-1.5zM162.5 391.2h1.5v1.5h-1.5zM175.1 391.2h1.5v1.5h-1.5zM187.8 391.2h1.5v1.5h-1.5zM200.4 391.2h1.5v1.5h-1.5zM225.6 391.2h1.5v1.5h-1.5zM238.3 391.2h1.5v1.5h-1.5zM250.9 391.2h1.5v1.5h-1.5zM263.5 391.2h1.5v1.5h-1.5zM288.8 391.2h1.5v1.5h-1.5zM301.4 391.2h1.5v1.5h-1.5zM314.0 391.2h1.5v1.5h-1.5zM326.6 391.2h1.5v1.5h-1.5zM351.9 391.2h1.5v1.5h-1.5zM364.5 391.2h1.5v1.5h-1.5zM377.1 391.2h1.5v1.5h-1.5zM389.7 391.2h1.5v1.5h-1.5zM415.0 391.2h1.5v1.5h-1.5zM427.6 391.2h1.5v1.5h-1.5zM440.2 391.2h1.5v1.5h-1.5zM452.9 391.2h1.5v1.5h-1.5zM478.1 391.2h1.5v1.5h-1.5zM490.7 391.2h1.5v1.5h-1.5zM503.4 391.2h1.5v1.5h-1.5zM516.0 391.2h1.5v1.5h-1.5zM541.2 391.2h1.5v1.5h-1.5zM553.9 391.2h1.5v1.5h-1.5zM566.5 391.2h1.5v1.5h-1.5zM579.1 391.2h1.5v1.5h-1.5zM604.4 391.2h1.5v1.5h-1.5zM617.0 391.2h1.5v1.5h-1.5zM629.6 391.2h1.5v1.5h-1.5zM642.2 391.2h1.5v1.5h-1.5zM36.3 454.3h1.5v1.5h-1.5zM48.9 454.3h1.5v1.5h-1.5zM61.5 454.3h1.5v1.5h-1.5zM74.1 454.3h1.5v1.5h-1.5zM99.4 454.3h1.5v1.5h-1.5zM112.0 454.3h1.5v1.5h-1.5zM124.6 454.3h1.5v1.5h-1.5zM137.3 454.3h1.5v1.5h-1.5zM162.5 454.3h1.5v1.5h-1.5zM175.1 454.3h1.5v1.5h-1.5zM187.8 454.3h1.5v1.5h-1.5zM200.4 454.3h1.5v1.5h-1.5zM225.6 454.3h1.5v1.5h-1.5zM238.3 454.3h1.5v1.5h-1.5zM250.9 454.3h1.5v1.5h-1.5zM263.5 454.3h1.5v1.5h-1.5zM288.8 454.3h1.5v1.5h-1.5zM301.4 454.3h1.5v1.5h-1.5zM314.0 454.3h1.5v1.5h-1.5zM326.6 454.3h1.5v1.5h-1.5zM351.9 454.3h1.5v1.5h-1.5zM364.5 454.3h1.5v1.5h-1.5zM377.1 454.3h1.5v1.5h-1.5zM389.7 454.3h1.5v1.5h-1.5zM415.0 454.3h1.5v1.5h-1.5zM427.6 454.3h1.5v1.5h-1.5zM440.2 454.3h1.5v1.5h-1.5zM452.9 454.3h1.5v1.5h-1.5zM478.1 454.3h1.5v1.5h-1.5zM490.7 454.3h1.5v1.5h-1.5zM503.4 454.3h1.5v1.5h-1.5zM516.0 454.3h1.5v1.5h-1.5zM541.2 454.3h1.5v1.5h-1.5zM553.9 454.3h1.5v1.5h-1.5zM566.5 454.3h1.5v1.5h-1.5zM579.1 454.3h1.5v1.5h-1.5zM604.4 454.3h1.5v1.5h-1.5zM617.0 454.3h1.5v1.5h-1.5zM629.6 454.3h1.5v1.5h-1.5zM642.2 454.3h1.5v1.5h-1.5z" fill="#e6a8ea" opacity="0.7"/><path d="M340.0 13.5V518.1M24.4 265.8H655.6M37.0 13.5v5.4M37.0 518.1v-5.4M49.6 13.5v5.4M49.6 518.1v-5.4M62.3 13.5v5.4M62.3 518.1v-5.4M74.9 13.5v5.4M74.9 518.1v-5.4M87.5 13.5v13.2M87.5 518.1v-13.2M100.1 13.5v5.4M100.1 518.1v-5.4M112.8 13.5v5.4M112.8 518.1v-5.4M125.4 13.5v5.4M125.4 518.1v-5.4M138.0 13.5v5.4M138.0 518.1v-5.4M150.6 13.5v13.2M150.6 518.1v-13.2M163.3 13.5v5.4M163.3 518.1v-5.4M175.9 13.5v5.4M175.9 518.1v-5.4M188.5 13.5v5.4M188.5 518.1v-5.4M201.1 13.5v5.4M201.1 518.1v-5.4M213.8 13.5v13.2M213.8 518.1v-13.2M226.4 13.5v5.4M226.4 518.1v-5.4M239.0 13.5v5.4M239.0 518.1v-5.4M251.6 13.5v5.4M251.6 518.1v-5.4M264.3 13.5v5.4M264.3 518.1v-5.4M276.9 13.5v13.2M276.9 518.1v-13.2M289.5 13.5v5.4M289.5 518.1v-5.4M302.1 13.5v5.4M302.1 518.1v-5.4M314.8 13.5v5.4M314.8 518.1v-5.4M327.4 13.5v5.4M327.4 518.1v-5.4M340.0 13.5v13.2M340.0 518.1v-13.2M352.6 13.5v5.4M352.6 518.1v-5.4M365.2 13.5v5.4M365.2 518.1v-5.4M377.9 13.5v5.4M377.9 518.1v-5.4M390.5 13.5v5.4M390.5 518.1v-5.4M403.1 13.5v13.2M403.1 518.1v-13.2M415.7 13.5v5.4M415.7 518.1v-5.4M428.4 13.5v5.4M428.4 518.1v-5.4M441.0 13.5v5.4M441.0 518.1v-5.4M453.6 13.5v5.4M453.6 518.1v-5.4M466.2 13.5v13.2M466.2 518.1v-13.2M478.9 13.5v5.4M478.9 518.1v-5.4M491.5 13.5v5.4M491.5 518.1v-5.4M504.1 13.5v5.4M504.1 518.1v-5.4M516.7 13.5v5.4M516.7 518.1v-5.4M529.4 13.5v13.2M529.4 518.1v-13.2M542.0 13.5v5.4M542.0 518.1v-5.4M554.6 13.5v5.4M554.6 518.1v-5.4M567.2 13.5v5.4M567.2 518.1v-5.4M579.9 13.5v5.4M579.9 518.1v-5.4M592.5 13.5v13.2M592.5 518.1v-13.2M605.1 13.5v5.4M605.1 518.1v-5.4M617.7 13.5v5.4M617.7 518.1v-5.4M630.4 13.5v5.4M630.4 518.1v-5.4M643.0 13.5v5.4M643.0 518.1v-5.4M24.4 26.1h5.4M655.6 26.1h-5.4M24.4 38.7h5.4M655.6 38.7h-5.4M24.4 51.3h5.4M655.6 51.3h-5.4M24.4 64.0h5.4M655.6 64.0h-5.4M24.4 76.6h13.2M655.6 76.6h-13.2M24.4 89.2h5.4M655.6 89.2h-5.4M24.4 101.8h5.4M655.6 101.8h-5.4M24.4 114.4h5.4M655.6 114.4h-5.4M24.4 127.0h5.4M655.6 127.0h-5.4M24.4 139.7h13.2M655.6 139.7h-13.2M24.4 152.3h5.4M655.6 152.3h-5.4M24.4 164.9h5.4M655.6 164.9h-5.4M24.4 177.5h5.4M655.6 177.5h-5.4M24.4 190.1h5.4M655.6 190.1h-5.4M24.4 202.7h13.2M655.6 202.7h-13.2M24.4 215.4h5.4M655.6 215.4h-5.4M24.4 228.0h5.4M655.6 228.0h-5.4M24.4 240.6h5.4M655.6 240.6h-5.4M24.4 253.2h5.4M655.6 253.2h-5.4M24.4 265.8h13.2M655.6 265.8h-13.2M24.4 278.4h5.4M655.6 278.4h-5.4M24.4 291.1h5.4M655.6 291.1h-5.4M24.4 303.7h5.4M655.6 303.7h-5.4M24.4 316.3h5.4M655.6 316.3h-5.4M24.4 328.9h13.2M655.6 328.9h-13.2M24.4 341.5h5.4M655.6 341.5h-5.4M24.4 354.1h5.4M655.6 354.1h-5.4M24.4 366.7h5.4M655.6 366.7h-5.4M24.4 379.4h5.4M655.6 379.4h-5.4M24.4 392.0h13.2M655.6 392.0h-13.2M24.4 404.6h5.4M655.6 404.6h-5.4M24.4 417.2h5.4M655.6 417.2h-5.4M24.4 429.8h5.4M655.6 429.8h-5.4M24.4 442.4h5.4M655.6 442.4h-5.4M24.4 455.1h13.2M655.6 455.1h-13.2M24.4 467.7h5.4M655.6 467.7h-5.4M24.4 480.3h5.4M655.6 480.3h-5.4M24.4 492.9h5.4M655.6 492.9h-5.4M24.4 505.5h5.4M655.6 505.5h-5.4M37.0 260.1v11.4M49.6 260.1v11.4M62.3 260.1v11.4M74.9 260.1v11.4M87.5 256.3v19.0M100.1 260.1v11.4M112.8 260.1v11.4M125.4 260.1v11.4M138.0 260.1v11.4M150.6 256.3v19.0M163.3 260.1v11.4M175.9 260.1v11.4M188.5 260.1v11.4M201.1 260.1v11.4M213.8 256.3v19.0M226.4 260.1v11.4M239.0 260.1v11.4M251.6 260.1v11.4M264.3 260.1v11.4M276.9 256.3v19.0M289.5 260.1v11.4M302.1 260.1v11.4M314.8 260.1v11.4M327.4 260.1v11.4M352.6 260.1v11.4M365.2 260.1v11.4M377.9 260.1v11.4M390.5 260.1v11.4M403.1 256.3v19.0M415.7 260.1v11.4M428.4 260.1v11.4M441.0 260.1v11.4M453.6 260.1v11.4M466.2 256.3v19.0M478.9 260.1v11.4M491.5 260.1v11.4M504.1 260.1v11.4M516.7 260.1v11.4M529.4 256.3v19.0M542.0 260.1v11.4M554.6 260.1v11.4M567.2 260.1v11.4M579.9 260.1v11.4M592.5 256.3v19.0M605.1 260.1v11.4M617.7 260.1v11.4M630.4 260.1v11.4M643.0 260.1v11.4M334.3 26.1h11.4M334.3 38.7h11.4M334.3 51.3h11.4M334.3 64.0h11.4M330.5 76.6h19.0M334.3 89.2h11.4M334.3 101.8h11.4M334.3 114.4h11.4M334.3 127.0h11.4M330.5 139.7h19.0M334.3 152.3h11.4M334.3 164.9h11.4M334.3 177.5h11.4M334.3 190.1h11.4M330.5 202.7h19.0M334.3 215.4h11.4M334.3 228.0h11.4M334.3 240.6h11.4M334.3 253.2h11.4M334.3 278.4h11.4M334.3 291.1h11.4M334.3 303.7h11.4M334.3 316.3h11.4M330.5 328.9h19.0M334.3 341.5h11.4M334.3 354.1h11.4M334.3 366.7h11.4M334.3 379.4h11.4M330.5 392.0h19.0M334.3 404.6h11.4M334.3 417.2h11.4M334.3 429.8h11.4M334.3 442.4h11.4M330.5 455.1h19.0M334.3 467.7h11.4M334.3 480.3h11.4M334.3 492.9h11.4M334.3 505.5h11.4" stroke="#e6a8ea" stroke-width="1.3" fill="none"/></g>
<g clip-path="url(#cb)"><path d="M824.0 25.4h1.5v1.5h-1.5zM824.0 38.0h1.5v1.5h-1.5zM824.0 50.6h1.5v1.5h-1.5zM824.0 63.2h1.5v1.5h-1.5zM824.0 75.8h1.5v1.5h-1.5zM824.0 88.4h1.5v1.5h-1.5zM824.0 101.1h1.5v1.5h-1.5zM824.0 113.7h1.5v1.5h-1.5zM824.0 126.3h1.5v1.5h-1.5zM824.0 138.9h1.5v1.5h-1.5zM824.0 151.5h1.5v1.5h-1.5zM824.0 164.1h1.5v1.5h-1.5zM824.0 176.8h1.5v1.5h-1.5zM824.0 189.4h1.5v1.5h-1.5zM824.0 202.0h1.5v1.5h-1.5zM824.0 214.6h1.5v1.5h-1.5zM824.0 227.2h1.5v1.5h-1.5zM824.0 239.8h1.5v1.5h-1.5zM824.0 252.5h1.5v1.5h-1.5zM824.0 277.7h1.5v1.5h-1.5zM824.0 290.3h1.5v1.5h-1.5zM824.0 302.9h1.5v1.5h-1.5zM824.0 315.5h1.5v1.5h-1.5zM824.0 328.1h1.5v1.5h-1.5zM824.0 340.8h1.5v1.5h-1.5zM824.0 353.4h1.5v1.5h-1.5zM824.0 366.0h1.5v1.5h-1.5zM824.0 378.6h1.5v1.5h-1.5zM824.0 391.2h1.5v1.5h-1.5zM824.0 403.8h1.5v1.5h-1.5zM824.0 416.5h1.5v1.5h-1.5zM824.0 429.1h1.5v1.5h-1.5zM824.0 441.7h1.5v1.5h-1.5zM824.0 454.3h1.5v1.5h-1.5zM824.0 466.9h1.5v1.5h-1.5zM824.0 479.5h1.5v1.5h-1.5zM824.0 492.2h1.5v1.5h-1.5zM824.0 504.8h1.5v1.5h-1.5zM887.1 25.4h1.5v1.5h-1.5zM887.1 38.0h1.5v1.5h-1.5zM887.1 50.6h1.5v1.5h-1.5zM887.1 63.2h1.5v1.5h-1.5zM887.1 75.8h1.5v1.5h-1.5zM887.1 88.4h1.5v1.5h-1.5zM887.1 101.1h1.5v1.5h-1.5zM887.1 113.7h1.5v1.5h-1.5zM887.1 126.3h1.5v1.5h-1.5zM887.1 138.9h1.5v1.5h-1.5zM887.1 151.5h1.5v1.5h-1.5zM887.1 164.1h1.5v1.5h-1.5zM887.1 176.8h1.5v1.5h-1.5zM887.1 189.4h1.5v1.5h-1.5zM887.1 202.0h1.5v1.5h-1.5zM887.1 214.6h1.5v1.5h-1.5zM887.1 227.2h1.5v1.5h-1.5zM887.1 239.8h1.5v1.5h-1.5zM887.1 252.5h1.5v1.5h-1.5zM887.1 277.7h1.5v1.5h-1.5zM887.1 290.3h1.5v1.5h-1.5zM887.1 302.9h1.5v1.5h-1.5zM887.1 315.5h1.5v1.5h-1.5zM887.1 328.1h1.5v1.5h-1.5zM887.1 340.8h1.5v1.5h-1.5zM887.1 353.4h1.5v1.5h-1.5zM887.1 366.0h1.5v1.5h-1.5zM887.1 378.6h1.5v1.5h-1.5zM887.1 391.2h1.5v1.5h-1.5zM887.1 403.8h1.5v1.5h-1.5zM887.1 416.5h1.5v1.5h-1.5zM887.1 429.1h1.5v1.5h-1.5zM887.1 441.7h1.5v1.5h-1.5zM887.1 454.3h1.5v1.5h-1.5zM887.1 466.9h1.5v1.5h-1.5zM887.1 479.5h1.5v1.5h-1.5zM887.1 492.2h1.5v1.5h-1.5zM887.1 504.8h1.5v1.5h-1.5zM950.2 25.4h1.5v1.5h-1.5zM950.2 38.0h1.5v1.5h-1.5zM950.2 50.6h1.5v1.5h-1.5zM950.2 63.2h1.5v1.5h-1.5zM950.2 75.8h1.5v1.5h-1.5zM950.2 88.4h1.5v1.5h-1.5zM950.2 101.1h1.5v1.5h-1.5zM950.2 113.7h1.5v1.5h-1.5zM950.2 126.3h1.5v1.5h-1.5zM950.2 138.9h1.5v1.5h-1.5zM950.2 151.5h1.5v1.5h-1.5zM950.2 164.1h1.5v1.5h-1.5zM950.2 176.8h1.5v1.5h-1.5zM950.2 189.4h1.5v1.5h-1.5zM950.2 202.0h1.5v1.5h-1.5zM950.2 214.6h1.5v1.5h-1.5zM950.2 227.2h1.5v1.5h-1.5zM950.2 239.8h1.5v1.5h-1.5zM950.2 252.5h1.5v1.5h-1.5zM950.2 277.7h1.5v1.5h-1.5zM950.2 290.3h1.5v1.5h-1.5zM950.2 302.9h1.5v1.5h-1.5zM950.2 315.5h1.5v1.5h-1.5zM950.2 328.1h1.5v1.5h-1.5zM950.2 340.8h1.5v1.5h-1.5zM950.2 353.4h1.5v1.5h-1.5zM950.2 366.0h1.5v1.5h-1.5zM950.2 378.6h1.5v1.5h-1.5zM950.2 391.2h1.5v1.5h-1.5zM950.2 403.8h1.5v1.5h-1.5zM950.2 416.5h1.5v1.5h-1.5zM950.2 429.1h1.5v1.5h-1.5zM950.2 441.7h1.5v1.5h-1.5zM950.2 454.3h1.5v1.5h-1.5zM950.2 466.9h1.5v1.5h-1.5zM950.2 479.5h1.5v1.5h-1.5zM950.2 492.2h1.5v1.5h-1.5zM950.2 504.8h1.5v1.5h-1.5zM1013.3 25.4h1.5v1.5h-1.5zM1013.3 38.0h1.5v1.5h-1.5zM1013.3 50.6h1.5v1.5h-1.5zM1013.3 63.2h1.5v1.5h-1.5zM1013.3 75.8h1.5v1.5h-1.5zM1013.3 88.4h1.5v1.5h-1.5zM1013.3 101.1h1.5v1.5h-1.5zM1013.3 113.7h1.5v1.5h-1.5zM1013.3 126.3h1.5v1.5h-1.5zM1013.3 138.9h1.5v1.5h-1.5zM1013.3 151.5h1.5v1.5h-1.5zM1013.3 164.1h1.5v1.5h-1.5zM1013.3 176.8h1.5v1.5h-1.5zM1013.3 189.4h1.5v1.5h-1.5zM1013.3 202.0h1.5v1.5h-1.5zM1013.3 214.6h1.5v1.5h-1.5zM1013.3 227.2h1.5v1.5h-1.5zM1013.3 239.8h1.5v1.5h-1.5zM1013.3 252.5h1.5v1.5h-1.5zM1013.3 277.7h1.5v1.5h-1.5zM1013.3 290.3h1.5v1.5h-1.5zM1013.3 302.9h1.5v1.5h-1.5zM1013.3 315.5h1.5v1.5h-1.5zM1013.3 328.1h1.5v1.5h-1.5zM1013.3 340.8h1.5v1.5h-1.5zM1013.3 353.4h1.5v1.5h-1.5zM1013.3 366.0h1.5v1.5h-1.5zM1013.3 378.6h1.5v1.5h-1.5zM1013.3 391.2h1.5v1.5h-1.5zM1013.3 403.8h1.5v1.5h-1.5zM1013.3 416.5h1.5v1.5h-1.5zM1013.3 429.1h1.5v1.5h-1.5zM1013.3 441.7h1.5v1.5h-1.5zM1013.3 454.3h1.5v1.5h-1.5zM1013.3 466.9h1.5v1.5h-1.5zM1013.3 479.5h1.5v1.5h-1.5zM1013.3 492.2h1.5v1.5h-1.5zM1013.3 504.8h1.5v1.5h-1.5zM1139.6 25.4h1.5v1.5h-1.5zM1139.6 38.0h1.5v1.5h-1.5zM1139.6 50.6h1.5v1.5h-1.5zM1139.6 63.2h1.5v1.5h-1.5zM1139.6 75.8h1.5v1.5h-1.5zM1139.6 88.4h1.5v1.5h-1.5zM1139.6 101.1h1.5v1.5h-1.5zM1139.6 113.7h1.5v1.5h-1.5zM1139.6 126.3h1.5v1.5h-1.5zM1139.6 138.9h1.5v1.5h-1.5zM1139.6 151.5h1.5v1.5h-1.5zM1139.6 164.1h1.5v1.5h-1.5zM1139.6 176.8h1.5v1.5h-1.5zM1139.6 189.4h1.5v1.5h-1.5zM1139.6 202.0h1.5v1.5h-1.5zM1139.6 214.6h1.5v1.5h-1.5zM1139.6 227.2h1.5v1.5h-1.5zM1139.6 239.8h1.5v1.5h-1.5zM1139.6 252.5h1.5v1.5h-1.5zM1139.6 277.7h1.5v1.5h-1.5zM1139.6 290.3h1.5v1.5h-1.5zM1139.6 302.9h1.5v1.5h-1.5zM1139.6 315.5h1.5v1.5h-1.5zM1139.6 328.1h1.5v1.5h-1.5zM1139.6 340.8h1.5v1.5h-1.5zM1139.6 353.4h1.5v1.5h-1.5zM1139.6 366.0h1.5v1.5h-1.5zM1139.6 378.6h1.5v1.5h-1.5zM1139.6 391.2h1.5v1.5h-1.5zM1139.6 403.8h1.5v1.5h-1.5zM1139.6 416.5h1.5v1.5h-1.5zM1139.6 429.1h1.5v1.5h-1.5zM1139.6 441.7h1.5v1.5h-1.5zM1139.6 454.3h1.5v1.5h-1.5zM1139.6 466.9h1.5v1.5h-1.5zM1139.6 479.5h1.5v1.5h-1.5zM1139.6 492.2h1.5v1.5h-1.5zM1139.6 504.8h1.5v1.5h-1.5zM1202.7 25.4h1.5v1.5h-1.5zM1202.7 38.0h1.5v1.5h-1.5zM1202.7 50.6h1.5v1.5h-1.5zM1202.7 63.2h1.5v1.5h-1.5zM1202.7 75.8h1.5v1.5h-1.5zM1202.7 88.4h1.5v1.5h-1.5zM1202.7 101.1h1.5v1.5h-1.5zM1202.7 113.7h1.5v1.5h-1.5zM1202.7 126.3h1.5v1.5h-1.5zM1202.7 138.9h1.5v1.5h-1.5zM1202.7 151.5h1.5v1.5h-1.5zM1202.7 164.1h1.5v1.5h-1.5zM1202.7 176.8h1.5v1.5h-1.5zM1202.7 189.4h1.5v1.5h-1.5zM1202.7 202.0h1.5v1.5h-1.5zM1202.7 214.6h1.5v1.5h-1.5zM1202.7 227.2h1.5v1.5h-1.5zM1202.7 239.8h1.5v1.5h-1.5zM1202.7 252.5h1.5v1.5h-1.5zM1202.7 277.7h1.5v1.5h-1.5zM1202.7 290.3h1.5v1.5h-1.5zM1202.7 302.9h1.5v1.5h-1.5zM1202.7 315.5h1.5v1.5h-1.5zM1202.7 328.1h1.5v1.5h-1.5zM1202.7 340.8h1.5v1.5h-1.5zM1202.7 353.4h1.5v1.5h-1.5zM1202.7 366.0h1.5v1.5h-1.5zM1202.7 378.6h1.5v1.5h-1.5zM1202.7 391.2h1.5v1.5h-1.5zM1202.7 403.8h1.5v1.5h-1.5zM1202.7 416.5h1.5v1.5h-1.5zM1202.7 429.1h1.5v1.5h-1.5zM1202.7 441.7h1.5v1.5h-1.5zM1202.7 454.3h1.5v1.5h-1.5zM1202.7 466.9h1.5v1.5h-1.5zM1202.7 479.5h1.5v1.5h-1.5zM1202.7 492.2h1.5v1.5h-1.5zM1202.7 504.8h1.5v1.5h-1.5zM1265.8 25.4h1.5v1.5h-1.5zM1265.8 38.0h1.5v1.5h-1.5zM1265.8 50.6h1.5v1.5h-1.5zM1265.8 63.2h1.5v1.5h-1.5zM1265.8 75.8h1.5v1.5h-1.5zM1265.8 88.4h1.5v1.5h-1.5zM1265.8 101.1h1.5v1.5h-1.5zM1265.8 113.7h1.5v1.5h-1.5zM1265.8 126.3h1.5v1.5h-1.5zM1265.8 138.9h1.5v1.5h-1.5zM1265.8 151.5h1.5v1.5h-1.5zM1265.8 164.1h1.5v1.5h-1.5zM1265.8 176.8h1.5v1.5h-1.5zM1265.8 189.4h1.5v1.5h-1.5zM1265.8 202.0h1.5v1.5h-1.5zM1265.8 214.6h1.5v1.5h-1.5zM1265.8 227.2h1.5v1.5h-1.5zM1265.8 239.8h1.5v1.5h-1.5zM1265.8 252.5h1.5v1.5h-1.5zM1265.8 277.7h1.5v1.5h-1.5zM1265.8 290.3h1.5v1.5h-1.5zM1265.8 302.9h1.5v1.5h-1.5zM1265.8 315.5h1.5v1.5h-1.5zM1265.8 328.1h1.5v1.5h-1.5zM1265.8 340.8h1.5v1.5h-1.5zM1265.8 353.4h1.5v1.5h-1.5zM1265.8 366.0h1.5v1.5h-1.5zM1265.8 378.6h1.5v1.5h-1.5zM1265.8 391.2h1.5v1.5h-1.5zM1265.8 403.8h1.5v1.5h-1.5zM1265.8 416.5h1.5v1.5h-1.5zM1265.8 429.1h1.5v1.5h-1.5zM1265.8 441.7h1.5v1.5h-1.5zM1265.8 454.3h1.5v1.5h-1.5zM1265.8 466.9h1.5v1.5h-1.5zM1265.8 479.5h1.5v1.5h-1.5zM1265.8 492.2h1.5v1.5h-1.5zM1265.8 504.8h1.5v1.5h-1.5zM1328.9 25.4h1.5v1.5h-1.5zM1328.9 38.0h1.5v1.5h-1.5zM1328.9 50.6h1.5v1.5h-1.5zM1328.9 63.2h1.5v1.5h-1.5zM1328.9 75.8h1.5v1.5h-1.5zM1328.9 88.4h1.5v1.5h-1.5zM1328.9 101.1h1.5v1.5h-1.5zM1328.9 113.7h1.5v1.5h-1.5zM1328.9 126.3h1.5v1.5h-1.5zM1328.9 138.9h1.5v1.5h-1.5zM1328.9 151.5h1.5v1.5h-1.5zM1328.9 164.1h1.5v1.5h-1.5zM1328.9 176.8h1.5v1.5h-1.5zM1328.9 189.4h1.5v1.5h-1.5zM1328.9 202.0h1.5v1.5h-1.5zM1328.9 214.6h1.5v1.5h-1.5zM1328.9 227.2h1.5v1.5h-1.5zM1328.9 239.8h1.5v1.5h-1.5zM1328.9 252.5h1.5v1.5h-1.5zM1328.9 277.7h1.5v1.5h-1.5zM1328.9 290.3h1.5v1.5h-1.5zM1328.9 302.9h1.5v1.5h-1.5zM1328.9 315.5h1.5v1.5h-1.5zM1328.9 328.1h1.5v1.5h-1.5zM1328.9 340.8h1.5v1.5h-1.5zM1328.9 353.4h1.5v1.5h-1.5zM1328.9 366.0h1.5v1.5h-1.5zM1328.9 378.6h1.5v1.5h-1.5zM1328.9 391.2h1.5v1.5h-1.5zM1328.9 403.8h1.5v1.5h-1.5zM1328.9 416.5h1.5v1.5h-1.5zM1328.9 429.1h1.5v1.5h-1.5zM1328.9 441.7h1.5v1.5h-1.5zM1328.9 454.3h1.5v1.5h-1.5zM1328.9 466.9h1.5v1.5h-1.5zM1328.9 479.5h1.5v1.5h-1.5zM1328.9 492.2h1.5v1.5h-1.5zM1328.9 504.8h1.5v1.5h-1.5zM773.5 75.8h1.5v1.5h-1.5zM786.1 75.8h1.5v1.5h-1.5zM798.7 75.8h1.5v1.5h-1.5zM811.3 75.8h1.5v1.5h-1.5zM836.6 75.8h1.5v1.5h-1.5zM849.2 75.8h1.5v1.5h-1.5zM861.8 75.8h1.5v1.5h-1.5zM874.5 75.8h1.5v1.5h-1.5zM899.7 75.8h1.5v1.5h-1.5zM912.3 75.8h1.5v1.5h-1.5zM925.0 75.8h1.5v1.5h-1.5zM937.6 75.8h1.5v1.5h-1.5zM962.8 75.8h1.5v1.5h-1.5zM975.5 75.8h1.5v1.5h-1.5zM988.1 75.8h1.5v1.5h-1.5zM1000.7 75.8h1.5v1.5h-1.5zM1026.0 75.8h1.5v1.5h-1.5zM1038.6 75.8h1.5v1.5h-1.5zM1051.2 75.8h1.5v1.5h-1.5zM1063.8 75.8h1.5v1.5h-1.5zM1089.1 75.8h1.5v1.5h-1.5zM1101.7 75.8h1.5v1.5h-1.5zM1114.3 75.8h1.5v1.5h-1.5zM1126.9 75.8h1.5v1.5h-1.5zM1152.2 75.8h1.5v1.5h-1.5zM1164.8 75.8h1.5v1.5h-1.5zM1177.4 75.8h1.5v1.5h-1.5zM1190.1 75.8h1.5v1.5h-1.5zM1215.3 75.8h1.5v1.5h-1.5zM1227.9 75.8h1.5v1.5h-1.5zM1240.6 75.8h1.5v1.5h-1.5zM1253.2 75.8h1.5v1.5h-1.5zM1278.4 75.8h1.5v1.5h-1.5zM1291.1 75.8h1.5v1.5h-1.5zM1303.7 75.8h1.5v1.5h-1.5zM1316.3 75.8h1.5v1.5h-1.5zM1341.6 75.8h1.5v1.5h-1.5zM1354.2 75.8h1.5v1.5h-1.5zM1366.8 75.8h1.5v1.5h-1.5zM1379.4 75.8h1.5v1.5h-1.5zM773.5 138.9h1.5v1.5h-1.5zM786.1 138.9h1.5v1.5h-1.5zM798.7 138.9h1.5v1.5h-1.5zM811.3 138.9h1.5v1.5h-1.5zM836.6 138.9h1.5v1.5h-1.5zM849.2 138.9h1.5v1.5h-1.5zM861.8 138.9h1.5v1.5h-1.5zM874.5 138.9h1.5v1.5h-1.5zM899.7 138.9h1.5v1.5h-1.5zM912.3 138.9h1.5v1.5h-1.5zM925.0 138.9h1.5v1.5h-1.5zM937.6 138.9h1.5v1.5h-1.5zM962.8 138.9h1.5v1.5h-1.5zM975.5 138.9h1.5v1.5h-1.5zM988.1 138.9h1.5v1.5h-1.5zM1000.7 138.9h1.5v1.5h-1.5zM1026.0 138.9h1.5v1.5h-1.5zM1038.6 138.9h1.5v1.5h-1.5zM1051.2 138.9h1.5v1.5h-1.5zM1063.8 138.9h1.5v1.5h-1.5zM1089.1 138.9h1.5v1.5h-1.5zM1101.7 138.9h1.5v1.5h-1.5zM1114.3 138.9h1.5v1.5h-1.5zM1126.9 138.9h1.5v1.5h-1.5zM1152.2 138.9h1.5v1.5h-1.5zM1164.8 138.9h1.5v1.5h-1.5zM1177.4 138.9h1.5v1.5h-1.5zM1190.1 138.9h1.5v1.5h-1.5zM1215.3 138.9h1.5v1.5h-1.5zM1227.9 138.9h1.5v1.5h-1.5zM1240.6 138.9h1.5v1.5h-1.5zM1253.2 138.9h1.5v1.5h-1.5zM1278.4 138.9h1.5v1.5h-1.5zM1291.1 138.9h1.5v1.5h-1.5zM1303.7 138.9h1.5v1.5h-1.5zM1316.3 138.9h1.5v1.5h-1.5zM1341.6 138.9h1.5v1.5h-1.5zM1354.2 138.9h1.5v1.5h-1.5zM1366.8 138.9h1.5v1.5h-1.5zM1379.4 138.9h1.5v1.5h-1.5zM773.5 202.0h1.5v1.5h-1.5zM786.1 202.0h1.5v1.5h-1.5zM798.7 202.0h1.5v1.5h-1.5zM811.3 202.0h1.5v1.5h-1.5zM836.6 202.0h1.5v1.5h-1.5zM849.2 202.0h1.5v1.5h-1.5zM861.8 202.0h1.5v1.5h-1.5zM874.5 202.0h1.5v1.5h-1.5zM899.7 202.0h1.5v1.5h-1.5zM912.3 202.0h1.5v1.5h-1.5zM925.0 202.0h1.5v1.5h-1.5zM937.6 202.0h1.5v1.5h-1.5zM962.8 202.0h1.5v1.5h-1.5zM975.5 202.0h1.5v1.5h-1.5zM988.1 202.0h1.5v1.5h-1.5zM1000.7 202.0h1.5v1.5h-1.5zM1026.0 202.0h1.5v1.5h-1.5zM1038.6 202.0h1.5v1.5h-1.5zM1051.2 202.0h1.5v1.5h-1.5zM1063.8 202.0h1.5v1.5h-1.5zM1089.1 202.0h1.5v1.5h-1.5zM1101.7 202.0h1.5v1.5h-1.5zM1114.3 202.0h1.5v1.5h-1.5zM1126.9 202.0h1.5v1.5h-1.5zM1152.2 202.0h1.5v1.5h-1.5zM1164.8 202.0h1.5v1.5h-1.5zM1177.4 202.0h1.5v1.5h-1.5zM1190.1 202.0h1.5v1.5h-1.5zM1215.3 202.0h1.5v1.5h-1.5zM1227.9 202.0h1.5v1.5h-1.5zM1240.6 202.0h1.5v1.5h-1.5zM1253.2 202.0h1.5v1.5h-1.5zM1278.4 202.0h1.5v1.5h-1.5zM1291.1 202.0h1.5v1.5h-1.5zM1303.7 202.0h1.5v1.5h-1.5zM1316.3 202.0h1.5v1.5h-1.5zM1341.6 202.0h1.5v1.5h-1.5zM1354.2 202.0h1.5v1.5h-1.5zM1366.8 202.0h1.5v1.5h-1.5zM1379.4 202.0h1.5v1.5h-1.5zM773.5 328.1h1.5v1.5h-1.5zM786.1 328.1h1.5v1.5h-1.5zM798.7 328.1h1.5v1.5h-1.5zM811.3 328.1h1.5v1.5h-1.5zM836.6 328.1h1.5v1.5h-1.5zM849.2 328.1h1.5v1.5h-1.5zM861.8 328.1h1.5v1.5h-1.5zM874.5 328.1h1.5v1.5h-1.5zM899.7 328.1h1.5v1.5h-1.5zM912.3 328.1h1.5v1.5h-1.5zM925.0 328.1h1.5v1.5h-1.5zM937.6 328.1h1.5v1.5h-1.5zM962.8 328.1h1.5v1.5h-1.5zM975.5 328.1h1.5v1.5h-1.5zM988.1 328.1h1.5v1.5h-1.5zM1000.7 328.1h1.5v1.5h-1.5zM1026.0 328.1h1.5v1.5h-1.5zM1038.6 328.1h1.5v1.5h-1.5zM1051.2 328.1h1.5v1.5h-1.5zM1063.8 328.1h1.5v1.5h-1.5zM1089.1 328.1h1.5v1.5h-1.5zM1101.7 328.1h1.5v1.5h-1.5zM1114.3 328.1h1.5v1.5h-1.5zM1126.9 328.1h1.5v1.5h-1.5zM1152.2 328.1h1.5v1.5h-1.5zM1164.8 328.1h1.5v1.5h-1.5zM1177.4 328.1h1.5v1.5h-1.5zM1190.1 328.1h1.5v1.5h-1.5zM1215.3 328.1h1.5v1.5h-1.5zM1227.9 328.1h1.5v1.5h-1.5zM1240.6 328.1h1.5v1.5h-1.5zM1253.2 328.1h1.5v1.5h-1.5zM1278.4 328.1h1.5v1.5h-1.5zM1291.1 328.1h1.5v1.5h-1.5zM1303.7 328.1h1.5v1.5h-1.5zM1316.3 328.1h1.5v1.5h-1.5zM1341.6 328.1h1.5v1.5h-1.5zM1354.2 328.1h1.5v1.5h-1.5zM1366.8 328.1h1.5v1.5h-1.5zM1379.4 328.1h1.5v1.5h-1.5zM773.5 391.2h1.5v1.5h-1.5zM786.1 391.2h1.5v1.5h-1.5zM798.7 391.2h1.5v1.5h-1.5zM811.3 391.2h1.5v1.5h-1.5zM836.6 391.2h1.5v1.5h-1.5zM849.2 391.2h1.5v1.5h-1.5zM861.8 391.2h1.5v1.5h-1.5zM874.5 391.2h1.5v1.5h-1.5zM899.7 391.2h1.5v1.5h-1.5zM912.3 391.2h1.5v1.5h-1.5zM925.0 391.2h1.5v1.5h-1.5zM937.6 391.2h1.5v1.5h-1.5zM962.8 391.2h1.5v1.5h-1.5zM975.5 391.2h1.5v1.5h-1.5zM988.1 391.2h1.5v1.5h-1.5zM1000.7 391.2h1.5v1.5h-1.5zM1026.0 391.2h1.5v1.5h-1.5zM1038.6 391.2h1.5v1.5h-1.5zM1051.2 391.2h1.5v1.5h-1.5zM1063.8 391.2h1.5v1.5h-1.5zM1089.1 391.2h1.5v1.5h-1.5zM1101.7 391.2h1.5v1.5h-1.5zM1114.3 391.2h1.5v1.5h-1.5zM1126.9 391.2h1.5v1.5h-1.5zM1152.2 391.2h1.5v1.5h-1.5zM1164.8 391.2h1.5v1.5h-1.5zM1177.4 391.2h1.5v1.5h-1.5zM1190.1 391.2h1.5v1.5h-1.5zM1215.3 391.2h1.5v1.5h-1.5zM1227.9 391.2h1.5v1.5h-1.5zM1240.6 391.2h1.5v1.5h-1.5zM1253.2 391.2h1.5v1.5h-1.5zM1278.4 391.2h1.5v1.5h-1.5zM1291.1 391.2h1.5v1.5h-1.5zM1303.7 391.2h1.5v1.5h-1.5zM1316.3 391.2h1.5v1.5h-1.5zM1341.6 391.2h1.5v1.5h-1.5zM1354.2 391.2h1.5v1.5h-1.5zM1366.8 391.2h1.5v1.5h-1.5zM1379.4 391.2h1.5v1.5h-1.5zM773.5 454.3h1.5v1.5h-1.5zM786.1 454.3h1.5v1.5h-1.5zM798.7 454.3h1.5v1.5h-1.5zM811.3 454.3h1.5v1.5h-1.5zM836.6 454.3h1.5v1.5h-1.5zM849.2 454.3h1.5v1.5h-1.5zM861.8 454.3h1.5v1.5h-1.5zM874.5 454.3h1.5v1.5h-1.5zM899.7 454.3h1.5v1.5h-1.5zM912.3 454.3h1.5v1.5h-1.5zM925.0 454.3h1.5v1.5h-1.5zM937.6 454.3h1.5v1.5h-1.5zM962.8 454.3h1.5v1.5h-1.5zM975.5 454.3h1.5v1.5h-1.5zM988.1 454.3h1.5v1.5h-1.5zM1000.7 454.3h1.5v1.5h-1.5zM1026.0 454.3h1.5v1.5h-1.5zM1038.6 454.3h1.5v1.5h-1.5zM1051.2 454.3h1.5v1.5h-1.5zM1063.8 454.3h1.5v1.5h-1.5zM1089.1 454.3h1.5v1.5h-1.5zM1101.7 454.3h1.5v1.5h-1.5zM1114.3 454.3h1.5v1.5h-1.5zM1126.9 454.3h1.5v1.5h-1.5zM1152.2 454.3h1.5v1.5h-1.5zM1164.8 454.3h1.5v1.5h-1.5zM1177.4 454.3h1.5v1.5h-1.5zM1190.1 454.3h1.5v1.5h-1.5zM1215.3 454.3h1.5v1.5h-1.5zM1227.9 454.3h1.5v1.5h-1.5zM1240.6 454.3h1.5v1.5h-1.5zM1253.2 454.3h1.5v1.5h-1.5zM1278.4 454.3h1.5v1.5h-1.5zM1291.1 454.3h1.5v1.5h-1.5zM1303.7 454.3h1.5v1.5h-1.5zM1316.3 454.3h1.5v1.5h-1.5zM1341.6 454.3h1.5v1.5h-1.5zM1354.2 454.3h1.5v1.5h-1.5zM1366.8 454.3h1.5v1.5h-1.5zM1379.4 454.3h1.5v1.5h-1.5z" fill="#e6a8ea" opacity="0.7"/><path d="M1077.2 13.5V518.1M761.6 265.8H1392.8M774.2 13.5v5.4M774.2 518.1v-5.4M786.8 13.5v5.4M786.8 518.1v-5.4M799.5 13.5v5.4M799.5 518.1v-5.4M812.1 13.5v5.4M812.1 518.1v-5.4M824.7 13.5v13.2M824.7 518.1v-13.2M837.3 13.5v5.4M837.3 518.1v-5.4M850.0 13.5v5.4M850.0 518.1v-5.4M862.6 13.5v5.4M862.6 518.1v-5.4M875.2 13.5v5.4M875.2 518.1v-5.4M887.8 13.5v13.2M887.8 518.1v-13.2M900.5 13.5v5.4M900.5 518.1v-5.4M913.1 13.5v5.4M913.1 518.1v-5.4M925.7 13.5v5.4M925.7 518.1v-5.4M938.3 13.5v5.4M938.3 518.1v-5.4M951.0 13.5v13.2M951.0 518.1v-13.2M963.6 13.5v5.4M963.6 518.1v-5.4M976.2 13.5v5.4M976.2 518.1v-5.4M988.8 13.5v5.4M988.8 518.1v-5.4M1001.5 13.5v5.4M1001.5 518.1v-5.4M1014.1 13.5v13.2M1014.1 518.1v-13.2M1026.7 13.5v5.4M1026.7 518.1v-5.4M1039.3 13.5v5.4M1039.3 518.1v-5.4M1052.0 13.5v5.4M1052.0 518.1v-5.4M1064.6 13.5v5.4M1064.6 518.1v-5.4M1077.2 13.5v13.2M1077.2 518.1v-13.2M1089.8 13.5v5.4M1089.8 518.1v-5.4M1102.4 13.5v5.4M1102.4 518.1v-5.4M1115.1 13.5v5.4M1115.1 518.1v-5.4M1127.7 13.5v5.4M1127.7 518.1v-5.4M1140.3 13.5v13.2M1140.3 518.1v-13.2M1152.9 13.5v5.4M1152.9 518.1v-5.4M1165.6 13.5v5.4M1165.6 518.1v-5.4M1178.2 13.5v5.4M1178.2 518.1v-5.4M1190.8 13.5v5.4M1190.8 518.1v-5.4M1203.4 13.5v13.2M1203.4 518.1v-13.2M1216.1 13.5v5.4M1216.1 518.1v-5.4M1228.7 13.5v5.4M1228.7 518.1v-5.4M1241.3 13.5v5.4M1241.3 518.1v-5.4M1253.9 13.5v5.4M1253.9 518.1v-5.4M1266.6 13.5v13.2M1266.6 518.1v-13.2M1279.2 13.5v5.4M1279.2 518.1v-5.4M1291.8 13.5v5.4M1291.8 518.1v-5.4M1304.4 13.5v5.4M1304.4 518.1v-5.4M1317.1 13.5v5.4M1317.1 518.1v-5.4M1329.7 13.5v13.2M1329.7 518.1v-13.2M1342.3 13.5v5.4M1342.3 518.1v-5.4M1354.9 13.5v5.4M1354.9 518.1v-5.4M1367.6 13.5v5.4M1367.6 518.1v-5.4M1380.2 13.5v5.4M1380.2 518.1v-5.4M761.6 26.1h5.4M1392.8 26.1h-5.4M761.6 38.7h5.4M1392.8 38.7h-5.4M761.6 51.3h5.4M1392.8 51.3h-5.4M761.6 64.0h5.4M1392.8 64.0h-5.4M761.6 76.6h13.2M1392.8 76.6h-13.2M761.6 89.2h5.4M1392.8 89.2h-5.4M761.6 101.8h5.4M1392.8 101.8h-5.4M761.6 114.4h5.4M1392.8 114.4h-5.4M761.6 127.0h5.4M1392.8 127.0h-5.4M761.6 139.7h13.2M1392.8 139.7h-13.2M761.6 152.3h5.4M1392.8 152.3h-5.4M761.6 164.9h5.4M1392.8 164.9h-5.4M761.6 177.5h5.4M1392.8 177.5h-5.4M761.6 190.1h5.4M1392.8 190.1h-5.4M761.6 202.7h13.2M1392.8 202.7h-13.2M761.6 215.4h5.4M1392.8 215.4h-5.4M761.6 228.0h5.4M1392.8 228.0h-5.4M761.6 240.6h5.4M1392.8 240.6h-5.4M761.6 253.2h5.4M1392.8 253.2h-5.4M761.6 265.8h13.2M1392.8 265.8h-13.2M761.6 278.4h5.4M1392.8 278.4h-5.4M761.6 291.1h5.4M1392.8 291.1h-5.4M761.6 303.7h5.4M1392.8 303.7h-5.4M761.6 316.3h5.4M1392.8 316.3h-5.4M761.6 328.9h13.2M1392.8 328.9h-13.2M761.6 341.5h5.4M1392.8 341.5h-5.4M761.6 354.1h5.4M1392.8 354.1h-5.4M761.6 366.7h5.4M1392.8 366.7h-5.4M761.6 379.4h5.4M1392.8 379.4h-5.4M761.6 392.0h13.2M1392.8 392.0h-13.2M761.6 404.6h5.4M1392.8 404.6h-5.4M761.6 417.2h5.4M1392.8 417.2h-5.4M761.6 429.8h5.4M1392.8 429.8h-5.4M761.6 442.4h5.4M1392.8 442.4h-5.4M761.6 455.1h13.2M1392.8 455.1h-13.2M761.6 467.7h5.4M1392.8 467.7h-5.4M761.6 480.3h5.4M1392.8 480.3h-5.4M761.6 492.9h5.4M1392.8 492.9h-5.4M761.6 505.5h5.4M1392.8 505.5h-5.4M774.2 260.1v11.4M786.8 260.1v11.4M799.5 260.1v11.4M812.1 260.1v11.4M824.7 256.3v19.0M837.3 260.1v11.4M850.0 260.1v11.4M862.6 260.1v11.4M875.2 260.1v11.4M887.8 256.3v19.0M900.5 260.1v11.4M913.1 260.1v11.4M925.7 260.1v11.4M938.3 260.1v11.4M951.0 256.3v19.0M963.6 260.1v11.4M976.2 260.1v11.4M988.8 260.1v11.4M1001.5 260.1v11.4M1014.1 256.3v19.0M1026.7 260.1v11.4M1039.3 260.1v11.4M1052.0 260.1v11.4M1064.6 260.1v11.4M1089.8 260.1v11.4M1102.4 260.1v11.4M1115.1 260.1v11.4M1127.7 260.1v11.4M1140.3 256.3v19.0M1152.9 260.1v11.4M1165.6 260.1v11.4M1178.2 260.1v11.4M1190.8 260.1v11.4M1203.4 256.3v19.0M1216.1 260.1v11.4M1228.7 260.1v11.4M1241.3 260.1v11.4M1253.9 260.1v11.4M1266.6 256.3v19.0M1279.2 260.1v11.4M1291.8 260.1v11.4M1304.4 260.1v11.4M1317.1 260.1v11.4M1329.7 256.3v19.0M1342.3 260.1v11.4M1354.9 260.1v11.4M1367.6 260.1v11.4M1380.2 260.1v11.4M1071.5 26.1h11.4M1071.5 38.7h11.4M1071.5 51.3h11.4M1071.5 64.0h11.4M1067.7 76.6h19.0M1071.5 89.2h11.4M1071.5 101.8h11.4M1071.5 114.4h11.4M1071.5 127.0h11.4M1067.7 139.7h19.0M1071.5 152.3h11.4M1071.5 164.9h11.4M1071.5 177.5h11.4M1071.5 190.1h11.4M1067.7 202.7h19.0M1071.5 215.4h11.4M1071.5 228.0h11.4M1071.5 240.6h11.4M1071.5 253.2h11.4M1071.5 278.4h11.4M1071.5 291.1h11.4M1071.5 303.7h11.4M1071.5 316.3h11.4M1067.7 328.9h19.0M1071.5 341.5h11.4M1071.5 354.1h11.4M1071.5 366.7h11.4M1071.5 379.4h11.4M1067.7 392.0h19.0M1071.5 404.6h11.4M1071.5 417.2h11.4M1071.5 429.8h11.4M1071.5 442.4h11.4M1067.7 455.1h19.0M1071.5 467.7h11.4M1071.5 480.3h11.4M1071.5 492.9h11.4M1071.5 505.5h11.4" stroke="#e6a8ea" stroke-width="1.3" fill="none"/></g>
<rect x="12.1" y="446.4" width="12.3" height="17.6" fill="#8b1e8d"/><path d="M24.4 447.3V463.3" stroke="#e6a8ea" stroke-width="1.3"/><path d="M15.0 455.3H37.7" stroke="#e6a8ea" stroke-width="1.1"/><path d="M15.0 455.3H22.4" stroke="#fff" stroke-width="1.1"/><path d="M18.9 452.2L23.3 455.3L18.9 458.4z" fill="#fff"/>
<rect x="749.3" y="451.6" width="12.3" height="17.6" fill="#8b1e8d"/><path d="M761.6 452.5V468.5" stroke="#e6a8ea" stroke-width="1.3"/><path d="M752.2 460.5H774.9" stroke="#e6a8ea" stroke-width="1.1"/><path d="M752.2 460.5H759.6" stroke="#fff" stroke-width="1.1"/><path d="M756.1 457.4L760.5 460.5L756.1 463.6z" fill="#fff"/>
<path d="M78.3 12.8L91.9 12.8L85.1 20.8z" fill="#ec7a3c"/>
<path d="M816.8 12.8L830.4 12.8L823.6 20.0z" fill="#ec7a3c"/>
<path d="M642.8 421.2H653.8" stroke="#8b1e8d" stroke-width="1.6"/><path d="M638.2 421.2L644.0 416.7L643.4 421.2L644.0 425.7z" fill="#8b1e8d"/>
<path d="M1379.7 341.3H1390.7" stroke="#8b1e8d" stroke-width="1.6"/><path d="M1375.1 341.3L1380.9 336.8L1380.3 341.3L1380.9 345.8z" fill="#8b1e8d"/>
<path d="M212.0 110.4H233.0" stroke="#000" stroke-width="1.4"/><path d="M222.5 110.9L227.9 126.4H217.1z" fill="#000"/><path d="M222.5 453.5L227.9 437.7H217.1z" fill="#000"/><path d="M222.5 124.7V437.7" stroke="#000" stroke-width="1.6" stroke-dasharray="9.9 5.25"/>
<path d="M945.0 65.5H966.0" stroke="#000" stroke-width="1.4"/><path d="M955.5 66.0L960.9 81.5H950.1z" fill="#000"/><path d="M955.5 461.0L960.9 445.2H950.1z" fill="#000"/><path d="M955.5 79.8V445.2" stroke="#000" stroke-width="1.6" stroke-dasharray="9.9 5.25"/>
<rect x="556" y="18.8" width="88" height="72" fill="#fff"/>
<rect x="1293" y="18.8" width="88" height="72" fill="#fff"/>
<rect x="33" y="489.2" width="100" height="18.8" fill="#fff"/>
<rect x="776" y="486.5" width="100" height="20" fill="#fff"/>
<rect x="1312" y="487" width="64" height="25" fill="#fff"/>
<text x="557.8" y="41.0" fill="#000" font-size="17.0">V<tspan font-size="11.0" dy="1.8">IN</tspan><tspan dy="-1.8"> = 48V</tspan></text>
<text x="557.8" y="60.9" fill="#000" font-size="17.0">V<tspan font-size="11.0" dy="3.0">OUT</tspan><tspan dy="-3.0"> = 12V</tspan></text>
<text x="558.3" y="80.7" fill="#000" font-size="17.0">I<tspan font-size="11.0" dy="3.0">OUT</tspan><tspan dy="-3.0"> = 8A</tspan></text>
<text x="1294.5" y="40.8" fill="#000" font-size="17.0">V<tspan font-size="11.0" dy="1.8">IN</tspan><tspan dy="-1.8"> = 48V</tspan></text>
<text x="1294.5" y="60.8" fill="#000" font-size="17.0">V<tspan font-size="11.0" dy="3.0">OUT</tspan><tspan dy="-3.0"> = 12V</tspan></text>
<text x="1294.5" y="80.7" fill="#000" font-size="17.0">I<tspan font-size="11.0" dy="3.2">OUT</tspan><tspan dy="-3.2"> = 8A</tspan></text>
<text x="169.6" y="94.7" fill="#000" font-size="17.0">V<tspan font-size="11.0" dy="3.6">DS(pk)</tspan><tspan dy="-3.6"> = 54V</tspan></text>
<text x="900.3" y="50.1" fill="#000" font-size="17.0">V<tspan font-size="11.0" dy="2.7">DS(pk)</tspan><tspan dy="-2.7"> = 62V</tspan></text>
<text x="35.1" y="503.9" fill="#8b1e8d" font-size="17.0">V<tspan font-size="11.0" dy="1.6">SW</tspan><tspan dy="-1.6"> 10V/DIV</tspan></text>
<text x="777.6" y="501.8" fill="#8b1e8d" font-size="17.0">V<tspan font-size="11.0" dy="3.3">SW</tspan><tspan dy="-3.3"> 10V/DIV</tspan></text>
<text x="516.5" y="499.8" font-size="17.0" letter-spacing="-0.2">1μs/DIV</text>
<text x="1313.7" y="503.8" font-size="17.0" letter-spacing="-0.2">1μs/DIV</text>
<text x="335.3" y="564" font-size="22.9">(a)</text>
<text x="1062.1" y="564" font-size="22.9">(b)</text>
<text x="1220.0" y="572.8" font-size="19.25" fill="#c2e1b8">www.cntronics.com</text>
</svg>
</body></html>
